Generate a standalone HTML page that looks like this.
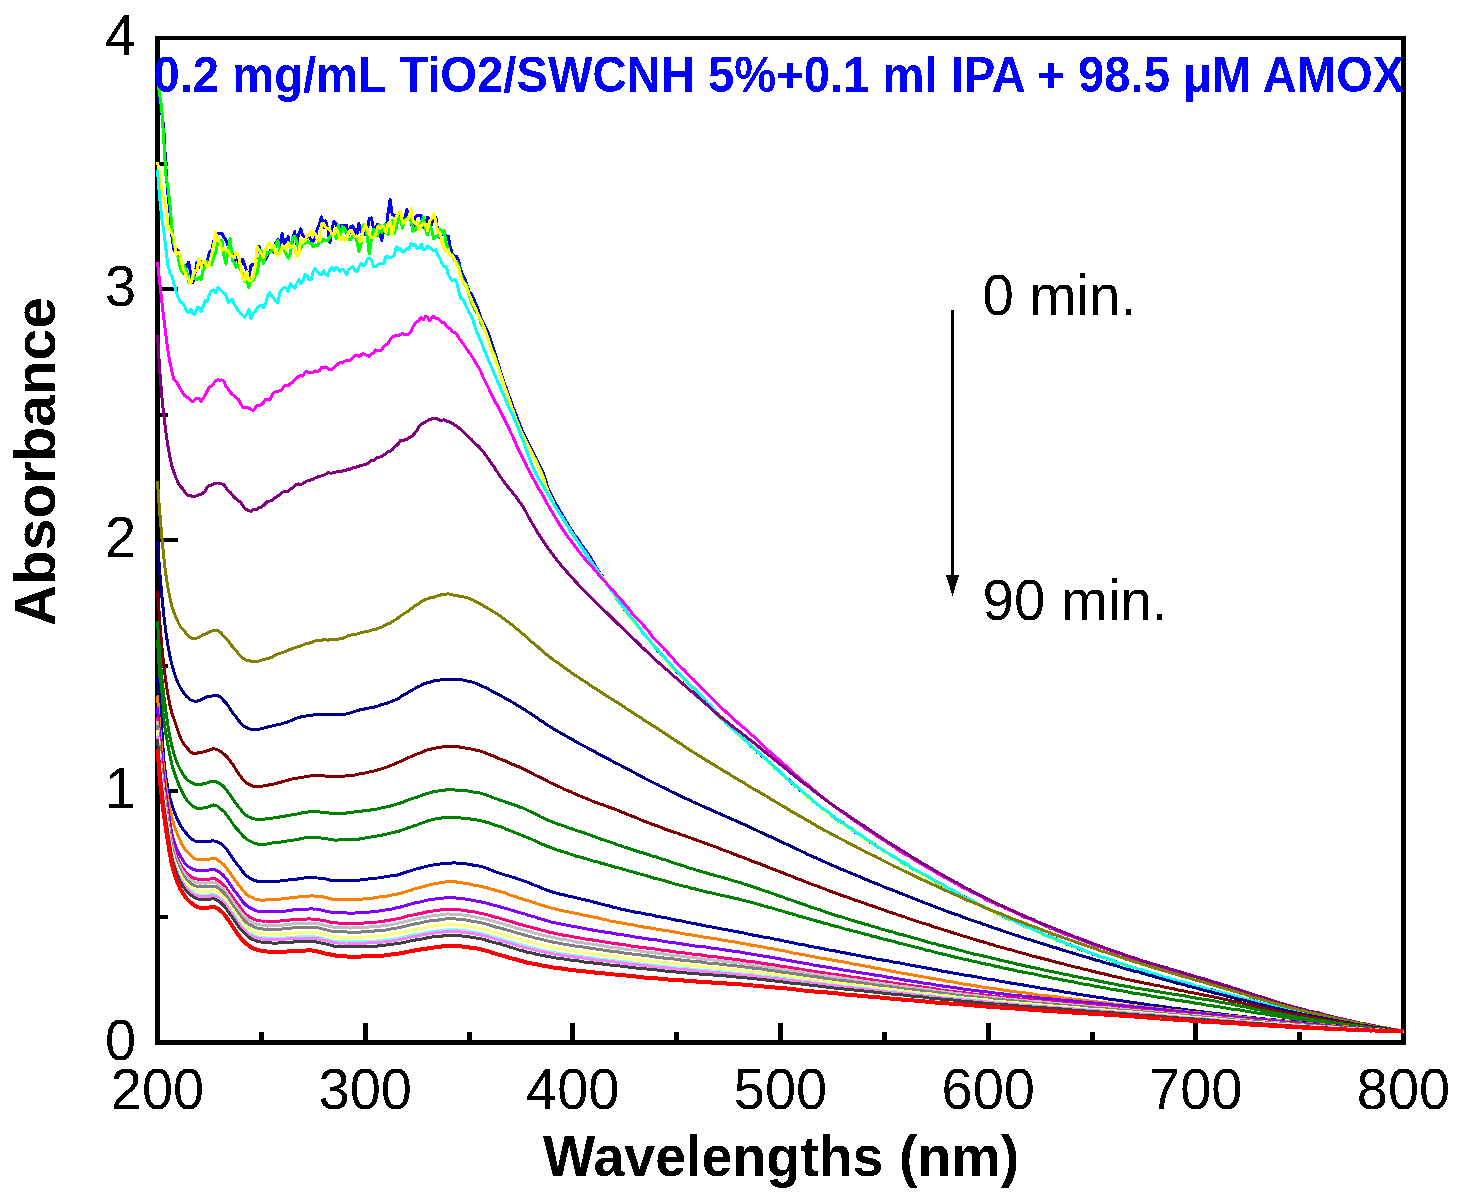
<!DOCTYPE html>
<html lang="en"><head><meta charset="utf-8"><title>Absorbance spectra</title>
<style>html,body{margin:0;padding:0;background:#fff}svg{display:block}</style></head>
<body>
<svg width="1465" height="1203" viewBox="0 0 1465 1203">
<rect width="1465" height="1203" fill="#fff"/>
<g shape-rendering="crispEdges" fill="#000">
<rect x="155" y="36" width="5" height="1009"/>
<rect x="1401" y="36" width="5" height="1009"/>
<rect x="155" y="36" width="1251" height="4"/>
<rect x="155" y="1040" width="1251" height="5"/>
<rect x="258.8" y="1032" width="5" height="9"/>
<rect x="362.7" y="1023" width="5" height="18"/>
<rect x="466.5" y="1032" width="5" height="9"/>
<rect x="570.3" y="1023" width="5" height="18"/>
<rect x="674.2" y="1032" width="5" height="9"/>
<rect x="778.0" y="1023" width="5" height="18"/>
<rect x="881.8" y="1032" width="5" height="9"/>
<rect x="985.7" y="1023" width="5" height="18"/>
<rect x="1089.5" y="1032" width="5" height="9"/>
<rect x="1193.3" y="1023" width="5" height="18"/>
<rect x="1297.2" y="1032" width="5" height="9"/>
<rect x="159" y="915.0" width="9" height="4"/>
<rect x="159" y="789.4" width="19" height="4"/>
<rect x="159" y="663.9" width="9" height="4"/>
<rect x="159" y="538.3" width="19" height="4"/>
<rect x="159" y="412.8" width="9" height="4"/>
<rect x="159" y="287.2" width="19" height="4"/>
<rect x="159" y="161.6" width="9" height="4"/>
</g>
<g fill="none" stroke-linejoin="round" stroke-linecap="butt" shape-rendering="crispEdges">
<path d="M157.5 78.1 L159.6 100.7 L161.7 112.5 L163.7 126.8 L165.8 166.6 L167.9 194.1 L170.0 213.3 L172.0 236.7 L174.1 250.6 L176.2 249.4 L178.3 250.8 L180.3 257.7 L182.4 268.8 L184.5 274.1 L186.6 265.4 L188.7 262.2 L190.7 273.7 L192.8 282.9 L194.9 273.8 L197.0 262.2 L199.0 267.4 L201.1 262.3 L203.2 261.2 L205.3 266.4 L207.3 260.9 L209.4 252.1 L211.5 251.2 L213.6 241.8 L215.6 236.7 L217.7 233.2 L219.8 233.1 L221.9 233.7 L224.0 237.2 L226.0 240.3 L228.1 245.5 L230.2 249.6 L232.3 253.8 L234.3 263.9 L236.4 253.3 L238.5 263.3 L240.6 266.5 L242.6 259.4 L244.7 265.0 L246.8 271.0 L248.9 276.8 L250.9 265.9 L253.0 264.2 L255.1 264.8 L257.2 251.6 L259.3 246.7 L261.3 256.2 L263.4 259.9 L265.5 260.1 L267.6 256.0 L269.6 251.6 L271.7 248.1 L273.8 252.3 L275.9 243.0 L277.9 239.8 L280.0 244.2 L282.1 233.8 L284.2 243.6 L286.3 239.8 L288.3 236.7 L290.4 251.0 L292.5 239.9 L294.6 231.6 L296.6 243.7 L298.7 234.2 L300.8 228.9 L302.9 235.6 L304.9 237.4 L307.0 237.4 L309.1 236.1 L311.2 240.5 L313.2 241.2 L315.3 237.4 L317.4 228.4 L319.5 224.0 L321.6 216.7 L323.6 227.6 L325.7 221.0 L327.8 228.6 L329.9 242.3 L331.9 228.5 L334.0 221.6 L336.1 223.9 L338.2 232.0 L340.2 226.3 L342.3 225.2 L344.4 225.2 L346.5 225.5 L348.6 235.1 L350.6 226.9 L352.7 225.9 L354.8 230.2 L356.9 234.1 L358.9 223.7 L361.0 230.7 L363.1 234.0 L365.2 234.3 L367.2 230.9 L369.3 218.2 L371.4 218.0 L373.5 228.8 L375.6 228.0 L377.6 224.2 L379.7 233.6 L381.8 240.6 L383.9 228.1 L385.9 231.5 L388.0 213.6 L390.1 199.6 L392.2 214.4 L394.2 215.4 L396.3 215.8 L398.4 217.8 L400.5 214.7 L402.5 218.6 L404.6 219.4 L406.7 209.6 L408.8 215.4 L410.9 220.7 L412.9 229.9 L415.0 217.8 L417.1 215.0 L419.2 215.8 L421.2 215.9 L423.3 227.1 L425.4 225.5 L427.5 217.1 L429.5 218.5 L431.6 224.6 L433.7 217.1 L435.8 216.9 L437.9 232.3 L439.9 237.8 L442.0 234.2 L444.1 233.0 L446.2 237.2 L448.2 236.1 L450.3 247.2 L452.4 254.0 L454.5 256.5 L456.5 256.4 L458.6 260.9 L460.7 269.8 L462.8 275.5 L464.8 278.4 L466.9 284.6 L469.0 291.3 L471.1 294.0 L473.2 297.9 L475.2 302.6 L477.3 306.9 L479.4 313.9 L481.5 319.4 L483.5 323.7 L485.6 327.1 L487.7 331.7 L489.8 338.1 L491.8 344.0 L493.9 350.4 L496.0 356.4 L498.1 363.3 L500.1 370.7 L502.2 377.2 L504.3 383.3 L506.4 388.6 L508.5 394.4 L510.5 400.0 L512.6 405.9 L514.7 411.4 L516.8 416.7 L518.8 422.0 L520.9 427.4 L523.0 432.3 L525.1 436.7 L527.1 440.6 L529.2 444.8 L531.3 448.6 L533.4 453.1 L535.5 457.1 L537.5 461.1 L539.6 465.5 L541.7 469.7 L543.8 474.6 L545.8 481.0 L547.9 487.9 L550.0 492.4 L552.1 496.5 L554.1 500.9 L556.2 504.4 L558.3 507.8 L560.4 511.6 L562.5 515.3 L564.5 518.6 L566.6 522.3 L568.7 525.5 L570.8 528.7 L572.8 532.3 L574.9 535.7 L577.0 537.9 L579.1 540.8 L581.1 544.4 L583.2 547.0 L585.3 549.8 L587.4 552.9 L589.4 555.9 L591.5 559.2 L593.6 562.8 L595.7 566.6 L597.8 570.1 L599.8 573.1 L601.9 575.6 L604.0 579.1 L606.1 582.5 L608.1 585.7 L610.2 588.8 L612.3 591.3 L614.4 594.6 L616.4 597.2 L618.5 600.2 L620.6 603.6 L622.7 606.6 L624.8 609.8 L626.8 611.7 L628.9 614.7 L631.0 617.9 L633.1 620.4 L635.1 623.2 L637.2 625.5 L639.3 628.3 L641.4 631.1 L643.4 633.3 L645.5 635.6 L647.6 638.3 L649.7 640.7 L651.7 643.6 L653.8 646.0 L655.9 648.6 L658.0 651.1 L660.1 653.2 L662.1 655.4 L664.2 657.5 L666.3 659.8 L668.4 662.2 L670.4 664.8 L672.5 667.0 L674.6 669.3 L676.7 671.8 L678.7 673.8 L680.8 676.0 L682.9 678.6 L685.0 681.0 L687.0 682.4 L689.1 684.2 L691.2 686.1 L693.3 688.0 L695.4 690.4 L697.4 692.4 L699.5 694.4 L701.6 696.8 L703.7 698.6 L705.7 700.7 L707.8 703.2 L709.9 705.9 L712.0 708.2 L714.0 710.7 L716.1 713.3 L718.2 715.6 L720.3 717.6 L722.4 719.3 L724.4 720.9 L726.5 723.6 L728.6 725.7 L730.7 727.2 L732.7 729.1 L734.8 731.1 L736.9 732.7 L739.0 734.9 L741.0 736.8 L743.1 738.7 L745.2 740.9 L747.3 742.7 L749.4 744.7 L751.4 746.6 L753.5 748.4 L755.6 750.3 L757.7 752.6 L759.7 754.3 L761.8 756.4 L763.9 757.8 L766.0 759.8 L768.0 761.8 L770.1 763.3 L772.2 764.6 L774.3 767.3 L776.3 769.1 L778.4 770.6 L780.5 772.8 L782.6 774.8 L784.7 776.7 L786.7 778.4 L788.8 779.8 L790.9 782.1 L793.0 783.8 L795.0 785.6 L797.1 787.7 L799.2 789.7 L801.3 791.2 L803.3 792.7 L805.4 794.5 L807.5 795.8 L809.6 797.6 L811.6 799.4 L813.7 801.0 L815.8 803.0 L817.9 804.7 L820.0 806.8 L822.0 808.7 L824.1 809.4 L826.2 811.1 L828.3 812.6 L830.3 814.5 L832.4 816.1 L834.5 817.8 L836.6 819.3 L838.6 820.8 L840.7 822.0 L842.8 822.8 L844.9 824.3 L847.0 826.0 L849.0 827.6 L851.1 828.9 L853.2 831.0 L855.3 832.3 L857.3 833.8 L859.4 835.0 L861.5 836.7 L863.6 837.6 L865.6 839.1 L867.7 840.2 L869.8 841.8 L871.9 843.7 L874.0 844.3 L876.0 845.4 L878.1 847.2 L880.2 848.6 L882.3 849.5 L884.3 851.3 L886.4 852.7 L888.5 854.2 L890.6 855.4 L892.6 856.2 L894.7 857.4 L896.8 859.3 L898.9 860.1 L900.9 861.2 L903.0 862.9 L905.1 864.4 L907.2 865.7 L909.3 866.3 L911.3 868.1 L913.4 869.3 L915.5 870.2 L917.6 871.5 L919.6 872.6 L921.7 873.6 L923.8 874.8 L925.9 876.6 L927.9 877.3 L930.0 877.8 L932.1 879.6 L934.2 881.1 L936.2 882.3 L938.3 883.8 L940.4 884.5 L942.5 885.5 L944.6 886.8 L946.6 888.2 L948.7 889.4 L950.8 890.0 L952.9 890.7 L954.9 892.0 L957.0 892.9 L959.1 894.5 L961.2 895.6 L963.2 896.5 L965.3 897.4 L967.4 899.0 L969.5 900.1 L971.6 900.8 L973.6 902.0 L975.7 903.0 L977.8 904.1 L979.9 905.5 L981.9 906.2 L984.0 907.2 L986.1 908.3 L988.2 909.5 L990.2 910.4 L992.3 911.2 L994.4 911.9 L996.5 913.1 L998.5 913.9 L1000.6 915.1 L1002.7 916.2 L1004.8 917.2 L1006.9 917.9 L1008.9 918.7 L1011.0 919.6 L1013.1 921.0 L1015.2 921.9 L1017.2 922.7 L1019.3 923.2 L1021.4 924.4 L1023.5 924.6 L1025.5 926.4 L1027.6 927.5 L1029.7 928.3 L1031.8 928.9 L1033.9 929.7 L1035.9 931.1 L1038.0 932.0 L1040.1 932.9 L1042.2 934.1 L1044.2 935.0 L1046.3 935.1 L1048.4 935.8 L1050.5 936.8 L1052.5 937.7 L1054.6 938.3 L1056.7 939.0 L1058.8 940.2 L1060.8 941.3 L1062.9 942.4 L1065.0 943.2 L1067.1 944.4 L1069.2 944.6 L1071.2 945.1 L1073.3 946.4 L1075.4 947.3 L1077.5 947.8 L1079.5 949.0 L1081.6 950.1 L1083.7 951.0 L1085.8 951.4 L1087.8 952.0 L1089.9 952.9 L1092.0 953.7 L1094.1 954.7 L1096.2 955.2 L1098.2 955.9 L1100.3 956.1 L1102.4 957.3 L1104.5 958.7 L1106.5 959.1 L1108.6 959.9 L1110.7 960.0 L1112.8 960.7 L1114.8 961.3 L1116.9 962.3 L1119.0 963.3 L1121.1 963.6 L1123.2 964.1 L1125.2 965.0 L1127.3 966.5 L1129.4 966.9 L1131.5 967.3 L1133.5 968.0 L1135.6 968.7 L1137.7 969.2 L1139.8 969.5 L1141.8 970.1 L1143.9 971.5 L1146.0 972.1 L1148.1 972.3 L1150.1 972.6 L1152.2 973.4 L1154.3 974.3 L1156.4 974.7 L1158.5 975.6 L1160.5 976.0 L1162.6 976.5 L1164.7 977.5 L1166.8 978.0 L1168.8 978.8 L1170.9 979.1 L1173.0 979.5 L1175.1 980.3 L1177.1 980.9 L1179.2 981.7 L1181.3 982.2 L1183.4 982.5 L1185.5 983.2 L1187.5 983.9 L1189.6 984.0 L1191.7 984.5 L1193.8 985.2 L1195.8 986.1 L1197.9 986.5 L1200.0 987.2 L1202.1 987.3 L1204.1 987.9 L1206.2 988.9 L1208.3 989.3 L1210.4 990.0 L1212.4 989.9 L1214.5 990.6 L1216.6 991.4 L1218.7 991.9 L1220.8 992.1 L1222.8 993.0 L1224.9 993.1 L1227.0 994.1 L1229.1 994.9 L1231.1 995.6 L1233.2 995.9 L1235.3 996.0 L1237.4 996.6 L1239.4 997.3 L1241.5 998.1 L1243.6 998.5 L1245.7 999.2 L1247.8 999.8 L1249.8 1000.6 L1251.9 1000.4 L1254.0 1000.8 L1256.1 1001.9 L1258.1 1002.6 L1260.2 1002.8 L1262.3 1003.2 L1264.4 1003.8 L1266.4 1004.4 L1268.5 1004.8 L1270.6 1005.2 L1272.7 1005.5 L1274.7 1006.2 L1276.8 1007.2 L1278.9 1007.4 L1281.0 1008.0 L1283.1 1009.1 L1285.1 1009.2 L1287.2 1010.0 L1289.3 1010.1 L1291.4 1010.7 L1293.4 1011.0 L1295.5 1010.9 L1297.6 1011.6 L1299.7 1012.7 L1301.7 1012.7 L1303.8 1013.1 L1305.9 1013.3 L1308.0 1013.5 L1310.0 1014.3 L1312.1 1014.8 L1314.2 1015.3 L1316.3 1016.1 L1318.4 1015.9 L1320.4 1016.1 L1322.5 1016.8 L1324.6 1018.0 L1326.7 1018.0 L1328.7 1018.0 L1330.8 1018.6 L1332.9 1019.6 L1335.0 1019.6 L1337.0 1019.7 L1339.1 1020.2 L1341.2 1020.9 L1343.3 1021.7 L1345.4 1021.4 L1347.4 1021.2 L1349.5 1022.0 L1351.6 1022.8 L1353.7 1022.5 L1355.7 1022.9 L1357.8 1024.0 L1359.9 1024.2 L1362.0 1024.6 L1364.0 1025.0 L1366.1 1025.5 L1368.2 1025.9 L1370.3 1026.2 L1372.3 1026.8 L1374.4 1026.8 L1376.5 1027.1 L1378.6 1027.8 L1380.7 1027.8 L1382.7 1028.0 L1384.8 1028.3 L1386.9 1028.5 L1389.0 1029.6 L1391.0 1029.9 L1393.1 1030.4 L1395.2 1030.7 L1397.3 1030.6 L1399.3 1030.8 L1401.4 1031.2 L1403.5 1031.5" stroke="#0000ff" stroke-width="3"/>
<path d="M157.5 78.1 L159.6 94.4 L161.7 108.1 L163.7 138.6 L165.8 174.5 L167.9 186.9 L170.0 204.9 L172.0 229.5 L174.1 244.1 L176.2 252.9 L178.3 257.7 L180.3 268.6 L182.4 272.9 L184.5 266.0 L186.6 271.3 L188.7 281.9 L190.7 283.1 L192.8 274.6 L194.9 278.2 L197.0 279.9 L199.0 277.0 L201.1 279.8 L203.2 269.7 L205.3 266.5 L207.3 261.7 L209.4 263.1 L211.5 264.7 L213.6 257.6 L215.6 253.2 L217.7 242.4 L219.8 244.6 L221.9 240.0 L224.0 256.1 L226.0 264.1 L228.1 249.6 L230.2 238.3 L232.3 260.0 L234.3 263.1 L236.4 267.5 L238.5 264.4 L240.6 270.0 L242.6 273.7 L244.7 281.3 L246.8 281.1 L248.9 287.8 L250.9 278.9 L253.0 280.8 L255.1 276.7 L257.2 273.0 L259.3 260.5 L261.3 250.8 L263.4 263.3 L265.5 256.5 L267.6 252.3 L269.6 253.0 L271.7 248.3 L273.8 251.5 L275.9 244.9 L277.9 240.4 L280.0 252.0 L282.1 248.0 L284.2 250.7 L286.3 254.2 L288.3 258.0 L290.4 254.0 L292.5 237.4 L294.6 236.4 L296.6 240.6 L298.7 249.7 L300.8 249.1 L302.9 241.2 L304.9 243.2 L307.0 241.0 L309.1 243.1 L311.2 243.1 L313.2 246.7 L315.3 244.8 L317.4 245.7 L319.5 241.6 L321.6 242.2 L323.6 239.2 L325.7 240.7 L327.8 240.4 L329.9 237.0 L331.9 234.1 L334.0 233.9 L336.1 238.3 L338.2 225.1 L340.2 236.4 L342.3 226.8 L344.4 228.0 L346.5 233.7 L348.6 239.1 L350.6 239.4 L352.7 236.3 L354.8 236.1 L356.9 241.1 L358.9 251.3 L361.0 244.4 L363.1 224.9 L365.2 226.5 L367.2 235.8 L369.3 254.0 L371.4 239.6 L373.5 229.1 L375.6 234.9 L377.6 235.8 L379.7 225.3 L381.8 232.4 L383.9 225.9 L385.9 224.2 L388.0 235.1 L390.1 224.0 L392.2 220.2 L394.2 233.2 L396.3 227.8 L398.4 217.4 L400.5 218.1 L402.5 228.2 L404.6 220.1 L406.7 219.1 L408.8 217.9 L410.9 217.2 L412.9 231.4 L415.0 230.6 L417.1 224.0 L419.2 227.3 L421.2 223.3 L423.3 217.2 L425.4 229.0 L427.5 234.9 L429.5 225.0 L431.6 229.1 L433.7 238.7 L435.8 236.5 L437.9 235.9 L439.9 229.1 L442.0 233.2 L444.1 230.8 L446.2 243.5 L448.2 248.1 L450.3 254.9 L452.4 254.6 L454.5 261.0 L456.5 261.2 L458.6 265.9 L460.7 274.8 L462.8 280.4 L464.8 284.3 L466.9 285.9 L469.0 294.9 L471.1 301.3 L473.2 306.2 L475.2 311.0 L477.3 313.5 L479.4 317.9 L481.5 325.2 L483.5 327.5 L485.6 331.8 L487.7 336.7 L489.8 343.7 L491.8 349.4 L493.9 354.3 L496.0 360.6 L498.1 366.8 L500.1 372.7 L502.2 378.7 L504.3 385.7 L506.4 391.9 L508.5 398.1 L510.5 403.9 L512.6 409.7 L514.7 415.9 L516.8 420.7 L518.8 425.4 L520.9 430.9 L523.0 436.1 L525.1 439.8 L527.1 443.2 L529.2 447.5 L531.3 451.6 L533.4 455.9 L535.5 459.7 L537.5 464.0 L539.6 468.7 L541.7 473.2 L543.8 478.7 L545.8 485.7 L547.9 491.4 L550.0 495.6 L552.1 500.2 L554.1 504.3 L556.2 507.8 L558.3 511.3 L560.4 514.6 L562.5 518.0 L564.5 521.4 L566.6 524.5 L568.7 527.2 L570.8 530.7 L572.8 534.0 L574.9 536.9 L577.0 540.4 L579.1 543.1 L581.1 546.5 L583.2 549.5 L585.3 552.1 L587.4 555.2 L589.4 559.2 L591.5 562.4 L593.6 564.9 L595.7 568.0 L597.8 571.5 L599.8 573.9 L601.9 576.6 L604.0 580.0 L606.1 583.1 L608.1 585.7 L610.2 589.1 L612.3 592.0 L614.4 594.9 L616.4 598.3 L618.5 601.0 L620.6 604.2 L622.7 606.8 L624.8 609.2 L626.8 612.0 L628.9 615.1 L631.0 617.9 L633.1 620.6 L635.1 622.7 L637.2 625.2 L639.3 628.1 L641.4 631.0 L643.4 633.9 L645.5 635.5 L647.6 638.1 L649.7 640.8 L651.7 643.3 L653.8 645.8 L655.9 648.0 L658.0 650.1 L660.1 653.1 L662.1 655.8 L664.2 657.8 L666.3 660.1 L668.4 662.3 L670.4 664.4 L672.5 667.1 L674.6 669.3 L676.7 671.3 L678.7 673.6 L680.8 676.5 L682.9 678.6 L685.0 680.5 L687.0 682.4 L689.1 684.6 L691.2 686.5 L693.3 687.9 L695.4 689.7 L697.4 691.7 L699.5 694.0 L701.6 696.2 L703.7 697.9 L705.7 700.8 L707.8 703.4 L709.9 705.2 L712.0 708.1 L714.0 710.7 L716.1 713.0 L718.2 715.2 L720.3 717.3 L722.4 719.3 L724.4 720.9 L726.5 723.1 L728.6 725.4 L730.7 727.4 L732.7 729.5 L734.8 731.3 L736.9 732.5 L739.0 734.9 L741.0 736.8 L743.1 738.3 L745.2 740.4 L747.3 742.2 L749.4 744.4 L751.4 746.2 L753.5 748.7 L755.6 750.4 L757.7 751.9 L759.7 753.8 L761.8 755.2 L763.9 757.3 L766.0 759.4 L768.0 761.4 L770.1 762.8 L772.2 765.1 L774.3 767.6 L776.3 769.2 L778.4 770.9 L780.5 773.0 L782.6 774.6 L784.7 776.3 L786.7 778.6 L788.8 780.4 L790.9 781.8 L793.0 783.2 L795.0 786.0 L797.1 787.9 L799.2 788.9 L801.3 790.8 L803.3 793.0 L805.4 794.7 L807.5 795.8 L809.6 798.2 L811.6 800.2 L813.7 801.5 L815.8 803.3 L817.9 804.8 L820.0 806.3 L822.0 808.3 L824.1 809.3 L826.2 811.3 L828.3 813.1 L830.3 814.7 L832.4 816.4 L834.5 818.1 L836.6 819.7 L838.6 821.0 L840.7 822.0 L842.8 823.6 L844.9 824.9 L847.0 826.1 L849.0 827.8 L851.1 829.4 L853.2 831.1 L855.3 831.7 L857.3 833.4 L859.4 835.2 L861.5 836.4 L863.6 838.1 L865.6 839.1 L867.7 840.4 L869.8 841.8 L871.9 843.1 L874.0 844.3 L876.0 845.7 L878.1 847.4 L880.2 848.7 L882.3 850.0 L884.3 851.1 L886.4 852.9 L888.5 853.9 L890.6 855.1 L892.6 856.6 L894.7 857.8 L896.8 859.2 L898.9 860.5 L900.9 862.0 L903.0 863.2 L905.1 864.3 L907.2 865.2 L909.3 866.6 L911.3 868.1 L913.4 869.3 L915.5 870.1 L917.6 871.2 L919.6 872.5 L921.7 873.8 L923.8 874.7 L925.9 876.6 L927.9 877.7 L930.0 878.6 L932.1 879.7 L934.2 880.9 L936.2 882.6 L938.3 883.3 L940.4 884.1 L942.5 885.2 L944.6 886.4 L946.6 888.1 L948.7 889.0 L950.8 889.8 L952.9 890.6 L954.9 891.9 L957.0 893.4 L959.1 894.4 L961.2 895.4 L963.2 896.8 L965.3 897.9 L967.4 898.8 L969.5 899.6 L971.6 900.4 L973.6 902.2 L975.7 902.8 L977.8 904.0 L979.9 905.1 L981.9 905.8 L984.0 907.2 L986.1 908.0 L988.2 909.4 L990.2 910.0 L992.3 911.1 L994.4 912.5 L996.5 913.0 L998.5 914.5 L1000.6 915.6 L1002.7 915.6 L1004.8 917.1 L1006.9 918.7 L1008.9 919.2 L1011.0 919.8 L1013.1 920.9 L1015.2 921.4 L1017.2 922.5 L1019.3 924.0 L1021.4 924.6 L1023.5 925.8 L1025.5 927.3 L1027.6 927.2 L1029.7 927.6 L1031.8 928.8 L1033.9 930.2 L1035.9 931.3 L1038.0 931.8 L1040.1 932.4 L1042.2 933.4 L1044.2 935.0 L1046.3 935.5 L1048.4 936.1 L1050.5 937.4 L1052.5 938.2 L1054.6 938.7 L1056.7 940.1 L1058.8 941.0 L1060.8 941.4 L1062.9 942.2 L1065.0 943.4 L1067.1 944.1 L1069.2 944.9 L1071.2 946.0 L1073.3 946.9 L1075.4 947.0 L1077.5 947.7 L1079.5 948.8 L1081.6 949.7 L1083.7 950.7 L1085.8 951.7 L1087.8 952.1 L1089.9 952.5 L1092.0 953.5 L1094.1 954.3 L1096.2 955.5 L1098.2 956.3 L1100.3 956.7 L1102.4 957.7 L1104.5 958.1 L1106.5 958.7 L1108.6 959.5 L1110.7 960.5 L1112.8 961.5 L1114.8 962.2 L1116.9 962.8 L1119.0 963.2 L1121.1 964.0 L1123.2 964.6 L1125.2 965.5 L1127.3 965.9 L1129.4 966.5 L1131.5 967.3 L1133.5 968.2 L1135.6 968.5 L1137.7 969.1 L1139.8 969.6 L1141.8 970.1 L1143.9 971.3 L1146.0 972.1 L1148.1 972.1 L1150.1 972.6 L1152.2 973.7 L1154.3 974.2 L1156.4 974.5 L1158.5 975.7 L1160.5 976.1 L1162.6 976.5 L1164.7 977.4 L1166.8 977.8 L1168.8 978.4 L1170.9 979.1 L1173.0 979.9 L1175.1 980.1 L1177.1 981.0 L1179.2 981.6 L1181.3 982.5 L1183.4 982.8 L1185.5 983.0 L1187.5 983.4 L1189.6 983.8 L1191.7 984.6 L1193.8 985.3 L1195.8 986.1 L1197.9 986.6 L1200.0 986.8 L1202.1 987.7 L1204.1 988.1 L1206.2 988.7 L1208.3 989.6 L1210.4 990.3 L1212.4 990.3 L1214.5 990.7 L1216.6 991.7 L1218.7 992.4 L1220.8 992.8 L1222.8 993.4 L1224.9 993.2 L1227.0 993.8 L1229.1 994.3 L1231.1 994.9 L1233.2 995.6 L1235.3 996.4 L1237.4 997.3 L1239.4 997.8 L1241.5 998.2 L1243.6 998.5 L1245.7 999.4 L1247.8 999.9 L1249.8 999.7 L1251.9 1000.4 L1254.0 1001.3 L1256.1 1001.6 L1258.1 1002.2 L1260.2 1003.2 L1262.3 1003.5 L1264.4 1003.8 L1266.4 1004.4 L1268.5 1004.6 L1270.6 1005.1 L1272.7 1005.6 L1274.7 1006.2 L1276.8 1006.6 L1278.9 1007.5 L1281.0 1008.0 L1283.1 1008.6 L1285.1 1008.6 L1287.2 1009.1 L1289.3 1010.0 L1291.4 1010.5 L1293.4 1010.7 L1295.5 1011.1 L1297.6 1011.7 L1299.7 1012.0 L1301.7 1012.4 L1303.8 1013.1 L1305.9 1013.2 L1308.0 1013.2 L1310.0 1013.9 L1312.1 1014.7 L1314.2 1014.6 L1316.3 1015.6 L1318.4 1016.2 L1320.4 1016.6 L1322.5 1016.7 L1324.6 1017.2 L1326.7 1018.2 L1328.7 1018.9 L1330.8 1019.0 L1332.9 1019.0 L1335.0 1019.3 L1337.0 1020.1 L1339.1 1020.2 L1341.2 1020.2 L1343.3 1020.8 L1345.4 1021.6 L1347.4 1021.6 L1349.5 1022.1 L1351.6 1022.7 L1353.7 1023.1 L1355.7 1023.3 L1357.8 1024.0 L1359.9 1024.4 L1362.0 1024.2 L1364.0 1025.1 L1366.1 1025.6 L1368.2 1025.7 L1370.3 1025.9 L1372.3 1026.2 L1374.4 1026.0 L1376.5 1026.6 L1378.6 1027.5 L1380.7 1028.0 L1382.7 1028.0 L1384.8 1027.7 L1386.9 1028.1 L1389.0 1028.9 L1391.0 1029.7 L1393.1 1029.5 L1395.2 1029.9 L1397.3 1030.6 L1399.3 1031.0 L1401.4 1031.1 L1403.5 1030.6" stroke="#00ff00" stroke-width="3"/>
<path d="M157.5 162.1 L159.6 175.3 L161.7 191.3 L163.7 198.6 L165.8 207.3 L167.9 226.3 L170.0 230.7 L172.0 234.0 L174.1 238.0 L176.2 254.3 L178.3 252.1 L180.3 255.2 L182.4 267.5 L184.5 271.0 L186.6 277.2 L188.7 279.5 L190.7 283.8 L192.8 276.9 L194.9 270.7 L197.0 270.4 L199.0 258.3 L201.1 266.6 L203.2 261.1 L205.3 262.7 L207.3 267.3 L209.4 263.4 L211.5 255.4 L213.6 245.6 L215.6 232.5 L217.7 239.7 L219.8 242.0 L221.9 250.8 L224.0 248.2 L226.0 250.4 L228.1 250.5 L230.2 254.7 L232.3 255.9 L234.3 257.7 L236.4 252.5 L238.5 256.7 L240.6 266.2 L242.6 278.6 L244.7 280.3 L246.8 271.3 L248.9 280.8 L250.9 280.3 L253.0 278.1 L255.1 266.9 L257.2 246.5 L259.3 250.5 L261.3 253.8 L263.4 257.3 L265.5 249.3 L267.6 245.5 L269.6 243.0 L271.7 247.9 L273.8 245.5 L275.9 253.3 L277.9 255.8 L280.0 253.6 L282.1 247.7 L284.2 246.4 L286.3 250.2 L288.3 242.5 L290.4 247.8 L292.5 246.1 L294.6 248.6 L296.6 256.6 L298.7 255.1 L300.8 239.1 L302.9 242.9 L304.9 240.8 L307.0 235.5 L309.1 235.7 L311.2 231.0 L313.2 235.3 L315.3 233.9 L317.4 240.3 L319.5 240.9 L321.6 223.6 L323.6 223.6 L325.7 227.6 L327.8 228.8 L329.9 229.6 L331.9 234.0 L334.0 234.3 L336.1 228.5 L338.2 233.6 L340.2 240.1 L342.3 236.7 L344.4 240.1 L346.5 239.4 L348.6 232.3 L350.6 230.3 L352.7 232.7 L354.8 236.4 L356.9 235.9 L358.9 238.9 L361.0 241.8 L363.1 231.1 L365.2 224.2 L367.2 228.9 L369.3 234.2 L371.4 237.5 L373.5 236.8 L375.6 235.3 L377.6 226.6 L379.7 228.3 L381.8 225.9 L383.9 227.7 L385.9 232.2 L388.0 224.5 L390.1 221.1 L392.2 234.7 L394.2 224.7 L396.3 216.5 L398.4 214.0 L400.5 211.1 L402.5 223.3 L404.6 222.5 L406.7 219.2 L408.8 219.1 L410.9 208.5 L412.9 220.7 L415.0 223.4 L417.1 221.9 L419.2 230.0 L421.2 225.9 L423.3 223.2 L425.4 224.5 L427.5 230.7 L429.5 221.1 L431.6 218.7 L433.7 213.7 L435.8 221.6 L437.9 233.0 L439.9 232.1 L442.0 243.6 L444.1 247.3 L446.2 251.7 L448.2 250.0 L450.3 256.0 L452.4 255.5 L454.5 259.2 L456.5 264.5 L458.6 267.5 L460.7 276.3 L462.8 282.6 L464.8 283.1 L466.9 288.7 L469.0 293.9 L471.1 298.5 L473.2 304.1 L475.2 307.7 L477.3 312.5 L479.4 317.6 L481.5 321.5 L483.5 326.0 L485.6 332.3 L487.7 337.5 L489.8 344.4 L491.8 351.0 L493.9 355.3 L496.0 361.4 L498.1 366.9 L500.1 373.5 L502.2 380.0 L504.3 386.1 L506.4 391.6 L508.5 398.0 L510.5 404.2 L512.6 409.6 L514.7 415.2 L516.8 421.0 L518.8 426.5 L520.9 430.7 L523.0 435.6 L525.1 439.5 L527.1 443.3 L529.2 447.6 L531.3 452.1 L533.4 456.2 L535.5 460.2 L537.5 464.7 L539.6 469.1 L541.7 473.6 L543.8 479.7 L545.8 486.0 L547.9 490.8 L550.0 495.1 L552.1 499.7 L554.1 504.3 L556.2 508.0 L558.3 511.1 L560.4 514.8 L562.5 517.5 L564.5 520.9 L566.6 524.3 L568.7 528.0 L570.8 531.0 L572.8 534.3 L574.9 537.5 L577.0 540.5 L579.1 543.7 L581.1 546.6 L583.2 549.9 L585.3 552.7 L587.4 555.0 L589.4 558.7 L591.5 562.3 L593.6 565.1 L595.7 568.2 L597.8 571.2 L599.8 573.7 L601.9 576.2 L604.0 579.3 L606.1 582.6 L608.1 585.9 L610.2 588.4 L612.3 591.2 L614.4 594.9 L616.4 597.6 L618.5 600.2 L620.6 603.0 L622.7 606.6 L624.8 609.6 L626.8 612.4 L628.9 615.4 L631.0 618.1 L633.1 620.9 L635.1 623.3 L637.2 626.0 L639.3 628.6 L641.4 631.2 L643.4 633.2 L645.5 635.7 L647.6 638.3 L649.7 640.7 L651.7 643.3 L653.8 646.3 L655.9 648.7 L658.0 650.8 L660.1 653.1 L662.1 655.8 L664.2 657.7 L666.3 660.1 L668.4 663.0 L670.4 665.5 L672.5 667.6 L674.6 669.7 L676.7 671.3 L678.7 673.5 L680.8 676.0 L682.9 678.4 L685.0 680.5 L687.0 681.8 L689.1 683.9 L691.2 686.2 L693.3 687.9 L695.4 689.8 L697.4 692.1 L699.5 694.1 L701.6 696.2 L703.7 698.6 L705.7 701.2 L707.8 703.3 L709.9 705.3 L712.0 707.7 L714.0 710.3 L716.1 712.8 L718.2 714.7 L720.3 716.9 L722.4 719.2 L724.4 721.8 L726.5 723.8 L728.6 725.5 L730.7 727.6 L732.7 729.5 L734.8 731.3 L736.9 733.5 L739.0 735.3 L741.0 737.0 L743.1 739.1 L745.2 740.7 L747.3 742.6 L749.4 744.0 L751.4 746.0 L753.5 748.7 L755.6 750.4 L757.7 752.1 L759.7 753.9 L761.8 755.6 L763.9 757.8 L766.0 759.8 L768.0 761.9 L770.1 763.4 L772.2 765.3 L774.3 767.2 L776.3 768.9 L778.4 771.2 L780.5 772.8 L782.6 774.4 L784.7 777.1 L786.7 778.8 L788.8 780.2 L790.9 782.2 L793.0 783.7 L795.0 785.7 L797.1 787.2 L799.2 789.0 L801.3 790.8 L803.3 793.1 L805.4 794.9 L807.5 796.9 L809.6 798.7 L811.6 799.8 L813.7 801.5 L815.8 803.1 L817.9 804.6 L820.0 806.7 L822.0 808.6 L824.1 809.9 L826.2 811.4 L828.3 813.0 L830.3 814.6 L832.4 816.1 L834.5 817.3 L836.6 819.1 L838.6 820.4 L840.7 821.6 L842.8 823.3 L844.9 825.0 L847.0 826.6 L849.0 828.0 L851.1 829.4 L853.2 830.5 L855.3 832.1 L857.3 833.6 L859.4 835.0 L861.5 836.1 L863.6 838.0 L865.6 839.5 L867.7 840.7 L869.8 841.9 L871.9 843.1 L874.0 844.7 L876.0 845.7 L878.1 846.9 L880.2 848.4 L882.3 850.0 L884.3 851.2 L886.4 852.9 L888.5 853.6 L890.6 855.3 L892.6 856.7 L894.7 858.0 L896.8 859.0 L898.9 860.5 L900.9 861.6 L903.0 862.8 L905.1 863.7 L907.2 865.2 L909.3 866.7 L911.3 867.3 L913.4 868.7 L915.5 870.1 L917.6 871.6 L919.6 872.6 L921.7 873.8 L923.8 875.4 L925.9 876.2 L927.9 877.8 L930.0 878.9 L932.1 879.8 L934.2 880.5 L936.2 881.4 L938.3 883.3 L940.4 884.4 L942.5 885.3 L944.6 886.9 L946.6 888.1 L948.7 889.1 L950.8 889.7 L952.9 890.4 L954.9 892.2 L957.0 893.5 L959.1 894.4 L961.2 896.0 L963.2 896.8 L965.3 897.7 L967.4 899.4 L969.5 900.3 L971.6 900.8 L973.6 901.6 L975.7 903.2 L977.8 903.8 L979.9 905.1 L981.9 906.6 L984.0 907.3 L986.1 908.3 L988.2 909.3 L990.2 910.5 L992.3 911.4 L994.4 912.0 L996.5 913.1 L998.5 914.2 L1000.6 914.9 L1002.7 915.9 L1004.8 916.7 L1006.9 917.6 L1008.9 919.0 L1011.0 919.5 L1013.1 920.7 L1015.2 921.9 L1017.2 922.6 L1019.3 924.0 L1021.4 925.0 L1023.5 925.5 L1025.5 926.5 L1027.6 927.7 L1029.7 928.1 L1031.8 929.1 L1033.9 930.1 L1035.9 931.1 L1038.0 932.6 L1040.1 933.0 L1042.2 933.6 L1044.2 934.3 L1046.3 935.4 L1048.4 936.6 L1050.5 936.7 L1052.5 938.2 L1054.6 939.6 L1056.7 939.4 L1058.8 939.9 L1060.8 941.4 L1062.9 942.5 L1065.0 943.5 L1067.1 944.1 L1069.2 945.2 L1071.2 945.5 L1073.3 946.4 L1075.4 947.3 L1077.5 947.9 L1079.5 948.4 L1081.6 949.4 L1083.7 950.8 L1085.8 951.3 L1087.8 951.9 L1089.9 952.9 L1092.0 953.4 L1094.1 954.3 L1096.2 955.3 L1098.2 955.9 L1100.3 956.1 L1102.4 957.5 L1104.5 958.4 L1106.5 958.9 L1108.6 959.6 L1110.7 960.1 L1112.8 960.5 L1114.8 961.5 L1116.9 962.5 L1119.0 963.5 L1121.1 964.5 L1123.2 964.6 L1125.2 965.6 L1127.3 966.2 L1129.4 966.8 L1131.5 967.1 L1133.5 967.9 L1135.6 968.4 L1137.7 969.3 L1139.8 969.7 L1141.8 970.4 L1143.9 971.1 L1146.0 971.8 L1148.1 972.5 L1150.1 973.1 L1152.2 973.6 L1154.3 974.4 L1156.4 975.2 L1158.5 975.4 L1160.5 976.2 L1162.6 976.6 L1164.7 977.2 L1166.8 977.9 L1168.8 978.4 L1170.9 979.3 L1173.0 979.3 L1175.1 980.3 L1177.1 980.5 L1179.2 981.4 L1181.3 982.3 L1183.4 982.2 L1185.5 983.0 L1187.5 983.6 L1189.6 983.9 L1191.7 984.9 L1193.8 985.8 L1195.8 986.2 L1197.9 987.0 L1200.0 987.3 L1202.1 987.5 L1204.1 988.4 L1206.2 988.7 L1208.3 989.3 L1210.4 990.2 L1212.4 990.6 L1214.5 991.0 L1216.6 991.6 L1218.7 992.1 L1220.8 992.4 L1222.8 992.0 L1224.9 993.0 L1227.0 993.7 L1229.1 994.8 L1231.1 995.3 L1233.2 995.9 L1235.3 996.6 L1237.4 997.3 L1239.4 997.4 L1241.5 998.5 L1243.6 999.2 L1245.7 999.4 L1247.8 999.5 L1249.8 1000.6 L1251.9 1001.2 L1254.0 1001.7 L1256.1 1001.9 L1258.1 1002.8 L1260.2 1003.5 L1262.3 1003.6 L1264.4 1004.4 L1266.4 1004.4 L1268.5 1005.0 L1270.6 1005.8 L1272.7 1006.3 L1274.7 1006.4 L1276.8 1006.8 L1278.9 1007.7 L1281.0 1008.4 L1283.1 1008.6 L1285.1 1008.8 L1287.2 1009.2 L1289.3 1010.2 L1291.4 1010.5 L1293.4 1010.6 L1295.5 1010.7 L1297.6 1011.0 L1299.7 1011.6 L1301.7 1011.9 L1303.8 1012.6 L1305.9 1013.3 L1308.0 1013.6 L1310.0 1014.1 L1312.1 1014.7 L1314.2 1014.7 L1316.3 1015.6 L1318.4 1015.4 L1320.4 1016.6 L1322.5 1016.8 L1324.6 1017.1 L1326.7 1017.7 L1328.7 1018.2 L1330.8 1018.4 L1332.9 1019.0 L1335.0 1019.1 L1337.0 1019.8 L1339.1 1020.3 L1341.2 1020.7 L1343.3 1021.4 L1345.4 1021.3 L1347.4 1021.5 L1349.5 1021.9 L1351.6 1022.5 L1353.7 1023.0 L1355.7 1023.6 L1357.8 1023.9 L1359.9 1024.1 L1362.0 1024.6 L1364.0 1025.2 L1366.1 1025.7 L1368.2 1026.3 L1370.3 1026.1 L1372.3 1026.3 L1374.4 1026.4 L1376.5 1026.7 L1378.6 1027.5 L1380.7 1028.2 L1382.7 1028.2 L1384.8 1028.5 L1386.9 1028.9 L1389.0 1029.3 L1391.0 1029.6 L1393.1 1029.7 L1395.2 1029.5 L1397.3 1029.8 L1399.3 1030.7 L1401.4 1031.1 L1403.5 1032.0" stroke="#ffff00" stroke-width="3"/>
<path d="M157.5 170.1 L159.6 197.2 L161.7 217.9 L163.7 230.4 L165.8 247.6 L167.9 265.0 L170.0 272.9 L172.0 276.6 L174.1 284.0 L176.2 291.7 L178.3 297.6 L180.3 301.9 L182.4 303.0 L184.5 305.8 L186.6 310.6 L188.7 312.7 L190.7 309.1 L192.8 314.0 L194.9 314.1 L197.0 307.8 L199.0 307.6 L201.1 311.7 L203.2 306.0 L205.3 300.8 L207.3 301.2 L209.4 294.0 L211.5 290.8 L213.6 289.9 L215.6 292.7 L217.7 287.6 L219.8 289.7 L221.9 291.7 L224.0 293.1 L226.0 295.0 L228.1 302.3 L230.2 301.1 L232.3 299.1 L234.3 305.1 L236.4 307.2 L238.5 311.1 L240.6 313.5 L242.6 315.3 L244.7 317.4 L246.8 313.4 L248.9 309.4 L250.9 318.5 L253.0 313.6 L255.1 311.5 L257.2 307.7 L259.3 306.2 L261.3 305.3 L263.4 307.8 L265.5 303.8 L267.6 295.9 L269.6 292.5 L271.7 295.9 L273.8 298.7 L275.9 301.6 L277.9 302.5 L280.0 292.0 L282.1 289.4 L284.2 287.4 L286.3 288.9 L288.3 291.5 L290.4 283.9 L292.5 286.1 L294.6 288.2 L296.6 283.7 L298.7 279.7 L300.8 283.9 L302.9 280.9 L304.9 274.6 L307.0 275.7 L309.1 279.4 L311.2 279.3 L313.2 271.1 L315.3 268.5 L317.4 271.6 L319.5 274.2 L321.6 274.8 L323.6 270.6 L325.7 274.2 L327.8 275.9 L329.9 269.3 L331.9 267.6 L334.0 270.5 L336.1 267.4 L338.2 269.1 L340.2 271.2 L342.3 269.2 L344.4 270.6 L346.5 274.9 L348.6 269.3 L350.6 268.2 L352.7 266.7 L354.8 270.2 L356.9 271.7 L358.9 267.3 L361.0 263.1 L363.1 265.5 L365.2 264.6 L367.2 259.5 L369.3 257.8 L371.4 259.8 L373.5 266.8 L375.6 266.6 L377.6 265.2 L379.7 263.7 L381.8 263.6 L383.9 263.9 L385.9 256.2 L388.0 256.2 L390.1 258.0 L392.2 256.9 L394.2 255.7 L396.3 246.9 L398.4 249.4 L400.5 248.6 L402.5 252.0 L404.6 250.8 L406.7 248.7 L408.8 249.1 L410.9 243.5 L412.9 245.2 L415.0 244.6 L417.1 248.9 L419.2 248.0 L421.2 244.1 L423.3 249.9 L425.4 249.5 L427.5 245.7 L429.5 247.6 L431.6 249.2 L433.7 251.0 L435.8 249.6 L437.9 255.2 L439.9 258.4 L442.0 263.6 L444.1 266.5 L446.2 266.5 L448.2 274.3 L450.3 278.4 L452.4 280.7 L454.5 279.2 L456.5 281.7 L458.6 290.6 L460.7 297.9 L462.8 299.3 L464.8 303.4 L466.9 307.7 L469.0 312.2 L471.1 315.7 L473.2 320.6 L475.2 327.7 L477.3 333.1 L479.4 337.9 L481.5 342.7 L483.5 348.6 L485.6 353.0 L487.7 358.1 L489.8 363.2 L491.8 367.6 L493.9 372.7 L496.0 377.9 L498.1 382.5 L500.1 387.0 L502.2 392.0 L504.3 396.5 L506.4 401.3 L508.5 406.5 L510.5 410.5 L512.6 414.7 L514.7 420.1 L516.8 424.8 L518.8 429.7 L520.9 435.0 L523.0 440.4 L525.1 446.2 L527.1 451.8 L529.2 457.5 L531.3 463.1 L533.4 468.3 L535.5 472.5 L537.5 476.5 L539.6 480.4 L541.7 483.9 L543.8 487.1 L545.8 490.7 L547.9 493.9 L550.0 497.6 L552.1 501.3 L554.1 504.8 L556.2 507.9 L558.3 511.6 L560.4 515.1 L562.5 518.0 L564.5 521.4 L566.6 524.5 L568.7 528.1 L570.8 531.8 L572.8 535.0 L574.9 537.6 L577.0 540.4 L579.1 543.7 L581.1 546.9 L583.2 550.2 L585.3 553.1 L587.4 556.4 L589.4 559.2 L591.5 562.4 L593.6 564.9 L595.7 567.8 L597.8 571.1 L599.8 574.3 L601.9 577.3 L604.0 579.8 L606.1 582.5 L608.1 585.6 L610.2 588.7 L612.3 591.5 L614.4 594.5 L616.4 597.1 L618.5 600.2 L620.6 603.5 L622.7 605.9 L624.8 608.5 L626.8 611.9 L628.9 614.9 L631.0 617.1 L633.1 619.6 L635.1 622.0 L637.2 625.1 L639.3 627.9 L641.4 630.4 L643.4 633.5 L645.5 635.7 L647.6 637.9 L649.7 640.5 L651.7 642.9 L653.8 645.6 L655.9 647.9 L658.0 650.2 L660.1 653.1 L662.1 655.1 L664.2 656.9 L666.3 659.5 L668.4 661.9 L670.4 664.1 L672.5 666.6 L674.6 669.2 L676.7 670.9 L678.7 673.2 L680.8 675.1 L682.9 677.7 L685.0 679.7 L687.0 681.9 L689.1 684.4 L691.2 686.3 L693.3 687.9 L695.4 689.1 L697.4 691.7 L699.5 693.7 L701.6 695.8 L703.7 697.9 L705.7 700.2 L707.8 703.1 L709.9 704.9 L712.0 707.0 L714.0 709.7 L716.1 712.6 L718.2 714.1 L720.3 716.8 L722.4 719.0 L724.4 721.1 L726.5 723.8 L728.6 725.5 L730.7 727.3 L732.7 729.4 L734.8 731.0 L736.9 732.8 L739.0 734.6 L741.0 736.6 L743.1 738.4 L745.2 740.2 L747.3 742.0 L749.4 744.3 L751.4 745.8 L753.5 747.8 L755.6 750.2 L757.7 751.6 L759.7 753.0 L761.8 755.5 L763.9 757.3 L766.0 759.0 L768.0 761.3 L770.1 763.3 L772.2 764.9 L774.3 766.7 L776.3 768.3 L778.4 770.3 L780.5 772.4 L782.6 774.5 L784.7 776.4 L786.7 778.6 L788.8 780.1 L790.9 781.9 L793.0 783.7 L795.0 785.0 L797.1 787.0 L799.2 789.0 L801.3 790.8 L803.3 792.6 L805.4 794.2 L807.5 795.6 L809.6 797.4 L811.6 799.3 L813.7 801.2 L815.8 803.0 L817.9 804.5 L820.0 806.2 L822.0 808.1 L824.1 809.5 L826.2 810.7 L828.3 811.9 L830.3 813.8 L832.4 815.7 L834.5 817.0 L836.6 818.9 L838.6 820.0 L840.7 821.3 L842.8 822.9 L844.9 824.1 L847.0 826.0 L849.0 827.3 L851.1 828.3 L853.2 829.5 L855.3 831.6 L857.3 833.5 L859.4 834.3 L861.5 835.3 L863.6 836.9 L865.6 838.5 L867.7 839.8 L869.8 841.4 L871.9 842.5 L874.0 844.4 L876.0 845.8 L878.1 847.1 L880.2 848.1 L882.3 849.6 L884.3 851.3 L886.4 852.1 L888.5 853.3 L890.6 854.9 L892.6 856.2 L894.7 857.1 L896.8 858.3 L898.9 859.9 L900.9 861.2 L903.0 862.2 L905.1 863.6 L907.2 864.3 L909.3 865.8 L911.3 867.6 L913.4 868.9 L915.5 869.8 L917.6 871.0 L919.6 872.3 L921.7 873.4 L923.8 874.4 L925.9 875.3 L927.9 876.6 L930.0 877.7 L932.1 878.6 L934.2 880.5 L936.2 881.4 L938.3 882.4 L940.4 883.6 L942.5 884.5 L944.6 886.0 L946.6 886.9 L948.7 888.6 L950.8 889.4 L952.9 890.2 L954.9 891.6 L957.0 892.8 L959.1 893.9 L961.2 895.3 L963.2 896.6 L965.3 898.0 L967.4 898.3 L969.5 899.5 L971.6 900.8 L973.6 901.5 L975.7 902.2 L977.8 904.1 L979.9 905.3 L981.9 905.4 L984.0 906.9 L986.1 908.1 L988.2 908.9 L990.2 910.0 L992.3 910.7 L994.4 911.6 L996.5 913.0 L998.5 913.6 L1000.6 914.2 L1002.7 915.0 L1004.8 916.6 L1006.9 917.5 L1008.9 918.3 L1011.0 919.4 L1013.1 920.6 L1015.2 921.6 L1017.2 922.2 L1019.3 923.6 L1021.4 924.6 L1023.5 925.4 L1025.5 926.1 L1027.6 926.9 L1029.7 927.9 L1031.8 928.9 L1033.9 929.9 L1035.9 930.9 L1038.0 931.6 L1040.1 932.4 L1042.2 933.6 L1044.2 934.7 L1046.3 935.7 L1048.4 936.2 L1050.5 936.6 L1052.5 937.6 L1054.6 938.7 L1056.7 939.5 L1058.8 940.5 L1060.8 941.1 L1062.9 942.0 L1065.0 942.3 L1067.1 943.8 L1069.2 944.8 L1071.2 945.3 L1073.3 946.3 L1075.4 947.0 L1077.5 947.6 L1079.5 948.7 L1081.6 949.5 L1083.7 950.0 L1085.8 951.0 L1087.8 952.0 L1089.9 952.7 L1092.0 953.3 L1094.1 954.3 L1096.2 954.7 L1098.2 955.7 L1100.3 956.9 L1102.4 957.1 L1104.5 957.7 L1106.5 958.1 L1108.6 959.0 L1110.7 959.6 L1112.8 960.1 L1114.8 961.3 L1116.9 962.5 L1119.0 963.1 L1121.1 963.6 L1123.2 964.0 L1125.2 964.8 L1127.3 966.3 L1129.4 967.0 L1131.5 966.8 L1133.5 967.3 L1135.6 967.8 L1137.7 968.9 L1139.8 969.6 L1141.8 969.8 L1143.9 970.6 L1146.0 971.4 L1148.1 971.8 L1150.1 972.5 L1152.2 973.6 L1154.3 973.9 L1156.4 974.4 L1158.5 974.8 L1160.5 975.5 L1162.6 976.7 L1164.7 977.4 L1166.8 977.5 L1168.8 977.9 L1170.9 979.0 L1173.0 979.5 L1175.1 979.8 L1177.1 980.8 L1179.2 981.2 L1181.3 981.4 L1183.4 982.3 L1185.5 982.5 L1187.5 983.1 L1189.6 983.7 L1191.7 984.5 L1193.8 985.1 L1195.8 986.1 L1197.9 986.7 L1200.0 986.9 L1202.1 987.5 L1204.1 987.9 L1206.2 988.5 L1208.3 989.2 L1210.4 989.8 L1212.4 990.6 L1214.5 991.0 L1216.6 991.1 L1218.7 991.8 L1220.8 992.1 L1222.8 993.3 L1224.9 993.2 L1227.0 993.7 L1229.1 994.7 L1231.1 994.9 L1233.2 995.4 L1235.3 996.4 L1237.4 996.6 L1239.4 997.4 L1241.5 997.9 L1243.6 998.2 L1245.7 999.4 L1247.8 999.9 L1249.8 1000.2 L1251.9 1000.5 L1254.0 1001.1 L1256.1 1001.6 L1258.1 1002.6 L1260.2 1003.0 L1262.3 1003.0 L1264.4 1003.5 L1266.4 1004.2 L1268.5 1004.5 L1270.6 1004.9 L1272.7 1005.2 L1274.7 1005.4 L1276.8 1007.0 L1278.9 1007.5 L1281.0 1008.2 L1283.1 1008.6 L1285.1 1008.9 L1287.2 1008.9 L1289.3 1009.5 L1291.4 1010.2 L1293.4 1010.4 L1295.5 1011.1 L1297.6 1011.9 L1299.7 1012.3 L1301.7 1012.5 L1303.8 1012.4 L1305.9 1013.8 L1308.0 1014.3 L1310.0 1014.0 L1312.1 1014.1 L1314.2 1014.7 L1316.3 1015.1 L1318.4 1015.8 L1320.4 1016.1 L1322.5 1016.7 L1324.6 1017.1 L1326.7 1017.5 L1328.7 1017.7 L1330.8 1018.3 L1332.9 1019.0 L1335.0 1019.1 L1337.0 1019.1 L1339.1 1019.9 L1341.2 1020.0 L1343.3 1020.4 L1345.4 1021.3 L1347.4 1022.1 L1349.5 1022.2 L1351.6 1022.6 L1353.7 1023.3 L1355.7 1023.2 L1357.8 1023.4 L1359.9 1024.1 L1362.0 1024.8 L1364.0 1024.7 L1366.1 1024.7 L1368.2 1025.6 L1370.3 1026.4 L1372.3 1026.3 L1374.4 1026.6 L1376.5 1027.3 L1378.6 1027.5 L1380.7 1027.2 L1382.7 1027.9 L1384.8 1028.7 L1386.9 1028.6 L1389.0 1029.3 L1391.0 1029.6 L1393.1 1029.3 L1395.2 1029.9 L1397.3 1030.1 L1399.3 1030.9 L1401.4 1031.4 L1403.5 1032.0" stroke="#00ffff" stroke-width="3"/>
<path d="M157.5 262.1 L159.6 281.3 L161.7 300.4 L163.7 317.5 L165.8 334.5 L167.9 350.5 L170.0 362.4 L172.0 372.0 L174.1 379.9 L176.2 381.8 L178.3 384.8 L180.3 388.8 L182.4 392.5 L184.5 395.6 L186.6 396.8 L188.7 398.2 L190.7 400.3 L192.8 401.6 L194.9 399.4 L197.0 398.5 L199.0 398.7 L201.1 401.1 L203.2 398.2 L205.3 395.0 L207.3 390.8 L209.4 387.1 L211.5 386.1 L213.6 383.6 L215.6 380.8 L217.7 379.9 L219.8 380.1 L221.9 379.9 L224.0 381.4 L226.0 386.4 L228.1 388.7 L230.2 392.1 L232.3 394.5 L234.3 395.9 L236.4 397.9 L238.5 399.4 L240.6 403.7 L242.6 407.0 L244.7 407.4 L246.8 407.3 L248.9 408.2 L250.9 409.3 L253.0 410.6 L255.1 408.4 L257.2 405.0 L259.3 405.5 L261.3 404.8 L263.4 402.6 L265.5 399.4 L267.6 399.7 L269.6 400.1 L271.7 396.0 L273.8 392.3 L275.9 391.7 L277.9 391.1 L280.0 390.9 L282.1 389.6 L284.2 386.0 L286.3 385.9 L288.3 385.8 L290.4 383.5 L292.5 382.6 L294.6 379.7 L296.6 378.3 L298.7 376.2 L300.8 375.7 L302.9 376.1 L304.9 372.1 L307.0 371.7 L309.1 372.8 L311.2 372.0 L313.2 372.6 L315.3 371.0 L317.4 372.0 L319.5 370.6 L321.6 367.3 L323.6 367.4 L325.7 367.0 L327.8 368.4 L329.9 369.6 L331.9 369.5 L334.0 367.9 L336.1 365.7 L338.2 363.9 L340.2 362.2 L342.3 363.2 L344.4 361.2 L346.5 360.3 L348.6 360.6 L350.6 360.3 L352.7 357.5 L354.8 355.7 L356.9 355.0 L358.9 356.7 L361.0 355.0 L363.1 353.4 L365.2 354.8 L367.2 355.5 L369.3 356.2 L371.4 354.0 L373.5 353.2 L375.6 349.9 L377.6 350.2 L379.7 350.9 L381.8 349.8 L383.9 346.1 L385.9 344.8 L388.0 343.7 L390.1 339.7 L392.2 337.1 L394.2 336.0 L396.3 335.6 L398.4 335.8 L400.5 334.4 L402.5 333.4 L404.6 334.4 L406.7 334.1 L408.8 334.1 L410.9 331.5 L412.9 327.3 L415.0 323.3 L417.1 322.0 L419.2 320.1 L421.2 317.4 L423.3 319.8 L425.4 316.4 L427.5 317.2 L429.5 320.6 L431.6 318.2 L433.7 316.4 L435.8 318.4 L437.9 318.5 L439.9 320.2 L442.0 322.9 L444.1 322.5 L446.2 325.7 L448.2 327.5 L450.3 328.9 L452.4 331.8 L454.5 332.4 L456.5 334.0 L458.6 337.4 L460.7 340.6 L462.8 343.2 L464.8 346.2 L466.9 349.4 L469.0 352.2 L471.1 355.1 L473.2 358.3 L475.2 361.9 L477.3 365.4 L479.4 368.6 L481.5 373.1 L483.5 378.1 L485.6 382.3 L487.7 386.4 L489.8 390.8 L491.8 395.2 L493.9 399.0 L496.0 403.2 L498.1 406.6 L500.1 410.5 L502.2 414.6 L504.3 419.3 L506.4 423.4 L508.5 427.7 L510.5 431.9 L512.6 436.3 L514.7 440.6 L516.8 446.0 L518.8 450.3 L520.9 454.1 L523.0 458.5 L525.1 462.9 L527.1 467.1 L529.2 470.5 L531.3 474.9 L533.4 478.9 L535.5 482.5 L537.5 486.7 L539.6 490.3 L541.7 493.5 L543.8 497.0 L545.8 501.1 L547.9 504.9 L550.0 508.5 L552.1 511.8 L554.1 515.5 L556.2 519.0 L558.3 522.2 L560.4 525.9 L562.5 529.1 L564.5 531.8 L566.6 535.0 L568.7 538.3 L570.8 540.4 L572.8 543.3 L574.9 546.2 L577.0 548.7 L579.1 551.7 L581.1 554.4 L583.2 556.6 L585.3 559.4 L587.4 561.7 L589.4 564.0 L591.5 566.1 L593.6 568.7 L595.7 571.4 L597.8 573.6 L599.8 576.0 L601.9 578.7 L604.0 580.8 L606.1 582.9 L608.1 585.8 L610.2 587.9 L612.3 589.4 L614.4 591.8 L616.4 594.6 L618.5 596.9 L620.6 599.1 L622.7 601.6 L624.8 604.1 L626.8 606.5 L628.9 608.9 L631.0 611.6 L633.1 614.7 L635.1 616.8 L637.2 618.7 L639.3 620.7 L641.4 623.1 L643.4 625.3 L645.5 627.8 L647.6 630.1 L649.7 632.9 L651.7 635.8 L653.8 638.1 L655.9 640.7 L658.0 642.3 L660.1 644.6 L662.1 646.9 L664.2 649.1 L666.3 651.1 L668.4 653.5 L670.4 655.9 L672.5 658.0 L674.6 660.7 L676.7 663.1 L678.7 665.3 L680.8 667.1 L682.9 669.0 L685.0 671.0 L687.0 673.5 L689.1 675.9 L691.2 677.7 L693.3 679.4 L695.4 681.6 L697.4 683.8 L699.5 685.9 L701.6 687.8 L703.7 690.2 L705.7 692.6 L707.8 694.2 L709.9 696.3 L712.0 698.6 L714.0 700.3 L716.1 702.4 L718.2 704.7 L720.3 707.1 L722.4 708.7 L724.4 710.4 L726.5 712.4 L728.6 714.3 L730.7 715.9 L732.7 718.2 L734.8 720.1 L736.9 721.9 L739.0 723.9 L741.0 725.5 L743.1 727.1 L745.2 728.9 L747.3 730.9 L749.4 732.7 L751.4 734.6 L753.5 736.3 L755.6 738.3 L757.7 740.3 L759.7 742.3 L761.8 744.4 L763.9 746.7 L766.0 748.6 L768.0 750.3 L770.1 751.9 L772.2 753.7 L774.3 755.7 L776.3 757.5 L778.4 759.3 L780.5 761.0 L782.6 763.1 L784.7 764.8 L786.7 766.5 L788.8 768.4 L790.9 771.1 L793.0 772.7 L795.0 774.4 L797.1 775.8 L799.2 777.8 L801.3 779.6 L803.3 781.6 L805.4 783.2 L807.5 784.6 L809.6 786.7 L811.6 788.5 L813.7 789.8 L815.8 791.6 L817.9 793.3 L820.0 795.3 L822.0 797.0 L824.1 798.6 L826.2 800.0 L828.3 802.0 L830.3 803.4 L832.4 804.9 L834.5 806.5 L836.6 808.0 L838.6 809.2 L840.7 810.9 L842.8 812.6 L844.9 813.7 L847.0 815.6 L849.0 816.8 L851.1 818.1 L853.2 819.6 L855.3 821.5 L857.3 822.8 L859.4 824.0 L861.5 825.6 L863.6 827.1 L865.6 828.8 L867.7 829.9 L869.8 831.0 L871.9 832.3 L874.0 833.7 L876.0 835.5 L878.1 837.0 L880.2 838.1 L882.3 839.4 L884.3 840.3 L886.4 842.1 L888.5 843.8 L890.6 844.4 L892.6 845.8 L894.7 847.5 L896.8 849.2 L898.9 850.5 L900.9 851.9 L903.0 853.4 L905.1 854.5 L907.2 855.2 L909.3 856.2 L911.3 857.6 L913.4 859.3 L915.5 860.7 L917.6 861.4 L919.6 862.9 L921.7 864.0 L923.8 865.2 L925.9 866.8 L927.9 868.0 L930.0 868.9 L932.1 870.0 L934.2 871.4 L936.2 872.7 L938.3 873.8 L940.4 874.8 L942.5 876.2 L944.6 877.6 L946.6 878.3 L948.7 879.6 L950.8 880.7 L952.9 881.8 L954.9 883.3 L957.0 884.0 L959.1 885.1 L961.2 886.8 L963.2 888.1 L965.3 888.6 L967.4 889.3 L969.5 890.9 L971.6 892.1 L973.6 893.0 L975.7 893.6 L977.8 894.8 L979.9 895.6 L981.9 896.8 L984.0 898.6 L986.1 899.7 L988.2 900.7 L990.2 901.4 L992.3 902.3 L994.4 903.1 L996.5 904.6 L998.5 905.3 L1000.6 905.7 L1002.7 906.8 L1004.8 908.3 L1006.9 909.0 L1008.9 909.9 L1011.0 910.6 L1013.1 911.5 L1015.2 912.3 L1017.2 913.2 L1019.3 914.4 L1021.4 915.7 L1023.5 917.1 L1025.5 917.8 L1027.6 918.1 L1029.7 918.7 L1031.8 919.5 L1033.9 920.7 L1035.9 921.6 L1038.0 922.5 L1040.1 923.3 L1042.2 924.7 L1044.2 925.5 L1046.3 926.4 L1048.4 927.1 L1050.5 928.5 L1052.5 928.7 L1054.6 929.5 L1056.7 930.9 L1058.8 931.5 L1060.8 932.4 L1062.9 933.1 L1065.0 934.1 L1067.1 934.7 L1069.2 935.9 L1071.2 936.0 L1073.3 937.0 L1075.4 937.8 L1077.5 938.4 L1079.5 939.5 L1081.6 940.1 L1083.7 940.7 L1085.8 941.8 L1087.8 942.3 L1089.9 943.1 L1092.0 944.3 L1094.1 944.7 L1096.2 945.8 L1098.2 946.2 L1100.3 947.0 L1102.4 947.9 L1104.5 948.2 L1106.5 949.3 L1108.6 949.8 L1110.7 951.0 L1112.8 952.1 L1114.8 952.3 L1116.9 952.9 L1119.0 953.7 L1121.1 954.0 L1123.2 954.7 L1125.2 955.7 L1127.3 956.5 L1129.4 957.6 L1131.5 958.0 L1133.5 958.4 L1135.6 959.4 L1137.7 960.2 L1139.8 960.6 L1141.8 961.3 L1143.9 961.8 L1146.0 962.4 L1148.1 962.6 L1150.1 963.1 L1152.2 964.5 L1154.3 965.1 L1156.4 965.4 L1158.5 966.4 L1160.5 967.6 L1162.6 968.2 L1164.7 968.5 L1166.8 968.9 L1168.8 970.0 L1170.9 970.8 L1173.0 971.0 L1175.1 971.3 L1177.1 971.9 L1179.2 972.7 L1181.3 973.2 L1183.4 973.6 L1185.5 974.1 L1187.5 974.5 L1189.6 975.3 L1191.7 976.2 L1193.8 976.5 L1195.8 976.9 L1197.9 978.1 L1200.0 978.5 L1202.1 979.2 L1204.1 979.5 L1206.2 979.7 L1208.3 980.8 L1210.4 981.8 L1212.4 982.4 L1214.5 982.9 L1216.6 983.9 L1218.7 984.2 L1220.8 984.5 L1222.8 985.3 L1224.9 986.3 L1227.0 986.9 L1229.1 987.6 L1231.1 988.5 L1233.2 988.6 L1235.3 989.1 L1237.4 989.8 L1239.4 990.7 L1241.5 990.9 L1243.6 991.9 L1245.7 992.3 L1247.8 993.1 L1249.8 993.9 L1251.9 994.4 L1254.0 995.3 L1256.1 995.6 L1258.1 996.5 L1260.2 997.2 L1262.3 997.4 L1264.4 998.6 L1266.4 999.0 L1268.5 999.8 L1270.6 1000.4 L1272.7 1000.9 L1274.7 1002.0 L1276.8 1002.6 L1278.9 1002.9 L1281.0 1003.7 L1283.1 1004.2 L1285.1 1005.1 L1287.2 1005.4 L1289.3 1006.0 L1291.4 1006.4 L1293.4 1007.2 L1295.5 1007.5 L1297.6 1008.0 L1299.7 1008.9 L1301.7 1009.0 L1303.8 1009.5 L1305.9 1010.4 L1308.0 1010.7 L1310.0 1011.2 L1312.1 1012.0 L1314.2 1012.7 L1316.3 1012.6 L1318.4 1012.9 L1320.4 1013.1 L1322.5 1014.0 L1324.6 1015.0 L1326.7 1015.2 L1328.7 1015.4 L1330.8 1016.3 L1332.9 1016.8 L1335.0 1017.8 L1337.0 1018.5 L1339.1 1018.0 L1341.2 1018.7 L1343.3 1019.5 L1345.4 1020.0 L1347.4 1020.3 L1349.5 1020.3 L1351.6 1021.0 L1353.7 1021.5 L1355.7 1022.4 L1357.8 1022.9 L1359.9 1023.4 L1362.0 1023.3 L1364.0 1023.7 L1366.1 1024.2 L1368.2 1024.4 L1370.3 1024.9 L1372.3 1025.1 L1374.4 1025.8 L1376.5 1026.1 L1378.6 1026.7 L1380.7 1027.3 L1382.7 1027.6 L1384.8 1027.7 L1386.9 1028.5 L1389.0 1029.1 L1391.0 1029.1 L1393.1 1029.7 L1395.2 1029.3 L1397.3 1029.9 L1399.3 1030.8 L1401.4 1031.0 L1403.5 1030.9" stroke="#ff00ff" stroke-width="3"/>
<path d="M157.5 335.0 L159.6 368.5 L161.7 395.0 L163.7 414.6 L165.8 431.5 L167.9 446.0 L170.0 457.5 L172.0 466.4 L174.1 472.5 L176.2 478.4 L178.3 483.0 L180.3 486.2 L182.4 488.4 L184.5 491.3 L186.6 494.4 L188.7 495.9 L190.7 495.7 L192.8 496.7 L194.9 496.2 L197.0 495.9 L199.0 494.7 L201.1 494.5 L203.2 492.9 L205.3 490.9 L207.3 487.4 L209.4 485.5 L211.5 485.1 L213.6 483.7 L215.6 483.1 L217.7 483.0 L219.8 483.1 L221.9 483.9 L224.0 484.6 L226.0 487.9 L228.1 490.8 L230.2 492.2 L232.3 495.0 L234.3 497.3 L236.4 499.3 L238.5 501.0 L240.6 502.1 L242.6 505.2 L244.7 508.3 L246.8 509.8 L248.9 510.6 L250.9 511.3 L253.0 509.5 L255.1 509.0 L257.2 509.4 L259.3 507.6 L261.3 507.1 L263.4 505.5 L265.5 503.6 L267.6 501.5 L269.6 501.1 L271.7 500.4 L273.8 498.9 L275.9 497.2 L277.9 496.0 L280.0 494.5 L282.1 492.3 L284.2 491.8 L286.3 491.4 L288.3 491.5 L290.4 489.4 L292.5 487.8 L294.6 486.0 L296.6 484.5 L298.7 483.9 L300.8 484.5 L302.9 483.6 L304.9 482.2 L307.0 481.0 L309.1 480.3 L311.2 479.9 L313.2 479.1 L315.3 477.8 L317.4 477.0 L319.5 476.4 L321.6 475.9 L323.6 475.2 L325.7 474.2 L327.8 472.9 L329.9 473.0 L331.9 473.0 L334.0 472.5 L336.1 471.9 L338.2 471.1 L340.2 471.7 L342.3 471.0 L344.4 470.5 L346.5 470.0 L348.6 468.9 L350.6 469.2 L352.7 467.9 L354.8 467.4 L356.9 466.9 L358.9 466.3 L361.0 465.1 L363.1 465.0 L365.2 464.8 L367.2 463.7 L369.3 462.0 L371.4 460.3 L373.5 460.9 L375.6 458.8 L377.6 457.1 L379.7 457.1 L381.8 456.6 L383.9 454.6 L385.9 453.8 L388.0 451.9 L390.1 451.1 L392.2 449.8 L394.2 447.4 L396.3 445.7 L398.4 443.7 L400.5 440.5 L402.5 440.3 L404.6 440.0 L406.7 439.4 L408.8 438.0 L410.9 437.1 L412.9 435.3 L415.0 432.8 L417.1 430.0 L419.2 426.6 L421.2 424.3 L423.3 423.0 L425.4 422.1 L427.5 420.7 L429.5 419.4 L431.6 419.0 L433.7 418.7 L435.8 418.0 L437.9 419.1 L439.9 420.1 L442.0 420.4 L444.1 419.7 L446.2 421.0 L448.2 421.5 L450.3 422.3 L452.4 423.3 L454.5 424.8 L456.5 426.3 L458.6 427.6 L460.7 429.5 L462.8 431.3 L464.8 433.1 L466.9 435.4 L469.0 437.4 L471.1 439.2 L473.2 441.4 L475.2 443.5 L477.3 445.3 L479.4 447.4 L481.5 449.8 L483.5 452.0 L485.6 454.9 L487.7 458.0 L489.8 460.9 L491.8 463.8 L493.9 466.7 L496.0 470.1 L498.1 473.1 L500.1 476.3 L502.2 479.3 L504.3 482.3 L506.4 485.1 L508.5 487.6 L510.5 490.1 L512.6 492.6 L514.7 495.1 L516.8 498.0 L518.8 500.9 L520.9 503.8 L523.0 506.8 L525.1 510.4 L527.1 514.1 L529.2 518.2 L531.3 521.9 L533.4 525.3 L535.5 528.8 L537.5 532.3 L539.6 535.5 L541.7 538.7 L543.8 542.1 L545.8 545.1 L547.9 548.0 L550.0 550.7 L552.1 553.6 L554.1 556.2 L556.2 559.1 L558.3 561.8 L560.4 564.4 L562.5 566.8 L564.5 569.2 L566.6 571.5 L568.7 573.9 L570.8 576.4 L572.8 578.6 L574.9 580.8 L577.0 583.0 L579.1 585.3 L581.1 587.5 L583.2 589.5 L585.3 591.7 L587.4 593.9 L589.4 596.0 L591.5 598.0 L593.6 599.9 L595.7 602.1 L597.8 604.1 L599.8 606.1 L601.9 608.2 L604.0 610.3 L606.1 612.2 L608.1 614.2 L610.2 616.3 L612.3 618.3 L614.4 620.5 L616.4 622.5 L618.5 624.4 L620.6 626.2 L622.7 628.4 L624.8 630.4 L626.8 632.2 L628.9 634.1 L631.0 636.3 L633.1 638.4 L635.1 640.2 L637.2 642.2 L639.3 644.3 L641.4 646.6 L643.4 648.5 L645.5 650.4 L647.6 652.3 L649.7 654.3 L651.7 656.3 L653.8 658.2 L655.9 660.1 L658.0 662.2 L660.1 663.9 L662.1 665.7 L664.2 667.8 L666.3 669.4 L668.4 671.1 L670.4 672.9 L672.5 674.9 L674.6 676.8 L676.7 678.5 L678.7 680.3 L680.8 682.0 L682.9 683.9 L685.0 685.8 L687.0 687.6 L689.1 689.4 L691.2 691.3 L693.3 692.9 L695.4 694.8 L697.4 696.7 L699.5 698.3 L701.6 699.9 L703.7 701.7 L705.7 703.9 L707.8 705.6 L709.9 707.6 L712.0 709.4 L714.0 711.3 L716.1 713.1 L718.2 714.8 L720.3 716.6 L722.4 718.2 L724.4 719.9 L726.5 721.5 L728.6 723.3 L730.7 724.8 L732.7 726.6 L734.8 728.3 L736.9 729.6 L739.0 731.0 L741.0 732.7 L743.1 734.4 L745.2 736.1 L747.3 737.8 L749.4 739.5 L751.4 741.1 L753.5 742.5 L755.6 744.2 L757.7 745.9 L759.7 747.6 L761.8 749.6 L763.9 751.1 L766.0 752.8 L768.0 754.5 L770.1 756.0 L772.2 757.6 L774.3 759.3 L776.3 761.1 L778.4 762.8 L780.5 764.6 L782.6 766.2 L784.7 767.7 L786.7 769.5 L788.8 771.4 L790.9 773.0 L793.0 774.7 L795.0 776.2 L797.1 777.9 L799.2 779.6 L801.3 781.4 L803.3 782.8 L805.4 784.4 L807.5 785.9 L809.6 787.4 L811.6 789.2 L813.7 790.9 L815.8 792.3 L817.9 794.0 L820.0 795.6 L822.0 797.1 L824.1 798.8 L826.2 800.3 L828.3 801.8 L830.3 803.4 L832.4 804.8 L834.5 806.1 L836.6 807.7 L838.6 809.3 L840.7 810.4 L842.8 811.7 L844.9 813.1 L847.0 814.6 L849.0 816.2 L851.1 817.5 L853.2 818.9 L855.3 820.3 L857.3 821.8 L859.4 823.1 L861.5 824.5 L863.6 825.7 L865.6 827.2 L867.7 828.6 L869.8 830.0 L871.9 831.5 L874.0 832.9 L876.0 834.1 L878.1 835.6 L880.2 837.1 L882.3 838.3 L884.3 839.5 L886.4 841.0 L888.5 842.3 L890.6 843.4 L892.6 844.8 L894.7 846.1 L896.8 847.4 L898.9 848.6 L900.9 849.9 L903.0 851.4 L905.1 852.4 L907.2 853.9 L909.3 855.3 L911.3 856.6 L913.4 857.8 L915.5 858.9 L917.6 860.2 L919.6 861.6 L921.7 863.0 L923.8 864.1 L925.9 865.1 L927.9 866.3 L930.0 867.6 L932.1 869.0 L934.2 870.3 L936.2 871.4 L938.3 872.6 L940.4 873.6 L942.5 874.8 L944.6 876.2 L946.6 877.3 L948.7 878.3 L950.8 879.4 L952.9 880.7 L954.9 881.9 L957.0 882.9 L959.1 884.1 L961.2 885.2 L963.2 886.6 L965.3 887.6 L967.4 888.7 L969.5 889.6 L971.6 890.8 L973.6 892.0 L975.7 892.9 L977.8 894.1 L979.9 895.1 L981.9 896.1 L984.0 897.3 L986.1 898.2 L988.2 899.2 L990.2 900.2 L992.3 901.1 L994.4 902.3 L996.5 903.3 L998.5 904.3 L1000.6 905.3 L1002.7 906.2 L1004.8 907.2 L1006.9 908.0 L1008.9 908.9 L1011.0 910.0 L1013.1 910.7 L1015.2 911.7 L1017.2 912.7 L1019.3 913.7 L1021.4 914.5 L1023.5 915.6 L1025.5 916.6 L1027.6 917.3 L1029.7 918.3 L1031.8 919.0 L1033.9 919.8 L1035.9 920.9 L1038.0 922.0 L1040.1 922.8 L1042.2 923.7 L1044.2 924.5 L1046.3 925.5 L1048.4 926.2 L1050.5 926.8 L1052.5 927.7 L1054.6 928.7 L1056.7 929.6 L1058.8 930.3 L1060.8 931.3 L1062.9 931.9 L1065.0 932.8 L1067.1 933.6 L1069.2 934.4 L1071.2 935.2 L1073.3 936.2 L1075.4 937.1 L1077.5 937.6 L1079.5 938.3 L1081.6 939.3 L1083.7 940.0 L1085.8 940.8 L1087.8 941.6 L1089.9 942.5 L1092.0 943.1 L1094.1 944.0 L1096.2 944.7 L1098.2 945.4 L1100.3 946.1 L1102.4 946.9 L1104.5 947.7 L1106.5 948.7 L1108.6 949.4 L1110.7 950.0 L1112.8 950.7 L1114.8 951.3 L1116.9 952.2 L1119.0 952.8 L1121.1 953.4 L1123.2 954.3 L1125.2 955.0 L1127.3 955.6 L1129.4 956.6 L1131.5 957.1 L1133.5 957.7 L1135.6 958.3 L1137.7 959.1 L1139.8 959.9 L1141.8 960.8 L1143.9 961.4 L1146.0 961.9 L1148.1 962.4 L1150.1 963.2 L1152.2 963.7 L1154.3 964.4 L1156.4 964.8 L1158.5 965.6 L1160.5 966.1 L1162.6 966.7 L1164.7 967.2 L1166.8 967.8 L1168.8 968.8 L1170.9 969.4 L1173.0 969.8 L1175.1 970.6 L1177.1 971.0 L1179.2 971.6 L1181.3 972.2 L1183.4 972.9 L1185.5 973.7 L1187.5 974.2 L1189.6 974.7 L1191.7 975.3 L1193.8 976.0 L1195.8 976.7 L1197.9 977.4 L1200.0 977.9 L1202.1 978.4 L1204.1 978.9 L1206.2 979.5 L1208.3 980.3 L1210.4 980.9 L1212.4 981.6 L1214.5 982.3 L1216.6 982.7 L1218.7 983.3 L1220.8 984.1 L1222.8 984.8 L1224.9 985.5 L1227.0 985.9 L1229.1 986.6 L1231.1 987.2 L1233.2 988.2 L1235.3 988.7 L1237.4 989.3 L1239.4 990.0 L1241.5 990.5 L1243.6 991.3 L1245.7 992.0 L1247.8 992.7 L1249.8 993.4 L1251.9 994.1 L1254.0 994.7 L1256.1 995.4 L1258.1 996.1 L1260.2 996.6 L1262.3 997.1 L1264.4 997.8 L1266.4 998.6 L1268.5 999.5 L1270.6 1000.0 L1272.7 1000.6 L1274.7 1001.2 L1276.8 1001.9 L1278.9 1002.8 L1281.0 1003.2 L1283.1 1003.7 L1285.1 1004.6 L1287.2 1005.1 L1289.3 1005.5 L1291.4 1006.1 L1293.4 1006.8 L1295.5 1007.3 L1297.6 1007.8 L1299.7 1008.5 L1301.7 1008.9 L1303.8 1009.6 L1305.9 1010.0 L1308.0 1010.6 L1310.0 1011.3 L1312.1 1011.7 L1314.2 1012.1 L1316.3 1012.5 L1318.4 1013.0 L1320.4 1013.7 L1322.5 1014.1 L1324.6 1014.6 L1326.7 1015.2 L1328.7 1015.8 L1330.8 1016.2 L1332.9 1016.8 L1335.0 1017.3 L1337.0 1017.9 L1339.1 1018.3 L1341.2 1018.6 L1343.3 1019.0 L1345.4 1019.7 L1347.4 1020.1 L1349.5 1020.7 L1351.6 1021.1 L1353.7 1021.3 L1355.7 1022.0 L1357.8 1022.6 L1359.9 1022.9 L1362.0 1023.4 L1364.0 1023.6 L1366.1 1024.2 L1368.2 1024.7 L1370.3 1025.1 L1372.3 1025.5 L1374.4 1025.9 L1376.5 1026.3 L1378.6 1026.7 L1380.7 1027.1 L1382.7 1027.6 L1384.8 1028.1 L1386.9 1028.5 L1389.0 1028.7 L1391.0 1029.1 L1393.1 1029.5 L1395.2 1030.1 L1397.3 1030.3 L1399.3 1030.6 L1401.4 1030.9 L1403.5 1031.4" stroke="#800080" stroke-width="3"/>
<path d="M157.5 481.2 L159.6 510.6 L161.7 535.7 L163.7 556.6 L165.8 574.2 L167.9 587.5 L170.0 598.1 L172.0 606.8 L174.1 612.6 L176.2 617.9 L178.3 622.8 L180.3 626.5 L182.4 629.1 L184.5 631.3 L186.6 633.9 L188.7 636.5 L190.7 637.7 L192.8 638.7 L194.9 638.5 L197.0 638.0 L199.0 637.3 L201.1 635.9 L203.2 634.8 L205.3 634.0 L207.3 633.3 L209.4 632.0 L211.5 631.1 L213.6 630.4 L215.6 630.5 L217.7 630.5 L219.8 631.9 L221.9 634.0 L224.0 636.4 L226.0 638.5 L228.1 640.5 L230.2 643.6 L232.3 646.4 L234.3 648.9 L236.4 650.9 L238.5 653.8 L240.6 656.2 L242.6 658.0 L244.7 659.2 L246.8 660.4 L248.9 660.5 L250.9 661.2 L253.0 661.6 L255.1 661.6 L257.2 661.7 L259.3 660.9 L261.3 660.2 L263.4 659.4 L265.5 659.1 L267.6 658.5 L269.6 658.0 L271.7 657.5 L273.8 655.9 L275.9 654.7 L277.9 654.1 L280.0 653.5 L282.1 652.6 L284.2 652.0 L286.3 651.2 L288.3 650.1 L290.4 649.5 L292.5 648.7 L294.6 647.8 L296.6 647.2 L298.7 646.5 L300.8 646.0 L302.9 645.0 L304.9 644.0 L307.0 643.8 L309.1 643.2 L311.2 642.5 L313.2 641.8 L315.3 640.9 L317.4 640.2 L319.5 640.2 L321.6 640.1 L323.6 639.9 L325.7 639.9 L327.8 640.1 L329.9 639.8 L331.9 639.7 L334.0 639.8 L336.1 639.5 L338.2 639.2 L340.2 638.7 L342.3 638.5 L344.4 637.7 L346.5 636.7 L348.6 635.6 L350.6 635.2 L352.7 634.4 L354.8 634.1 L356.9 634.0 L358.9 633.4 L361.0 632.6 L363.1 632.1 L365.2 631.9 L367.2 631.4 L369.3 631.0 L371.4 630.2 L373.5 629.4 L375.6 629.5 L377.6 628.5 L379.7 627.7 L381.8 627.1 L383.9 626.0 L385.9 624.9 L388.0 623.9 L390.1 623.1 L392.2 621.7 L394.2 620.4 L396.3 619.4 L398.4 617.7 L400.5 615.9 L402.5 614.7 L404.6 613.3 L406.7 612.0 L408.8 610.7 L410.9 609.0 L412.9 607.6 L415.0 605.9 L417.1 604.7 L419.2 603.3 L421.2 601.5 L423.3 600.8 L425.4 599.7 L427.5 598.9 L429.5 598.0 L431.6 597.2 L433.7 597.2 L435.8 596.6 L437.9 595.7 L439.9 595.1 L442.0 594.8 L444.1 594.4 L446.2 594.1 L448.2 593.9 L450.3 594.3 L452.4 594.9 L454.5 595.2 L456.5 595.4 L458.6 596.1 L460.7 596.4 L462.8 596.7 L464.8 597.2 L466.9 597.6 L469.0 598.3 L471.1 599.2 L473.2 600.1 L475.2 601.4 L477.3 602.4 L479.4 603.4 L481.5 604.6 L483.5 605.8 L485.6 607.1 L487.7 608.3 L489.8 609.4 L491.8 610.6 L493.9 611.9 L496.0 613.3 L498.1 614.6 L500.1 615.9 L502.2 617.5 L504.3 618.9 L506.4 620.7 L508.5 622.3 L510.5 623.8 L512.6 625.4 L514.7 627.3 L516.8 629.0 L518.8 630.5 L520.9 632.4 L523.0 634.3 L525.1 635.7 L527.1 637.5 L529.2 639.5 L531.3 641.5 L533.4 643.2 L535.5 645.0 L537.5 646.6 L539.6 648.5 L541.7 650.3 L543.8 652.0 L545.8 653.9 L547.9 655.5 L550.0 657.1 L552.1 658.9 L554.1 660.5 L556.2 661.7 L558.3 663.2 L560.4 664.7 L562.5 666.3 L564.5 667.7 L566.6 669.2 L568.7 670.7 L570.8 672.2 L572.8 673.6 L574.9 675.0 L577.0 676.4 L579.1 677.6 L581.1 679.2 L583.2 680.6 L585.3 681.8 L587.4 683.1 L589.4 684.6 L591.5 686.2 L593.6 687.5 L595.7 688.7 L597.8 690.0 L599.8 691.4 L601.9 692.7 L604.0 694.2 L606.1 695.6 L608.1 696.8 L610.2 698.1 L612.3 699.4 L614.4 700.8 L616.4 701.9 L618.5 703.3 L620.6 704.6 L622.7 706.1 L624.8 707.4 L626.8 708.9 L628.9 710.1 L631.0 711.6 L633.1 713.0 L635.1 714.3 L637.2 715.5 L639.3 716.8 L641.4 718.2 L643.4 719.7 L645.5 721.0 L647.6 722.4 L649.7 723.6 L651.7 724.9 L653.8 726.1 L655.9 727.4 L658.0 728.9 L660.1 730.3 L662.1 731.7 L664.2 733.1 L666.3 734.4 L668.4 735.8 L670.4 736.9 L672.5 738.4 L674.6 739.9 L676.7 741.3 L678.7 742.7 L680.8 743.8 L682.9 745.3 L685.0 746.8 L687.0 748.2 L689.1 749.5 L691.2 750.8 L693.3 752.2 L695.4 753.4 L697.4 754.7 L699.5 756.1 L701.6 757.2 L703.7 758.6 L705.7 759.9 L707.8 761.1 L709.9 762.4 L712.0 763.7 L714.0 764.9 L716.1 766.3 L718.2 767.5 L720.3 768.7 L722.4 770.1 L724.4 771.4 L726.5 772.4 L728.6 773.7 L730.7 775.1 L732.7 776.5 L734.8 777.7 L736.9 778.8 L739.0 780.2 L741.0 781.3 L743.1 782.3 L745.2 783.8 L747.3 785.2 L749.4 786.4 L751.4 787.7 L753.5 788.9 L755.6 790.0 L757.7 791.2 L759.7 792.3 L761.8 793.7 L763.9 794.8 L766.0 796.0 L768.0 797.2 L770.1 798.5 L772.2 799.9 L774.3 801.1 L776.3 802.1 L778.4 803.4 L780.5 804.7 L782.6 806.0 L784.7 807.2 L786.7 808.3 L788.8 809.8 L790.9 811.0 L793.0 812.2 L795.0 813.4 L797.1 814.5 L799.2 815.9 L801.3 817.0 L803.3 818.1 L805.4 819.3 L807.5 820.4 L809.6 821.7 L811.6 822.9 L813.7 824.1 L815.8 825.3 L817.9 826.7 L820.0 827.6 L822.0 828.9 L824.1 830.2 L826.2 831.1 L828.3 832.2 L830.3 833.5 L832.4 834.4 L834.5 835.7 L836.6 836.6 L838.6 837.8 L840.7 838.9 L842.8 839.9 L844.9 840.9 L847.0 842.1 L849.0 843.2 L851.1 844.2 L853.2 845.3 L855.3 846.5 L857.3 847.6 L859.4 848.6 L861.5 849.7 L863.6 850.8 L865.6 851.9 L867.7 852.9 L869.8 853.9 L871.9 854.9 L874.0 855.8 L876.0 856.9 L878.1 858.0 L880.2 859.0 L882.3 860.2 L884.3 861.2 L886.4 862.2 L888.5 863.2 L890.6 864.3 L892.6 865.4 L894.7 866.5 L896.8 867.3 L898.9 868.4 L900.9 869.4 L903.0 870.5 L905.1 871.4 L907.2 872.3 L909.3 873.4 L911.3 874.5 L913.4 875.5 L915.5 876.5 L917.6 877.5 L919.6 878.5 L921.7 879.4 L923.8 880.3 L925.9 881.3 L927.9 882.3 L930.0 883.2 L932.1 884.2 L934.2 885.0 L936.2 885.9 L938.3 886.9 L940.4 887.9 L942.5 888.8 L944.6 890.1 L946.6 890.9 L948.7 891.8 L950.8 892.8 L952.9 893.6 L954.9 894.6 L957.0 895.5 L959.1 896.3 L961.2 897.4 L963.2 898.4 L965.3 899.5 L967.4 900.3 L969.5 900.9 L971.6 901.9 L973.6 902.6 L975.7 903.5 L977.8 904.2 L979.9 905.3 L981.9 906.3 L984.0 907.3 L986.1 908.2 L988.2 908.9 L990.2 909.7 L992.3 910.7 L994.4 911.4 L996.5 912.1 L998.5 913.0 L1000.6 913.7 L1002.7 914.4 L1004.8 915.5 L1006.9 916.4 L1008.9 917.2 L1011.0 918.2 L1013.1 919.0 L1015.2 919.8 L1017.2 920.6 L1019.3 921.3 L1021.4 922.0 L1023.5 922.7 L1025.5 923.6 L1027.6 924.4 L1029.7 925.3 L1031.8 926.0 L1033.9 926.7 L1035.9 927.6 L1038.0 928.2 L1040.1 929.0 L1042.2 929.9 L1044.2 930.7 L1046.3 931.4 L1048.4 932.2 L1050.5 933.0 L1052.5 934.0 L1054.6 934.6 L1056.7 935.2 L1058.8 936.1 L1060.8 936.8 L1062.9 937.5 L1065.0 938.4 L1067.1 938.9 L1069.2 939.6 L1071.2 940.4 L1073.3 941.2 L1075.4 941.9 L1077.5 942.7 L1079.5 943.4 L1081.6 944.0 L1083.7 944.7 L1085.8 945.6 L1087.8 946.3 L1089.9 946.9 L1092.0 947.5 L1094.1 948.3 L1096.2 948.9 L1098.2 949.8 L1100.3 950.8 L1102.4 951.4 L1104.5 951.8 L1106.5 952.6 L1108.6 953.1 L1110.7 953.9 L1112.8 954.6 L1114.8 955.4 L1116.9 956.0 L1119.0 956.7 L1121.1 957.5 L1123.2 958.1 L1125.2 958.9 L1127.3 959.4 L1129.4 960.0 L1131.5 960.9 L1133.5 961.4 L1135.6 962.0 L1137.7 962.6 L1139.8 963.2 L1141.8 964.1 L1143.9 964.7 L1146.0 965.2 L1148.1 965.8 L1150.1 966.5 L1152.2 967.3 L1154.3 967.9 L1156.4 968.5 L1158.5 969.0 L1160.5 969.8 L1162.6 970.4 L1164.7 970.9 L1166.8 971.5 L1168.8 972.3 L1170.9 972.9 L1173.0 973.5 L1175.1 974.0 L1177.1 974.6 L1179.2 975.2 L1181.3 975.9 L1183.4 976.5 L1185.5 977.2 L1187.5 977.8 L1189.6 978.1 L1191.7 978.8 L1193.8 979.5 L1195.8 980.2 L1197.9 980.7 L1200.0 981.1 L1202.1 981.6 L1204.1 982.3 L1206.2 982.9 L1208.3 983.6 L1210.4 984.4 L1212.4 984.8 L1214.5 985.4 L1216.6 986.0 L1218.7 986.6 L1220.8 987.4 L1222.8 987.9 L1224.9 988.6 L1227.0 989.2 L1229.1 989.6 L1231.1 990.3 L1233.2 990.9 L1235.3 991.5 L1237.4 992.1 L1239.4 992.9 L1241.5 993.6 L1243.6 993.9 L1245.7 994.7 L1247.8 995.5 L1249.8 996.1 L1251.9 997.0 L1254.0 997.2 L1256.1 997.8 L1258.1 998.6 L1260.2 999.0 L1262.3 999.7 L1264.4 1000.3 L1266.4 1000.8 L1268.5 1001.6 L1270.6 1002.3 L1272.7 1002.7 L1274.7 1003.3 L1276.8 1003.8 L1278.9 1004.7 L1281.0 1005.1 L1283.1 1005.6 L1285.1 1006.2 L1287.2 1006.9 L1289.3 1007.4 L1291.4 1007.9 L1293.4 1008.5 L1295.5 1008.9 L1297.6 1009.5 L1299.7 1010.2 L1301.7 1010.7 L1303.8 1010.8 L1305.9 1011.3 L1308.0 1012.0 L1310.0 1012.5 L1312.1 1013.1 L1314.2 1013.5 L1316.3 1014.0 L1318.4 1014.3 L1320.4 1014.6 L1322.5 1015.1 L1324.6 1015.8 L1326.7 1016.3 L1328.7 1016.9 L1330.8 1017.3 L1332.9 1017.7 L1335.0 1018.1 L1337.0 1018.7 L1339.1 1019.2 L1341.2 1019.5 L1343.3 1020.1 L1345.4 1020.4 L1347.4 1020.8 L1349.5 1021.3 L1351.6 1021.8 L1353.7 1022.2 L1355.7 1022.7 L1357.8 1022.9 L1359.9 1023.3 L1362.0 1023.7 L1364.0 1024.2 L1366.1 1024.5 L1368.2 1025.1 L1370.3 1025.6 L1372.3 1026.1 L1374.4 1026.2 L1376.5 1026.4 L1378.6 1027.0 L1380.7 1027.4 L1382.7 1027.6 L1384.8 1028.0 L1386.9 1028.4 L1389.0 1029.0 L1391.0 1029.4 L1393.1 1029.7 L1395.2 1030.2 L1397.3 1030.6 L1399.3 1030.9 L1401.4 1031.1 L1403.5 1031.5" stroke="#808000" stroke-width="3"/>
<path d="M157.5 541.1 L159.6 570.2 L161.7 594.3 L163.7 614.6 L165.8 631.7 L167.9 645.1 L170.0 656.3 L172.0 665.2 L174.1 672.4 L176.2 678.7 L178.3 683.6 L180.3 687.5 L182.4 691.0 L184.5 694.0 L186.6 696.5 L188.7 698.4 L190.7 699.8 L192.8 700.7 L194.9 701.2 L197.0 701.1 L199.0 700.6 L201.1 699.8 L203.2 698.7 L205.3 697.5 L207.3 696.8 L209.4 696.5 L211.5 696.1 L213.6 695.7 L215.6 695.4 L217.7 695.4 L219.8 696.7 L221.9 698.7 L224.0 700.9 L226.0 703.0 L228.1 705.6 L230.2 708.9 L232.3 712.1 L234.3 714.8 L236.4 717.4 L238.5 720.4 L240.6 723.0 L242.6 725.2 L244.7 726.7 L246.8 727.7 L248.9 728.5 L250.9 729.3 L253.0 729.6 L255.1 729.8 L257.2 729.6 L259.3 729.2 L261.3 728.8 L263.4 728.2 L265.5 727.7 L267.6 727.0 L269.6 726.8 L271.7 726.1 L273.8 725.5 L275.9 725.1 L277.9 724.4 L280.0 724.1 L282.1 723.8 L284.2 723.0 L286.3 722.5 L288.3 721.6 L290.4 720.8 L292.5 719.9 L294.6 719.0 L296.6 718.2 L298.7 717.5 L300.8 716.9 L302.9 716.6 L304.9 716.2 L307.0 715.9 L309.1 715.4 L311.2 715.0 L313.2 715.0 L315.3 714.9 L317.4 714.5 L319.5 714.3 L321.6 714.5 L323.6 714.4 L325.7 714.3 L327.8 714.4 L329.9 714.2 L331.9 714.6 L334.0 714.6 L336.1 714.3 L338.2 714.5 L340.2 714.7 L342.3 714.7 L344.4 714.4 L346.5 713.8 L348.6 713.2 L350.6 712.9 L352.7 712.2 L354.8 711.3 L356.9 710.7 L358.9 710.1 L361.0 709.7 L363.1 709.4 L365.2 708.8 L367.2 708.6 L369.3 708.0 L371.4 707.6 L373.5 707.2 L375.6 706.8 L377.6 706.2 L379.7 705.2 L381.8 704.5 L383.9 704.1 L385.9 703.4 L388.0 702.9 L390.1 701.9 L392.2 701.2 L394.2 700.4 L396.3 699.5 L398.4 698.5 L400.5 696.9 L402.5 695.6 L404.6 694.5 L406.7 693.3 L408.8 691.8 L410.9 690.7 L412.9 689.6 L415.0 688.4 L417.1 687.3 L419.2 686.4 L421.2 685.3 L423.3 684.1 L425.4 683.2 L427.5 682.8 L429.5 682.3 L431.6 681.6 L433.7 680.9 L435.8 680.3 L437.9 680.2 L439.9 680.0 L442.0 679.6 L444.1 679.5 L446.2 679.3 L448.2 679.3 L450.3 679.0 L452.4 679.0 L454.5 679.0 L456.5 679.2 L458.6 679.5 L460.7 679.7 L462.8 680.0 L464.8 680.6 L466.9 681.0 L469.0 681.4 L471.1 681.7 L473.2 682.4 L475.2 683.0 L477.3 683.8 L479.4 684.8 L481.5 685.9 L483.5 686.8 L485.6 687.6 L487.7 688.6 L489.8 689.9 L491.8 691.0 L493.9 692.1 L496.0 693.3 L498.1 694.5 L500.1 695.4 L502.2 696.6 L504.3 697.8 L506.4 698.8 L508.5 699.9 L510.5 701.2 L512.6 702.4 L514.7 703.7 L516.8 705.0 L518.8 706.1 L520.9 707.4 L523.0 708.7 L525.1 710.0 L527.1 711.6 L529.2 712.7 L531.3 713.8 L533.4 715.4 L535.5 716.8 L537.5 718.2 L539.6 719.8 L541.7 721.2 L543.8 722.3 L545.8 724.0 L547.9 725.4 L550.0 726.5 L552.1 727.9 L554.1 729.2 L556.2 730.3 L558.3 731.7 L560.4 732.7 L562.5 734.0 L564.5 735.2 L566.6 736.4 L568.7 737.7 L570.8 738.7 L572.8 739.8 L574.9 741.2 L577.0 742.4 L579.1 743.5 L581.1 744.6 L583.2 745.7 L585.3 746.6 L587.4 747.8 L589.4 749.0 L591.5 750.1 L593.6 751.0 L595.7 752.4 L597.8 753.5 L599.8 754.6 L601.9 755.5 L604.0 756.7 L606.1 757.8 L608.1 759.0 L610.2 760.0 L612.3 761.2 L614.4 762.4 L616.4 763.3 L618.5 764.2 L620.6 765.4 L622.7 766.5 L624.8 767.7 L626.8 768.7 L628.9 769.7 L631.0 770.9 L633.1 772.1 L635.1 773.1 L637.2 774.2 L639.3 775.4 L641.4 776.5 L643.4 777.5 L645.5 778.7 L647.6 779.9 L649.7 780.8 L651.7 781.8 L653.8 782.9 L655.9 783.9 L658.0 784.9 L660.1 786.1 L662.1 787.0 L664.2 788.0 L666.3 789.0 L668.4 790.1 L670.4 791.2 L672.5 792.3 L674.6 793.0 L676.7 794.1 L678.7 795.1 L680.8 796.2 L682.9 797.3 L685.0 798.1 L687.0 799.0 L689.1 799.8 L691.2 801.0 L693.3 802.1 L695.4 803.0 L697.4 803.8 L699.5 804.8 L701.6 805.8 L703.7 806.6 L705.7 807.6 L707.8 808.4 L709.9 809.3 L712.0 810.1 L714.0 811.2 L716.1 812.4 L718.2 813.0 L720.3 814.0 L722.4 815.0 L724.4 815.8 L726.5 816.8 L728.6 817.5 L730.7 818.5 L732.7 819.4 L734.8 820.3 L736.9 821.1 L739.0 822.1 L741.0 823.2 L743.1 824.1 L745.2 824.8 L747.3 826.0 L749.4 827.0 L751.4 827.9 L753.5 828.9 L755.6 829.8 L757.7 830.8 L759.7 831.8 L761.8 832.7 L763.9 833.6 L766.0 834.7 L768.0 835.9 L770.1 836.6 L772.2 837.2 L774.3 838.4 L776.3 839.4 L778.4 840.4 L780.5 841.4 L782.6 842.5 L784.7 843.5 L786.7 844.3 L788.8 845.3 L790.9 846.2 L793.0 847.2 L795.0 848.2 L797.1 849.3 L799.2 850.1 L801.3 851.2 L803.3 852.1 L805.4 853.1 L807.5 854.4 L809.6 855.2 L811.6 856.1 L813.7 857.0 L815.8 857.8 L817.9 858.9 L820.0 859.7 L822.0 860.7 L824.1 861.6 L826.2 862.6 L828.3 863.6 L830.3 864.5 L832.4 865.3 L834.5 866.3 L836.6 867.0 L838.6 868.0 L840.7 869.0 L842.8 869.7 L844.9 870.6 L847.0 871.5 L849.0 872.5 L851.1 873.3 L853.2 874.0 L855.3 874.9 L857.3 875.7 L859.4 876.4 L861.5 877.5 L863.6 878.6 L865.6 879.4 L867.7 880.1 L869.8 881.0 L871.9 882.0 L874.0 882.7 L876.0 883.5 L878.1 884.2 L880.2 885.1 L882.3 886.2 L884.3 887.1 L886.4 887.9 L888.5 888.6 L890.6 889.3 L892.6 890.0 L894.7 890.9 L896.8 891.8 L898.9 892.6 L900.9 893.6 L903.0 894.2 L905.1 895.1 L907.2 895.8 L909.3 896.7 L911.3 897.6 L913.4 898.5 L915.5 899.2 L917.6 900.0 L919.6 900.8 L921.7 901.6 L923.8 902.5 L925.9 903.3 L927.9 904.0 L930.0 904.9 L932.1 905.7 L934.2 906.4 L936.2 907.3 L938.3 908.1 L940.4 908.7 L942.5 909.7 L944.6 910.3 L946.6 911.2 L948.7 912.0 L950.8 912.7 L952.9 913.4 L954.9 914.2 L957.0 914.7 L959.1 915.4 L961.2 916.5 L963.2 917.2 L965.3 917.9 L967.4 918.8 L969.5 919.4 L971.6 920.2 L973.6 920.8 L975.7 921.5 L977.8 922.3 L979.9 922.8 L981.9 923.8 L984.0 924.4 L986.1 925.0 L988.2 926.0 L990.2 926.6 L992.3 927.3 L994.4 928.1 L996.5 928.7 L998.5 929.4 L1000.6 930.1 L1002.7 930.9 L1004.8 931.6 L1006.9 932.2 L1008.9 933.0 L1011.0 933.7 L1013.1 934.4 L1015.2 935.0 L1017.2 935.5 L1019.3 936.6 L1021.4 937.1 L1023.5 937.9 L1025.5 938.6 L1027.6 939.1 L1029.7 939.7 L1031.8 940.3 L1033.9 941.2 L1035.9 941.7 L1038.0 942.4 L1040.1 943.0 L1042.2 943.6 L1044.2 944.3 L1046.3 944.8 L1048.4 945.6 L1050.5 946.4 L1052.5 947.0 L1054.6 947.5 L1056.7 948.1 L1058.8 948.7 L1060.8 949.5 L1062.9 950.1 L1065.0 950.6 L1067.1 951.4 L1069.2 952.0 L1071.2 952.6 L1073.3 953.3 L1075.4 953.8 L1077.5 954.6 L1079.5 955.1 L1081.6 955.6 L1083.7 956.4 L1085.8 956.9 L1087.8 957.5 L1089.9 958.1 L1092.0 958.9 L1094.1 959.6 L1096.2 960.2 L1098.2 960.7 L1100.3 961.1 L1102.4 962.0 L1104.5 962.7 L1106.5 963.2 L1108.6 963.7 L1110.7 964.3 L1112.8 964.7 L1114.8 965.4 L1116.9 965.9 L1119.0 966.6 L1121.1 967.3 L1123.2 968.0 L1125.2 968.7 L1127.3 969.3 L1129.4 969.7 L1131.5 970.2 L1133.5 971.0 L1135.6 971.3 L1137.7 971.7 L1139.8 972.3 L1141.8 973.3 L1143.9 973.7 L1146.0 974.3 L1148.1 975.1 L1150.1 975.7 L1152.2 975.9 L1154.3 976.6 L1156.4 977.3 L1158.5 977.9 L1160.5 978.4 L1162.6 979.0 L1164.7 979.7 L1166.8 980.2 L1168.8 980.7 L1170.9 981.3 L1173.0 982.0 L1175.1 982.6 L1177.1 983.2 L1179.2 983.5 L1181.3 984.1 L1183.4 984.6 L1185.5 985.2 L1187.5 986.1 L1189.6 986.6 L1191.7 987.0 L1193.8 987.4 L1195.8 987.9 L1197.9 988.6 L1200.0 989.2 L1202.1 989.7 L1204.1 990.5 L1206.2 990.7 L1208.3 991.3 L1210.4 991.7 L1212.4 992.4 L1214.5 993.0 L1216.6 993.3 L1218.7 993.9 L1220.8 994.4 L1222.8 995.0 L1224.9 995.4 L1227.0 996.1 L1229.1 996.7 L1231.1 997.2 L1233.2 997.7 L1235.3 998.3 L1237.4 999.0 L1239.4 999.4 L1241.5 999.9 L1243.6 1000.1 L1245.7 1000.6 L1247.8 1001.3 L1249.8 1001.8 L1251.9 1002.3 L1254.0 1002.9 L1256.1 1003.6 L1258.1 1004.2 L1260.2 1004.3 L1262.3 1004.9 L1264.4 1005.4 L1266.4 1006.0 L1268.5 1006.5 L1270.6 1007.0 L1272.7 1007.5 L1274.7 1007.9 L1276.8 1008.3 L1278.9 1008.7 L1281.0 1009.4 L1283.1 1009.8 L1285.1 1010.3 L1287.2 1010.8 L1289.3 1011.3 L1291.4 1011.8 L1293.4 1012.1 L1295.5 1012.7 L1297.6 1013.1 L1299.7 1013.5 L1301.7 1014.1 L1303.8 1014.5 L1305.9 1014.7 L1308.0 1015.2 L1310.0 1015.6 L1312.1 1016.0 L1314.2 1016.3 L1316.3 1016.8 L1318.4 1017.3 L1320.4 1017.5 L1322.5 1018.0 L1324.6 1018.4 L1326.7 1018.8 L1328.7 1019.2 L1330.8 1019.7 L1332.9 1020.1 L1335.0 1020.3 L1337.0 1020.6 L1339.1 1021.1 L1341.2 1021.6 L1343.3 1021.9 L1345.4 1022.4 L1347.4 1022.6 L1349.5 1022.9 L1351.6 1023.4 L1353.7 1024.0 L1355.7 1024.2 L1357.8 1024.5 L1359.9 1025.0 L1362.0 1025.0 L1364.0 1025.3 L1366.1 1025.8 L1368.2 1026.1 L1370.3 1026.6 L1372.3 1026.9 L1374.4 1027.1 L1376.5 1027.3 L1378.6 1027.7 L1380.7 1027.7 L1382.7 1028.0 L1384.8 1028.6 L1386.9 1029.0 L1389.0 1029.2 L1391.0 1029.5 L1393.1 1029.9 L1395.2 1030.2 L1397.3 1030.7 L1399.3 1030.9 L1401.4 1030.9 L1403.5 1031.4" stroke="#000080" stroke-width="3"/>
<path d="M157.5 590.6 L159.6 619.7 L161.7 645.2 L163.7 665.0 L165.8 681.1 L167.9 694.6 L170.0 705.4 L172.0 713.5 L174.1 719.4 L176.2 725.6 L178.3 731.9 L180.3 737.5 L182.4 741.9 L184.5 744.9 L186.6 747.4 L188.7 749.8 L190.7 752.1 L192.8 753.3 L194.9 753.3 L197.0 753.1 L199.0 752.7 L201.1 752.2 L203.2 752.0 L205.3 751.5 L207.3 750.8 L209.4 750.0 L211.5 749.2 L213.6 748.8 L215.6 749.1 L217.7 749.8 L219.8 751.1 L221.9 752.6 L224.0 754.1 L226.0 755.9 L228.1 758.2 L230.2 761.1 L232.3 763.8 L234.3 766.7 L236.4 770.3 L238.5 773.4 L240.6 776.4 L242.6 779.0 L244.7 781.1 L246.8 783.0 L248.9 784.2 L250.9 785.2 L253.0 786.2 L255.1 786.6 L257.2 786.5 L259.3 786.6 L261.3 786.5 L263.4 785.9 L265.5 785.5 L267.6 785.2 L269.6 784.7 L271.7 784.2 L273.8 784.0 L275.9 783.4 L277.9 782.9 L280.0 782.4 L282.1 781.8 L284.2 781.1 L286.3 780.7 L288.3 780.0 L290.4 779.5 L292.5 778.9 L294.6 778.6 L296.6 778.3 L298.7 777.8 L300.8 777.3 L302.9 777.2 L304.9 776.8 L307.0 776.3 L309.1 776.1 L311.2 775.9 L313.2 775.9 L315.3 775.8 L317.4 775.8 L319.5 775.9 L321.6 775.9 L323.6 775.8 L325.7 776.2 L327.8 776.3 L329.9 776.6 L331.9 776.8 L334.0 776.8 L336.1 776.9 L338.2 776.6 L340.2 776.5 L342.3 776.5 L344.4 776.1 L346.5 775.8 L348.6 775.6 L350.6 775.4 L352.7 775.3 L354.8 775.0 L356.9 774.6 L358.9 774.0 L361.0 773.7 L363.1 773.5 L365.2 773.0 L367.2 772.6 L369.3 772.0 L371.4 771.7 L373.5 771.2 L375.6 770.5 L377.6 770.0 L379.7 769.5 L381.8 768.8 L383.9 768.0 L385.9 767.4 L388.0 766.6 L390.1 765.7 L392.2 764.9 L394.2 764.1 L396.3 763.2 L398.4 762.3 L400.5 761.5 L402.5 760.6 L404.6 759.5 L406.7 758.3 L408.8 757.4 L410.9 756.6 L412.9 755.7 L415.0 754.7 L417.1 754.0 L419.2 753.3 L421.2 752.5 L423.3 751.8 L425.4 750.6 L427.5 749.9 L429.5 749.3 L431.6 749.0 L433.7 748.5 L435.8 748.1 L437.9 747.7 L439.9 747.3 L442.0 747.0 L444.1 746.8 L446.2 746.6 L448.2 746.4 L450.3 746.5 L452.4 746.5 L454.5 746.4 L456.5 746.5 L458.6 746.8 L460.7 747.4 L462.8 747.6 L464.8 747.9 L466.9 748.4 L469.0 748.6 L471.1 749.1 L473.2 749.4 L475.2 749.9 L477.3 750.5 L479.4 750.8 L481.5 751.5 L483.5 752.2 L485.6 753.0 L487.7 753.9 L489.8 754.7 L491.8 755.4 L493.9 756.3 L496.0 757.4 L498.1 758.3 L500.1 759.1 L502.2 759.8 L504.3 760.6 L506.4 761.5 L508.5 762.5 L510.5 763.5 L512.6 764.4 L514.7 765.1 L516.8 766.2 L518.8 766.8 L520.9 767.7 L523.0 768.9 L525.1 769.8 L527.1 770.8 L529.2 771.9 L531.3 773.1 L533.4 774.0 L535.5 775.3 L537.5 776.2 L539.6 777.1 L541.7 778.2 L543.8 779.3 L545.8 780.3 L547.9 781.4 L550.0 782.6 L552.1 783.5 L554.1 784.3 L556.2 785.3 L558.3 786.4 L560.4 787.2 L562.5 788.2 L564.5 789.4 L566.6 790.2 L568.7 791.0 L570.8 791.8 L572.8 792.9 L574.9 793.8 L577.0 794.6 L579.1 795.7 L581.1 796.5 L583.2 797.3 L585.3 798.2 L587.4 798.9 L589.4 799.6 L591.5 800.8 L593.6 801.7 L595.7 802.3 L597.8 803.2 L599.8 803.9 L601.9 804.5 L604.0 805.2 L606.1 806.0 L608.1 806.9 L610.2 807.6 L612.3 808.3 L614.4 809.0 L616.4 809.8 L618.5 810.6 L620.6 811.6 L622.7 812.4 L624.8 813.1 L626.8 814.1 L628.9 815.0 L631.0 815.7 L633.1 816.6 L635.1 817.3 L637.2 818.1 L639.3 819.2 L641.4 820.1 L643.4 820.9 L645.5 821.7 L647.6 822.5 L649.7 823.2 L651.7 824.0 L653.8 824.7 L655.9 825.4 L658.0 826.3 L660.1 827.1 L662.1 827.9 L664.2 828.9 L666.3 829.6 L668.4 830.2 L670.4 831.0 L672.5 831.7 L674.6 832.4 L676.7 832.9 L678.7 833.8 L680.8 834.6 L682.9 835.2 L685.0 835.8 L687.0 836.6 L689.1 837.3 L691.2 838.0 L693.3 838.9 L695.4 839.6 L697.4 840.4 L699.5 841.3 L701.6 841.9 L703.7 842.6 L705.7 843.4 L707.8 844.1 L709.9 845.0 L712.0 845.7 L714.0 846.4 L716.1 847.1 L718.2 848.0 L720.3 848.9 L722.4 849.8 L724.4 850.4 L726.5 851.1 L728.6 851.8 L730.7 852.7 L732.7 853.6 L734.8 854.4 L736.9 855.1 L739.0 856.1 L741.0 856.8 L743.1 857.4 L745.2 858.2 L747.3 859.1 L749.4 859.9 L751.4 860.9 L753.5 861.6 L755.6 862.3 L757.7 863.0 L759.7 863.7 L761.8 864.7 L763.9 865.6 L766.0 866.2 L768.0 867.1 L770.1 868.0 L772.2 868.9 L774.3 869.6 L776.3 870.3 L778.4 871.1 L780.5 872.1 L782.6 872.7 L784.7 873.6 L786.7 874.5 L788.8 875.2 L790.9 875.9 L793.0 876.8 L795.0 877.8 L797.1 878.6 L799.2 879.5 L801.3 880.0 L803.3 880.9 L805.4 881.7 L807.5 882.6 L809.6 883.4 L811.6 884.3 L813.7 884.9 L815.8 885.7 L817.9 886.2 L820.0 887.3 L822.0 888.0 L824.1 888.6 L826.2 889.6 L828.3 890.6 L830.3 891.2 L832.4 892.0 L834.5 892.6 L836.6 893.5 L838.6 894.2 L840.7 895.0 L842.8 895.7 L844.9 896.4 L847.0 897.0 L849.0 897.9 L851.1 898.7 L853.2 899.5 L855.3 900.2 L857.3 900.8 L859.4 901.5 L861.5 902.2 L863.6 902.9 L865.6 903.7 L867.7 904.5 L869.8 905.2 L871.9 905.8 L874.0 906.6 L876.0 907.2 L878.1 908.0 L880.2 908.8 L882.3 909.4 L884.3 910.1 L886.4 911.0 L888.5 911.8 L890.6 912.4 L892.6 913.1 L894.7 913.5 L896.8 914.4 L898.9 915.4 L900.9 915.9 L903.0 916.3 L905.1 917.1 L907.2 918.1 L909.3 918.7 L911.3 919.4 L913.4 920.2 L915.5 920.8 L917.6 921.5 L919.6 922.3 L921.7 922.9 L923.8 923.3 L925.9 923.9 L927.9 924.5 L930.0 925.2 L932.1 926.2 L934.2 927.0 L936.2 927.4 L938.3 928.2 L940.4 928.8 L942.5 929.5 L944.6 930.2 L946.6 930.8 L948.7 931.4 L950.8 932.1 L952.9 932.7 L954.9 933.5 L957.0 934.0 L959.1 934.7 L961.2 935.3 L963.2 936.1 L965.3 936.6 L967.4 937.1 L969.5 937.8 L971.6 938.5 L973.6 939.1 L975.7 939.8 L977.8 940.3 L979.9 941.1 L981.9 941.6 L984.0 942.2 L986.1 942.8 L988.2 943.4 L990.2 944.2 L992.3 944.7 L994.4 945.3 L996.5 946.2 L998.5 946.7 L1000.6 947.2 L1002.7 947.5 L1004.8 948.2 L1006.9 949.0 L1008.9 949.4 L1011.0 949.8 L1013.1 950.4 L1015.2 951.0 L1017.2 951.8 L1019.3 952.4 L1021.4 952.9 L1023.5 953.4 L1025.5 953.9 L1027.6 954.6 L1029.7 955.3 L1031.8 955.9 L1033.9 956.4 L1035.9 956.8 L1038.0 957.4 L1040.1 957.9 L1042.2 958.4 L1044.2 958.9 L1046.3 959.6 L1048.4 960.0 L1050.5 960.5 L1052.5 961.2 L1054.6 961.8 L1056.7 962.3 L1058.8 962.8 L1060.8 963.3 L1062.9 963.7 L1065.0 964.3 L1067.1 965.1 L1069.2 965.5 L1071.2 966.0 L1073.3 966.5 L1075.4 967.1 L1077.5 967.6 L1079.5 967.9 L1081.6 968.6 L1083.7 969.3 L1085.8 969.6 L1087.8 970.0 L1089.9 970.6 L1092.0 971.1 L1094.1 971.4 L1096.2 972.2 L1098.2 972.6 L1100.3 973.2 L1102.4 973.6 L1104.5 974.0 L1106.5 974.4 L1108.6 975.0 L1110.7 975.6 L1112.8 976.2 L1114.8 976.6 L1116.9 977.0 L1119.0 977.5 L1121.1 977.9 L1123.2 978.4 L1125.2 979.0 L1127.3 979.4 L1129.4 979.9 L1131.5 980.3 L1133.5 980.7 L1135.6 981.3 L1137.7 981.6 L1139.8 982.1 L1141.8 982.6 L1143.9 982.9 L1146.0 983.4 L1148.1 983.7 L1150.1 984.2 L1152.2 984.5 L1154.3 985.1 L1156.4 985.6 L1158.5 985.7 L1160.5 986.1 L1162.6 986.6 L1164.7 987.1 L1166.8 987.5 L1168.8 987.9 L1170.9 988.4 L1173.0 988.7 L1175.1 989.1 L1177.1 989.6 L1179.2 990.4 L1181.3 990.7 L1183.4 990.8 L1185.5 991.3 L1187.5 991.9 L1189.6 992.3 L1191.7 992.6 L1193.8 993.0 L1195.8 993.3 L1197.9 993.7 L1200.0 994.3 L1202.1 994.6 L1204.1 995.2 L1206.2 995.5 L1208.3 995.9 L1210.4 996.2 L1212.4 996.7 L1214.5 997.2 L1216.6 997.6 L1218.7 998.0 L1220.8 998.4 L1222.8 998.9 L1224.9 999.4 L1227.0 999.8 L1229.1 1000.2 L1231.1 1000.9 L1233.2 1001.5 L1235.3 1001.6 L1237.4 1002.1 L1239.4 1002.5 L1241.5 1002.9 L1243.6 1003.4 L1245.7 1003.9 L1247.8 1004.3 L1249.8 1004.8 L1251.9 1005.3 L1254.0 1005.9 L1256.1 1006.5 L1258.1 1006.5 L1260.2 1007.2 L1262.3 1007.6 L1264.4 1007.8 L1266.4 1008.4 L1268.5 1009.2 L1270.6 1009.7 L1272.7 1010.1 L1274.7 1010.3 L1276.8 1010.9 L1278.9 1011.5 L1281.0 1011.9 L1283.1 1012.2 L1285.1 1012.5 L1287.2 1012.8 L1289.3 1013.2 L1291.4 1013.6 L1293.4 1014.1 L1295.5 1014.5 L1297.6 1014.8 L1299.7 1015.0 L1301.7 1015.5 L1303.8 1015.9 L1305.9 1016.4 L1308.0 1016.9 L1310.0 1017.2 L1312.1 1017.6 L1314.2 1017.9 L1316.3 1018.2 L1318.4 1018.5 L1320.4 1018.8 L1322.5 1019.2 L1324.6 1019.5 L1326.7 1020.0 L1328.7 1020.4 L1330.8 1020.7 L1332.9 1021.0 L1335.0 1021.3 L1337.0 1021.6 L1339.1 1022.1 L1341.2 1022.5 L1343.3 1022.8 L1345.4 1023.0 L1347.4 1023.4 L1349.5 1023.6 L1351.6 1024.0 L1353.7 1024.3 L1355.7 1024.6 L1357.8 1025.1 L1359.9 1025.4 L1362.0 1025.6 L1364.0 1025.9 L1366.1 1026.3 L1368.2 1026.5 L1370.3 1026.9 L1372.3 1027.4 L1374.4 1027.6 L1376.5 1028.0 L1378.6 1028.2 L1380.7 1028.6 L1382.7 1028.8 L1384.8 1029.0 L1386.9 1029.4 L1389.0 1029.6 L1391.0 1029.8 L1393.1 1030.0 L1395.2 1030.4 L1397.3 1030.6 L1399.3 1031.1 L1401.4 1031.1 L1403.5 1031.4" stroke="#800000" stroke-width="3"/>
<path d="M157.5 621.2 L159.6 652.8 L161.7 676.3 L163.7 694.6 L165.8 710.2 L167.9 725.1 L170.0 737.6 L172.0 746.5 L174.1 754.1 L176.2 760.5 L178.3 765.7 L180.3 769.7 L182.4 773.2 L184.5 776.4 L186.6 779.0 L188.7 780.8 L190.7 782.1 L192.8 783.3 L194.9 784.2 L197.0 784.5 L199.0 784.6 L201.1 784.3 L203.2 783.9 L205.3 783.3 L207.3 782.9 L209.4 781.9 L211.5 781.1 L213.6 781.2 L215.6 781.5 L217.7 782.4 L219.8 783.6 L221.9 785.0 L224.0 787.0 L226.0 789.5 L228.1 792.3 L230.2 795.2 L232.3 798.3 L234.3 801.4 L236.4 803.9 L238.5 806.7 L240.6 809.3 L242.6 811.8 L244.7 814.1 L246.8 815.8 L248.9 817.0 L250.9 817.8 L253.0 818.6 L255.1 819.1 L257.2 819.7 L259.3 819.7 L261.3 819.7 L263.4 819.2 L265.5 818.9 L267.6 818.9 L269.6 818.4 L271.7 818.2 L273.8 817.8 L275.9 817.7 L277.9 817.3 L280.0 816.9 L282.1 816.9 L284.2 816.4 L286.3 815.8 L288.3 815.5 L290.4 815.1 L292.5 814.7 L294.6 814.4 L296.6 814.2 L298.7 813.5 L300.8 813.2 L302.9 812.6 L304.9 812.3 L307.0 812.2 L309.1 811.9 L311.2 811.6 L313.2 811.6 L315.3 811.6 L317.4 811.6 L319.5 811.9 L321.6 812.4 L323.6 812.3 L325.7 812.2 L327.8 812.7 L329.9 813.2 L331.9 813.6 L334.0 813.7 L336.1 813.8 L338.2 813.6 L340.2 813.5 L342.3 813.6 L344.4 813.3 L346.5 813.0 L348.6 812.8 L350.6 812.5 L352.7 812.2 L354.8 811.9 L356.9 811.6 L358.9 811.3 L361.0 811.3 L363.1 810.9 L365.2 810.7 L367.2 810.7 L369.3 810.4 L371.4 809.8 L373.5 809.5 L375.6 809.3 L377.6 808.8 L379.7 808.5 L381.8 807.8 L383.9 807.3 L385.9 807.1 L388.0 806.4 L390.1 806.1 L392.2 805.5 L394.2 804.9 L396.3 804.3 L398.4 803.6 L400.5 803.0 L402.5 802.3 L404.6 801.6 L406.7 800.6 L408.8 799.6 L410.9 799.0 L412.9 798.4 L415.0 797.7 L417.1 797.1 L419.2 796.4 L421.2 795.4 L423.3 794.6 L425.4 794.0 L427.5 793.4 L429.5 792.8 L431.6 792.3 L433.7 791.5 L435.8 791.3 L437.9 791.0 L439.9 790.7 L442.0 790.6 L444.1 790.3 L446.2 789.9 L448.2 789.7 L450.3 789.9 L452.4 789.9 L454.5 790.0 L456.5 790.0 L458.6 790.3 L460.7 790.7 L462.8 790.6 L464.8 790.7 L466.9 790.9 L469.0 791.1 L471.1 791.7 L473.2 792.1 L475.2 792.0 L477.3 792.2 L479.4 792.9 L481.5 793.4 L483.5 794.1 L485.6 794.7 L487.7 795.6 L489.8 796.2 L491.8 797.0 L493.9 797.9 L496.0 798.7 L498.1 799.5 L500.1 800.2 L502.2 800.8 L504.3 801.5 L506.4 802.5 L508.5 803.0 L510.5 803.6 L512.6 804.5 L514.7 805.1 L516.8 805.7 L518.8 806.7 L520.9 807.4 L523.0 808.0 L525.1 809.1 L527.1 810.1 L529.2 811.1 L531.3 812.0 L533.4 813.1 L535.5 814.1 L537.5 815.0 L539.6 816.2 L541.7 817.4 L543.8 818.2 L545.8 819.1 L547.9 820.1 L550.0 821.0 L552.1 821.8 L554.1 822.6 L556.2 823.5 L558.3 824.3 L560.4 824.8 L562.5 825.4 L564.5 826.2 L566.6 827.1 L568.7 827.9 L570.8 828.4 L572.8 829.2 L574.9 830.0 L577.0 830.7 L579.1 831.4 L581.1 831.9 L583.2 832.5 L585.3 833.4 L587.4 834.1 L589.4 834.8 L591.5 835.7 L593.6 836.3 L595.7 837.1 L597.8 837.9 L599.8 838.8 L601.9 839.4 L604.0 840.0 L606.1 840.7 L608.1 841.3 L610.2 842.1 L612.3 842.8 L614.4 843.6 L616.4 844.4 L618.5 845.1 L620.6 845.6 L622.7 846.5 L624.8 847.2 L626.8 847.7 L628.9 848.4 L631.0 849.3 L633.1 849.9 L635.1 850.5 L637.2 851.2 L639.3 852.0 L641.4 852.5 L643.4 853.0 L645.5 853.7 L647.6 854.3 L649.7 855.2 L651.7 855.9 L653.8 856.4 L655.9 856.8 L658.0 857.5 L660.1 858.5 L662.1 859.2 L664.2 859.7 L666.3 860.0 L668.4 860.9 L670.4 861.7 L672.5 862.5 L674.6 863.1 L676.7 863.8 L678.7 864.6 L680.8 865.1 L682.9 865.6 L685.0 866.3 L687.0 867.1 L689.1 868.0 L691.2 868.6 L693.3 869.0 L695.4 869.9 L697.4 870.4 L699.5 871.0 L701.6 871.6 L703.7 872.3 L705.7 872.8 L707.8 873.3 L709.9 874.1 L712.0 874.6 L714.0 875.2 L716.1 875.8 L718.2 876.2 L720.3 876.9 L722.4 877.4 L724.4 878.0 L726.5 878.6 L728.6 879.2 L730.7 880.0 L732.7 880.5 L734.8 881.2 L736.9 881.8 L739.0 882.3 L741.0 882.9 L743.1 883.7 L745.2 884.4 L747.3 884.9 L749.4 885.7 L751.4 886.3 L753.5 887.0 L755.6 887.7 L757.7 888.4 L759.7 889.0 L761.8 890.0 L763.9 890.8 L766.0 891.3 L768.0 891.9 L770.1 892.6 L772.2 893.5 L774.3 894.1 L776.3 894.9 L778.4 895.6 L780.5 896.3 L782.6 896.9 L784.7 897.8 L786.7 898.7 L788.8 899.4 L790.9 900.0 L793.0 900.5 L795.0 901.4 L797.1 902.3 L799.2 902.9 L801.3 903.6 L803.3 904.3 L805.4 905.0 L807.5 905.7 L809.6 906.7 L811.6 907.4 L813.7 907.9 L815.8 908.6 L817.9 909.2 L820.0 909.8 L822.0 910.6 L824.1 911.5 L826.2 912.4 L828.3 912.9 L830.3 913.7 L832.4 914.2 L834.5 915.0 L836.6 915.7 L838.6 916.3 L840.7 916.8 L842.8 917.1 L844.9 917.9 L847.0 918.6 L849.0 919.3 L851.1 920.0 L853.2 920.7 L855.3 921.2 L857.3 921.9 L859.4 922.5 L861.5 923.0 L863.6 923.7 L865.6 924.3 L867.7 924.8 L869.8 925.6 L871.9 926.2 L874.0 926.7 L876.0 927.2 L878.1 927.9 L880.2 928.8 L882.3 929.3 L884.3 929.8 L886.4 930.3 L888.5 931.0 L890.6 931.4 L892.6 931.9 L894.7 932.7 L896.8 933.5 L898.9 934.1 L900.9 934.5 L903.0 934.9 L905.1 935.6 L907.2 936.1 L909.3 936.5 L911.3 937.3 L913.4 937.9 L915.5 938.3 L917.6 938.9 L919.6 939.6 L921.7 940.2 L923.8 940.8 L925.9 941.5 L927.9 942.1 L930.0 942.8 L932.1 943.2 L934.2 943.6 L936.2 944.1 L938.3 945.0 L940.4 945.4 L942.5 945.8 L944.6 946.2 L946.6 947.0 L948.7 947.6 L950.8 947.9 L952.9 948.2 L954.9 948.8 L957.0 949.5 L959.1 950.1 L961.2 950.5 L963.2 951.0 L965.3 951.7 L967.4 952.4 L969.5 952.9 L971.6 953.3 L973.6 954.0 L975.7 954.4 L977.8 954.8 L979.9 955.2 L981.9 955.6 L984.0 956.1 L986.1 956.6 L988.2 957.0 L990.2 957.6 L992.3 958.2 L994.4 958.6 L996.5 959.2 L998.5 959.7 L1000.6 960.3 L1002.7 960.7 L1004.8 961.1 L1006.9 961.6 L1008.9 962.1 L1011.0 962.5 L1013.1 963.1 L1015.2 963.5 L1017.2 964.2 L1019.3 964.7 L1021.4 965.0 L1023.5 965.5 L1025.5 966.0 L1027.6 966.3 L1029.7 966.9 L1031.8 967.2 L1033.9 967.6 L1035.9 968.1 L1038.0 968.7 L1040.1 969.0 L1042.2 969.4 L1044.2 970.0 L1046.3 970.3 L1048.4 970.9 L1050.5 971.4 L1052.5 971.7 L1054.6 972.2 L1056.7 972.6 L1058.8 973.0 L1060.8 973.5 L1062.9 973.9 L1065.0 974.4 L1067.1 974.7 L1069.2 975.1 L1071.2 975.5 L1073.3 976.2 L1075.4 976.7 L1077.5 976.9 L1079.5 977.3 L1081.6 977.8 L1083.7 978.1 L1085.8 978.3 L1087.8 978.7 L1089.9 979.3 L1092.0 979.6 L1094.1 980.0 L1096.2 980.5 L1098.2 980.9 L1100.3 981.4 L1102.4 981.9 L1104.5 982.1 L1106.5 982.3 L1108.6 983.0 L1110.7 983.4 L1112.8 983.9 L1114.8 984.1 L1116.9 984.6 L1119.0 985.1 L1121.1 985.4 L1123.2 985.7 L1125.2 986.2 L1127.3 986.3 L1129.4 986.7 L1131.5 987.2 L1133.5 987.6 L1135.6 988.1 L1137.7 988.3 L1139.8 988.6 L1141.8 988.9 L1143.9 989.4 L1146.0 989.6 L1148.1 989.9 L1150.1 990.3 L1152.2 990.8 L1154.3 991.0 L1156.4 991.3 L1158.5 991.7 L1160.5 992.1 L1162.6 992.4 L1164.7 992.9 L1166.8 993.1 L1168.8 993.4 L1170.9 993.9 L1173.0 994.1 L1175.1 994.4 L1177.1 994.8 L1179.2 995.0 L1181.3 995.4 L1183.4 995.9 L1185.5 996.0 L1187.5 996.4 L1189.6 997.0 L1191.7 997.1 L1193.8 997.4 L1195.8 998.1 L1197.9 998.3 L1200.0 998.8 L1202.1 999.0 L1204.1 999.3 L1206.2 999.6 L1208.3 999.8 L1210.4 1000.3 L1212.4 1000.7 L1214.5 1000.9 L1216.6 1001.3 L1218.7 1001.9 L1220.8 1002.3 L1222.8 1002.7 L1224.9 1003.0 L1227.0 1003.5 L1229.1 1003.7 L1231.1 1003.9 L1233.2 1004.5 L1235.3 1005.0 L1237.4 1005.5 L1239.4 1005.7 L1241.5 1006.2 L1243.6 1006.7 L1245.7 1007.0 L1247.8 1007.5 L1249.8 1007.9 L1251.9 1008.3 L1254.0 1008.9 L1256.1 1009.3 L1258.1 1009.5 L1260.2 1010.1 L1262.3 1010.4 L1264.4 1010.9 L1266.4 1011.3 L1268.5 1011.7 L1270.6 1012.1 L1272.7 1012.5 L1274.7 1012.9 L1276.8 1013.1 L1278.9 1013.4 L1281.0 1014.1 L1283.1 1014.8 L1285.1 1014.9 L1287.2 1015.2 L1289.3 1015.7 L1291.4 1016.1 L1293.4 1016.5 L1295.5 1016.6 L1297.6 1017.1 L1299.7 1017.4 L1301.7 1017.8 L1303.8 1018.1 L1305.9 1018.5 L1308.0 1018.8 L1310.0 1019.0 L1312.1 1019.5 L1314.2 1019.8 L1316.3 1020.1 L1318.4 1020.7 L1320.4 1020.9 L1322.5 1020.9 L1324.6 1021.0 L1326.7 1021.4 L1328.7 1021.9 L1330.8 1022.1 L1332.9 1022.4 L1335.0 1022.8 L1337.0 1023.2 L1339.1 1023.5 L1341.2 1023.7 L1343.3 1024.0 L1345.4 1024.2 L1347.4 1024.4 L1349.5 1024.8 L1351.6 1025.3 L1353.7 1025.5 L1355.7 1025.7 L1357.8 1025.9 L1359.9 1026.3 L1362.0 1026.5 L1364.0 1026.8 L1366.1 1027.3 L1368.2 1027.4 L1370.3 1027.7 L1372.3 1028.0 L1374.4 1028.0 L1376.5 1028.5 L1378.6 1028.5 L1380.7 1028.9 L1382.7 1029.2 L1384.8 1029.4 L1386.9 1029.6 L1389.0 1029.7 L1391.0 1030.0 L1393.1 1030.2 L1395.2 1030.6 L1397.3 1030.9 L1399.3 1031.0 L1401.4 1031.2 L1403.5 1031.4" stroke="#008000" stroke-width="3"/>
<path d="M157.5 640.2 L159.6 673.6 L161.7 700.6 L163.7 719.3 L165.8 733.2 L167.9 744.9 L170.0 755.8 L172.0 764.9 L174.1 772.0 L176.2 778.1 L178.3 783.5 L180.3 788.3 L182.4 792.5 L184.5 796.3 L186.6 799.6 L188.7 802.2 L190.7 804.2 L192.8 805.9 L194.9 807.4 L197.0 808.3 L199.0 808.7 L201.1 808.5 L203.2 808.0 L205.3 807.7 L207.3 807.3 L209.4 806.4 L211.5 805.3 L213.6 805.0 L215.6 805.3 L217.7 806.4 L219.8 808.1 L221.9 809.9 L224.0 811.7 L226.0 814.1 L228.1 817.1 L230.2 819.8 L232.3 822.9 L234.3 825.9 L236.4 828.5 L238.5 830.6 L240.6 833.1 L242.6 835.7 L244.7 837.6 L246.8 839.2 L248.9 840.6 L250.9 841.4 L253.0 842.6 L255.1 843.4 L257.2 843.9 L259.3 844.4 L261.3 844.5 L263.4 844.4 L265.5 844.1 L267.6 844.0 L269.6 843.6 L271.7 843.1 L273.8 842.8 L275.9 842.5 L277.9 842.3 L280.0 842.1 L282.1 841.8 L284.2 841.6 L286.3 841.2 L288.3 840.8 L290.4 840.8 L292.5 840.4 L294.6 839.9 L296.6 839.6 L298.7 839.2 L300.8 838.7 L302.9 838.3 L304.9 837.9 L307.0 837.5 L309.1 837.3 L311.2 837.3 L313.2 837.5 L315.3 837.5 L317.4 837.7 L319.5 837.8 L321.6 838.1 L323.6 838.3 L325.7 838.5 L327.8 839.0 L329.9 839.5 L331.9 839.9 L334.0 840.0 L336.1 840.0 L338.2 840.0 L340.2 839.7 L342.3 839.5 L344.4 839.6 L346.5 839.6 L348.6 839.5 L350.6 839.5 L352.7 839.5 L354.8 839.3 L356.9 839.3 L358.9 839.1 L361.0 838.8 L363.1 838.2 L365.2 838.0 L367.2 837.6 L369.3 837.2 L371.4 836.9 L373.5 836.8 L375.6 836.4 L377.6 835.8 L379.7 835.6 L381.8 835.1 L383.9 834.8 L385.9 834.4 L388.0 833.8 L390.1 833.3 L392.2 832.8 L394.2 832.4 L396.3 831.8 L398.4 831.3 L400.5 830.6 L402.5 829.9 L404.6 829.1 L406.7 828.3 L408.8 827.6 L410.9 827.0 L412.9 826.2 L415.0 825.5 L417.1 824.9 L419.2 824.0 L421.2 823.3 L423.3 822.6 L425.4 821.8 L427.5 820.9 L429.5 820.3 L431.6 819.8 L433.7 819.3 L435.8 818.8 L437.9 818.6 L439.9 818.3 L442.0 817.9 L444.1 817.9 L446.2 817.6 L448.2 817.4 L450.3 817.6 L452.4 817.6 L454.5 817.5 L456.5 817.4 L458.6 817.6 L460.7 817.9 L462.8 818.3 L464.8 818.4 L466.9 818.5 L469.0 818.8 L471.1 819.1 L473.2 819.4 L475.2 819.6 L477.3 820.0 L479.4 820.4 L481.5 820.8 L483.5 821.3 L485.6 822.1 L487.7 822.5 L489.8 823.0 L491.8 824.0 L493.9 824.7 L496.0 825.5 L498.1 826.1 L500.1 826.5 L502.2 827.4 L504.3 828.2 L506.4 829.3 L508.5 830.0 L510.5 830.7 L512.6 831.7 L514.7 832.5 L516.8 833.3 L518.8 834.0 L520.9 834.9 L523.0 835.8 L525.1 836.6 L527.1 837.4 L529.2 838.4 L531.3 839.2 L533.4 840.1 L535.5 841.1 L537.5 842.0 L539.6 843.1 L541.7 844.0 L543.8 844.8 L545.8 845.8 L547.9 846.5 L550.0 847.1 L552.1 848.0 L554.1 848.8 L556.2 849.7 L558.3 850.5 L560.4 851.0 L562.5 851.6 L564.5 852.1 L566.6 852.6 L568.7 853.5 L570.8 854.3 L572.8 854.9 L574.9 855.8 L577.0 856.4 L579.1 856.8 L581.1 857.3 L583.2 857.9 L585.3 858.6 L587.4 859.1 L589.4 859.7 L591.5 860.5 L593.6 861.1 L595.7 861.5 L597.8 862.0 L599.8 862.7 L601.9 863.4 L604.0 863.9 L606.1 864.4 L608.1 865.1 L610.2 865.4 L612.3 866.3 L614.4 867.0 L616.4 867.6 L618.5 867.9 L620.6 868.5 L622.7 869.1 L624.8 869.7 L626.8 870.2 L628.9 870.9 L631.0 871.4 L633.1 872.0 L635.1 872.5 L637.2 873.2 L639.3 873.9 L641.4 874.2 L643.4 874.8 L645.5 875.5 L647.6 876.0 L649.7 876.6 L651.7 877.5 L653.8 878.1 L655.9 878.4 L658.0 879.0 L660.1 879.5 L662.1 880.1 L664.2 880.5 L666.3 881.4 L668.4 882.0 L670.4 882.6 L672.5 883.1 L674.6 883.9 L676.7 884.5 L678.7 885.0 L680.8 885.2 L682.9 886.0 L685.0 886.5 L687.0 886.6 L689.1 887.5 L691.2 888.2 L693.3 888.6 L695.4 889.0 L697.4 889.6 L699.5 890.1 L701.6 890.6 L703.7 891.1 L705.7 891.7 L707.8 892.6 L709.9 892.7 L712.0 893.0 L714.0 893.6 L716.1 894.1 L718.2 894.6 L720.3 895.0 L722.4 895.4 L724.4 895.9 L726.5 896.2 L728.6 896.8 L730.7 897.3 L732.7 897.8 L734.8 898.3 L736.9 898.6 L739.0 899.2 L741.0 899.8 L743.1 900.4 L745.2 900.9 L747.3 901.2 L749.4 901.8 L751.4 902.5 L753.5 902.9 L755.6 903.6 L757.7 904.2 L759.7 904.7 L761.8 905.4 L763.9 905.9 L766.0 906.5 L768.0 907.2 L770.1 907.7 L772.2 908.1 L774.3 908.7 L776.3 909.5 L778.4 910.2 L780.5 910.6 L782.6 911.2 L784.7 911.9 L786.7 912.5 L788.8 913.1 L790.9 913.5 L793.0 914.2 L795.0 914.7 L797.1 915.5 L799.2 916.2 L801.3 916.6 L803.3 917.2 L805.4 917.8 L807.5 918.4 L809.6 919.0 L811.6 919.7 L813.7 920.1 L815.8 920.8 L817.9 921.3 L820.0 921.9 L822.0 922.6 L824.1 923.2 L826.2 923.7 L828.3 924.1 L830.3 925.0 L832.4 925.4 L834.5 926.0 L836.6 926.5 L838.6 926.9 L840.7 927.6 L842.8 928.3 L844.9 928.9 L847.0 929.5 L849.0 929.9 L851.1 930.4 L853.2 931.0 L855.3 931.5 L857.3 932.0 L859.4 932.5 L861.5 933.1 L863.6 933.7 L865.6 934.3 L867.7 934.7 L869.8 935.3 L871.9 936.1 L874.0 936.6 L876.0 936.8 L878.1 937.5 L880.2 938.2 L882.3 938.9 L884.3 939.2 L886.4 939.7 L888.5 940.4 L890.6 940.7 L892.6 941.2 L894.7 941.8 L896.8 942.4 L898.9 943.1 L900.9 943.6 L903.0 944.0 L905.1 944.4 L907.2 945.0 L909.3 945.8 L911.3 946.1 L913.4 946.4 L915.5 947.2 L917.6 947.7 L919.6 948.2 L921.7 948.7 L923.8 949.3 L925.9 950.1 L927.9 950.4 L930.0 950.6 L932.1 951.3 L934.2 952.0 L936.2 952.6 L938.3 953.1 L940.4 953.4 L942.5 954.0 L944.6 954.4 L946.6 954.9 L948.7 955.5 L950.8 956.1 L952.9 956.6 L954.9 957.1 L957.0 957.6 L959.1 958.0 L961.2 958.5 L963.2 959.0 L965.3 959.5 L967.4 959.7 L969.5 960.3 L971.6 961.0 L973.6 961.1 L975.7 961.7 L977.8 962.3 L979.9 962.9 L981.9 963.3 L984.0 963.7 L986.1 964.1 L988.2 964.4 L990.2 964.8 L992.3 965.5 L994.4 966.0 L996.5 966.3 L998.5 966.8 L1000.6 967.2 L1002.7 967.9 L1004.8 968.3 L1006.9 968.7 L1008.9 969.1 L1011.0 969.4 L1013.1 969.8 L1015.2 970.5 L1017.2 971.0 L1019.3 971.3 L1021.4 971.8 L1023.5 972.2 L1025.5 972.5 L1027.6 972.9 L1029.7 973.4 L1031.8 973.9 L1033.9 974.0 L1035.9 974.6 L1038.0 975.0 L1040.1 975.6 L1042.2 976.0 L1044.2 976.3 L1046.3 976.9 L1048.4 977.0 L1050.5 977.4 L1052.5 978.1 L1054.6 978.4 L1056.7 978.7 L1058.8 979.2 L1060.8 979.6 L1062.9 980.1 L1065.0 980.5 L1067.1 980.8 L1069.2 981.2 L1071.2 981.7 L1073.3 981.9 L1075.4 982.3 L1077.5 982.9 L1079.5 983.4 L1081.6 983.7 L1083.7 984.1 L1085.8 984.6 L1087.8 984.6 L1089.9 985.0 L1092.0 985.6 L1094.1 986.1 L1096.2 986.4 L1098.2 986.8 L1100.3 987.0 L1102.4 987.2 L1104.5 987.6 L1106.5 988.2 L1108.6 988.7 L1110.7 989.1 L1112.8 989.3 L1114.8 989.6 L1116.9 990.1 L1119.0 990.3 L1121.1 990.6 L1123.2 991.1 L1125.2 991.5 L1127.3 991.8 L1129.4 992.4 L1131.5 992.8 L1133.5 993.2 L1135.6 993.4 L1137.7 993.6 L1139.8 993.9 L1141.8 994.5 L1143.9 994.8 L1146.0 994.9 L1148.1 995.3 L1150.1 995.8 L1152.2 996.2 L1154.3 996.5 L1156.4 996.8 L1158.5 997.3 L1160.5 997.7 L1162.6 997.8 L1164.7 998.0 L1166.8 998.3 L1168.8 998.9 L1170.9 999.4 L1173.0 999.6 L1175.1 1000.0 L1177.1 1000.0 L1179.2 1000.6 L1181.3 1000.8 L1183.4 1001.2 L1185.5 1001.4 L1187.5 1001.7 L1189.6 1002.0 L1191.7 1002.5 L1193.8 1002.9 L1195.8 1003.2 L1197.9 1003.4 L1200.0 1003.7 L1202.1 1004.1 L1204.1 1004.5 L1206.2 1005.0 L1208.3 1005.1 L1210.4 1005.6 L1212.4 1005.9 L1214.5 1006.1 L1216.6 1006.4 L1218.7 1006.7 L1220.8 1007.1 L1222.8 1007.4 L1224.9 1007.8 L1227.0 1008.2 L1229.1 1008.7 L1231.1 1009.0 L1233.2 1009.2 L1235.3 1009.7 L1237.4 1009.9 L1239.4 1009.9 L1241.5 1010.2 L1243.6 1010.7 L1245.7 1011.2 L1247.8 1011.6 L1249.8 1011.7 L1251.9 1012.2 L1254.0 1012.6 L1256.1 1012.8 L1258.1 1013.2 L1260.2 1013.5 L1262.3 1013.8 L1264.4 1013.9 L1266.4 1014.3 L1268.5 1014.7 L1270.6 1015.2 L1272.7 1015.7 L1274.7 1015.8 L1276.8 1016.0 L1278.9 1016.5 L1281.0 1016.9 L1283.1 1017.2 L1285.1 1017.2 L1287.2 1017.7 L1289.3 1018.1 L1291.4 1018.2 L1293.4 1018.7 L1295.5 1019.1 L1297.6 1019.2 L1299.7 1019.5 L1301.7 1019.7 L1303.8 1020.0 L1305.9 1020.2 L1308.0 1020.5 L1310.0 1020.7 L1312.1 1020.9 L1314.2 1021.2 L1316.3 1021.5 L1318.4 1021.9 L1320.4 1022.2 L1322.5 1022.4 L1324.6 1022.8 L1326.7 1022.8 L1328.7 1023.2 L1330.8 1023.7 L1332.9 1024.0 L1335.0 1024.1 L1337.0 1024.2 L1339.1 1024.5 L1341.2 1025.0 L1343.3 1025.2 L1345.4 1025.2 L1347.4 1025.6 L1349.5 1025.6 L1351.6 1026.0 L1353.7 1026.3 L1355.7 1026.4 L1357.8 1027.0 L1359.9 1027.0 L1362.0 1027.2 L1364.0 1027.5 L1366.1 1027.6 L1368.2 1027.8 L1370.3 1028.0 L1372.3 1028.2 L1374.4 1028.5 L1376.5 1028.9 L1378.6 1029.2 L1380.7 1029.2 L1382.7 1029.2 L1384.8 1029.7 L1386.9 1029.7 L1389.0 1030.0 L1391.0 1030.3 L1393.1 1030.4 L1395.2 1030.8 L1397.3 1030.8 L1399.3 1031.0 L1401.4 1031.3 L1403.5 1031.4" stroke="#008000" stroke-width="3"/>
<path d="M157.5 677.8 L159.6 699.3 L161.7 727.2 L163.7 758.8 L165.8 776.6 L167.9 788.7 L170.0 797.8 L172.0 805.2 L174.1 811.2 L176.2 816.6 L178.3 821.3 L180.3 825.1 L182.4 828.5 L184.5 831.3 L186.6 833.7 L188.7 836.0 L190.7 838.2 L192.8 839.7 L194.9 841.0 L197.0 841.5 L199.0 841.5 L201.1 841.8 L203.2 841.9 L205.3 841.9 L207.3 842.0 L209.4 841.7 L211.5 841.0 L213.6 840.9 L215.6 841.3 L217.7 842.1 L219.8 843.3 L221.9 844.4 L224.0 846.3 L226.0 848.6 L228.1 851.4 L230.2 854.6 L232.3 857.7 L234.3 860.7 L236.4 863.2 L238.5 866.1 L240.6 868.7 L242.6 871.5 L244.7 874.1 L246.8 876.2 L248.9 877.5 L250.9 878.8 L253.0 879.8 L255.1 880.6 L257.2 881.2 L259.3 881.5 L261.3 881.7 L263.4 881.7 L265.5 881.6 L267.6 881.5 L269.6 881.4 L271.7 881.4 L273.8 881.5 L275.9 881.4 L277.9 881.2 L280.0 881.0 L282.1 880.9 L284.2 880.5 L286.3 880.2 L288.3 880.0 L290.4 879.8 L292.5 879.5 L294.6 879.3 L296.6 879.1 L298.7 878.9 L300.8 878.5 L302.9 878.2 L304.9 877.8 L307.0 877.8 L309.1 877.6 L311.2 877.6 L313.2 877.7 L315.3 877.9 L317.4 878.0 L319.5 878.1 L321.6 878.6 L323.6 878.9 L325.7 879.0 L327.8 879.6 L329.9 880.1 L331.9 880.5 L334.0 880.6 L336.1 880.6 L338.2 880.6 L340.2 880.4 L342.3 880.4 L344.4 880.7 L346.5 880.5 L348.6 880.5 L350.6 880.6 L352.7 880.4 L354.8 880.3 L356.9 880.4 L358.9 880.1 L361.0 879.9 L363.1 879.7 L365.2 879.6 L367.2 879.1 L369.3 878.7 L371.4 878.5 L373.5 878.4 L375.6 878.1 L377.6 878.0 L379.7 877.9 L381.8 877.4 L383.9 877.0 L385.9 876.8 L388.0 876.4 L390.1 876.0 L392.2 875.9 L394.2 875.8 L396.3 875.4 L398.4 874.6 L400.5 874.0 L402.5 873.3 L404.6 872.6 L406.7 871.9 L408.8 871.4 L410.9 870.8 L412.9 870.0 L415.0 869.2 L417.1 868.7 L419.2 868.3 L421.2 867.8 L423.3 867.1 L425.4 866.6 L427.5 866.2 L429.5 865.7 L431.6 865.3 L433.7 864.8 L435.8 864.6 L437.9 864.2 L439.9 864.0 L442.0 863.8 L444.1 863.6 L446.2 863.2 L448.2 863.0 L450.3 863.1 L452.4 863.0 L454.5 862.9 L456.5 863.1 L458.6 863.2 L460.7 863.4 L462.8 863.5 L464.8 863.9 L466.9 864.0 L469.0 864.3 L471.1 864.8 L473.2 865.1 L475.2 865.3 L477.3 865.6 L479.4 866.1 L481.5 866.7 L483.5 867.1 L485.6 867.8 L487.7 868.7 L489.8 869.6 L491.8 870.3 L493.9 871.1 L496.0 872.0 L498.1 872.7 L500.1 873.3 L502.2 874.0 L504.3 874.7 L506.4 875.4 L508.5 875.9 L510.5 876.4 L512.6 877.2 L514.7 877.8 L516.8 878.4 L518.8 879.3 L520.9 879.9 L523.0 880.6 L525.1 881.4 L527.1 882.1 L529.2 882.9 L531.3 883.9 L533.4 884.8 L535.5 885.6 L537.5 886.2 L539.6 887.1 L541.7 888.1 L543.8 888.9 L545.8 889.7 L547.9 890.5 L550.0 891.2 L552.1 891.9 L554.1 892.4 L556.2 893.0 L558.3 893.6 L560.4 894.2 L562.5 894.5 L564.5 895.0 L566.6 895.6 L568.7 896.2 L570.8 896.5 L572.8 897.0 L574.9 897.5 L577.0 898.0 L579.1 898.5 L581.1 899.0 L583.2 899.3 L585.3 900.0 L587.4 900.4 L589.4 900.8 L591.5 901.5 L593.6 902.0 L595.7 902.6 L597.8 903.1 L599.8 903.7 L601.9 904.2 L604.0 904.7 L606.1 905.2 L608.1 905.7 L610.2 906.2 L612.3 907.0 L614.4 907.6 L616.4 907.9 L618.5 908.4 L620.6 909.0 L622.7 909.5 L624.8 909.8 L626.8 910.3 L628.9 910.8 L631.0 911.2 L633.1 911.5 L635.1 912.2 L637.2 912.4 L639.3 912.6 L641.4 913.1 L643.4 913.6 L645.5 914.0 L647.6 914.4 L649.7 914.6 L651.7 915.0 L653.8 915.5 L655.9 916.1 L658.0 916.4 L660.1 916.8 L662.1 917.4 L664.2 917.7 L666.3 917.8 L668.4 918.3 L670.4 918.9 L672.5 919.3 L674.6 919.8 L676.7 920.3 L678.7 920.4 L680.8 920.7 L682.9 921.2 L685.0 921.8 L687.0 922.3 L689.1 922.6 L691.2 923.0 L693.3 923.3 L695.4 923.7 L697.4 924.2 L699.5 924.5 L701.6 925.0 L703.7 925.4 L705.7 925.9 L707.8 926.3 L709.9 926.6 L712.0 927.0 L714.0 927.4 L716.1 927.9 L718.2 928.2 L720.3 928.7 L722.4 929.1 L724.4 929.3 L726.5 929.7 L728.6 930.1 L730.7 930.6 L732.7 930.9 L734.8 931.3 L736.9 931.6 L739.0 932.2 L741.0 932.5 L743.1 932.9 L745.2 933.2 L747.3 933.8 L749.4 934.4 L751.4 934.8 L753.5 935.2 L755.6 935.6 L757.7 935.9 L759.7 936.2 L761.8 936.7 L763.9 937.2 L766.0 937.5 L768.0 937.9 L770.1 938.0 L772.2 938.6 L774.3 939.0 L776.3 939.4 L778.4 939.7 L780.5 940.2 L782.6 940.8 L784.7 941.2 L786.7 941.5 L788.8 941.9 L790.9 942.4 L793.0 942.8 L795.0 943.2 L797.1 943.8 L799.2 944.2 L801.3 944.4 L803.3 944.6 L805.4 945.1 L807.5 945.7 L809.6 946.3 L811.6 946.7 L813.7 947.0 L815.8 947.4 L817.9 947.7 L820.0 948.1 L822.0 948.4 L824.1 948.9 L826.2 949.6 L828.3 949.9 L830.3 950.2 L832.4 950.4 L834.5 950.6 L836.6 951.3 L838.6 951.8 L840.7 952.2 L842.8 952.6 L844.9 952.9 L847.0 953.3 L849.0 953.7 L851.1 954.1 L853.2 954.6 L855.3 954.8 L857.3 955.3 L859.4 955.7 L861.5 956.1 L863.6 956.6 L865.6 957.0 L867.7 957.4 L869.8 957.7 L871.9 958.0 L874.0 958.6 L876.0 959.0 L878.1 959.3 L880.2 959.5 L882.3 960.0 L884.3 960.4 L886.4 960.7 L888.5 960.9 L890.6 961.4 L892.6 962.0 L894.7 962.2 L896.8 962.3 L898.9 962.8 L900.9 963.2 L903.0 963.6 L905.1 964.1 L907.2 964.6 L909.3 964.9 L911.3 965.3 L913.4 965.7 L915.5 966.0 L917.6 966.6 L919.6 966.8 L921.7 967.2 L923.8 967.6 L925.9 967.9 L927.9 968.3 L930.0 968.7 L932.1 969.0 L934.2 969.3 L936.2 969.7 L938.3 970.2 L940.4 970.7 L942.5 971.3 L944.6 971.5 L946.6 971.8 L948.7 972.4 L950.8 972.6 L952.9 972.9 L954.9 973.5 L957.0 973.7 L959.1 974.0 L961.2 974.5 L963.2 974.9 L965.3 975.2 L967.4 975.5 L969.5 975.7 L971.6 976.0 L973.6 976.5 L975.7 976.8 L977.8 977.2 L979.9 977.7 L981.9 978.0 L984.0 978.5 L986.1 978.8 L988.2 979.3 L990.2 979.6 L992.3 979.6 L994.4 979.9 L996.5 980.5 L998.5 980.9 L1000.6 981.3 L1002.7 981.6 L1004.8 982.0 L1006.9 982.2 L1008.9 982.6 L1011.0 983.2 L1013.1 983.5 L1015.2 983.7 L1017.2 984.1 L1019.3 984.4 L1021.4 984.6 L1023.5 985.0 L1025.5 985.3 L1027.6 985.7 L1029.7 986.2 L1031.8 986.3 L1033.9 986.7 L1035.9 987.3 L1038.0 987.5 L1040.1 988.1 L1042.2 988.4 L1044.2 988.7 L1046.3 988.9 L1048.4 989.2 L1050.5 989.7 L1052.5 990.0 L1054.6 990.3 L1056.7 990.4 L1058.8 991.0 L1060.8 991.4 L1062.9 991.8 L1065.0 992.2 L1067.1 992.4 L1069.2 992.7 L1071.2 993.1 L1073.3 993.2 L1075.4 993.8 L1077.5 994.2 L1079.5 994.4 L1081.6 994.8 L1083.7 995.1 L1085.8 995.3 L1087.8 995.7 L1089.9 996.1 L1092.0 996.3 L1094.1 996.7 L1096.2 997.1 L1098.2 997.4 L1100.3 997.7 L1102.4 997.8 L1104.5 998.2 L1106.5 998.7 L1108.6 999.2 L1110.7 999.3 L1112.8 999.6 L1114.8 999.8 L1116.9 1000.1 L1119.0 1000.6 L1121.1 1000.9 L1123.2 1001.0 L1125.2 1001.4 L1127.3 1001.7 L1129.4 1002.0 L1131.5 1002.3 L1133.5 1002.6 L1135.6 1002.9 L1137.7 1003.1 L1139.8 1003.3 L1141.8 1003.6 L1143.9 1004.0 L1146.0 1004.3 L1148.1 1004.7 L1150.1 1005.0 L1152.2 1005.2 L1154.3 1005.6 L1156.4 1005.8 L1158.5 1005.9 L1160.5 1006.3 L1162.6 1006.6 L1164.7 1006.8 L1166.8 1007.2 L1168.8 1007.4 L1170.9 1007.9 L1173.0 1008.3 L1175.1 1008.4 L1177.1 1008.5 L1179.2 1008.8 L1181.3 1009.1 L1183.4 1009.5 L1185.5 1009.8 L1187.5 1010.0 L1189.6 1010.3 L1191.7 1010.6 L1193.8 1010.8 L1195.8 1011.0 L1197.9 1011.4 L1200.0 1011.7 L1202.1 1011.9 L1204.1 1012.0 L1206.2 1012.4 L1208.3 1012.5 L1210.4 1012.8 L1212.4 1013.1 L1214.5 1013.3 L1216.6 1013.7 L1218.7 1013.9 L1220.8 1014.0 L1222.8 1014.4 L1224.9 1014.6 L1227.0 1014.8 L1229.1 1015.1 L1231.1 1015.4 L1233.2 1015.7 L1235.3 1015.9 L1237.4 1015.9 L1239.4 1016.2 L1241.5 1016.6 L1243.6 1016.6 L1245.7 1016.8 L1247.8 1017.2 L1249.8 1017.4 L1251.9 1017.5 L1254.0 1017.6 L1256.1 1018.2 L1258.1 1018.3 L1260.2 1018.4 L1262.3 1018.7 L1264.4 1018.9 L1266.4 1019.3 L1268.5 1019.5 L1270.6 1019.7 L1272.7 1019.8 L1274.7 1019.7 L1276.8 1020.1 L1278.9 1020.5 L1281.0 1020.6 L1283.1 1020.8 L1285.1 1021.1 L1287.2 1021.3 L1289.3 1021.3 L1291.4 1021.6 L1293.4 1021.8 L1295.5 1021.9 L1297.6 1022.4 L1299.7 1022.7 L1301.7 1022.8 L1303.8 1022.8 L1305.9 1023.0 L1308.0 1023.4 L1310.0 1023.3 L1312.1 1023.4 L1314.2 1023.6 L1316.3 1024.1 L1318.4 1024.3 L1320.4 1024.3 L1322.5 1024.7 L1324.6 1025.0 L1326.7 1025.0 L1328.7 1025.2 L1330.8 1025.5 L1332.9 1025.5 L1335.0 1025.8 L1337.0 1025.9 L1339.1 1026.2 L1341.2 1026.3 L1343.3 1026.4 L1345.4 1026.7 L1347.4 1026.7 L1349.5 1026.9 L1351.6 1027.2 L1353.7 1027.6 L1355.7 1027.6 L1357.8 1027.8 L1359.9 1028.0 L1362.0 1028.1 L1364.0 1028.3 L1366.1 1028.6 L1368.2 1028.7 L1370.3 1029.1 L1372.3 1029.1 L1374.4 1029.0 L1376.5 1029.3 L1378.6 1029.4 L1380.7 1029.7 L1382.7 1029.8 L1384.8 1029.8 L1386.9 1030.0 L1389.0 1030.5 L1391.0 1030.5 L1393.1 1030.5 L1395.2 1030.8 L1397.3 1031.1 L1399.3 1031.1 L1401.4 1031.2 L1403.5 1031.3" stroke="#0000a0" stroke-width="3"/>
<path d="M157.5 695.5 L159.6 724.8 L161.7 749.4 L163.7 769.0 L165.8 785.5 L167.9 798.8 L170.0 809.1 L172.0 817.7 L174.1 825.2 L176.2 831.2 L178.3 836.3 L180.3 840.8 L182.4 845.1 L184.5 848.5 L186.6 851.2 L188.7 853.4 L190.7 855.4 L192.8 857.4 L194.9 858.6 L197.0 859.3 L199.0 859.3 L201.1 859.4 L203.2 859.2 L205.3 859.1 L207.3 859.3 L209.4 859.1 L211.5 858.5 L213.6 858.2 L215.6 858.7 L217.7 860.0 L219.8 861.8 L221.9 863.2 L224.0 864.9 L226.0 867.4 L228.1 870.3 L230.2 873.2 L232.3 876.2 L234.3 879.1 L236.4 881.9 L238.5 884.8 L240.6 887.4 L242.6 890.0 L244.7 892.6 L246.8 894.7 L248.9 896.1 L250.9 897.0 L253.0 897.9 L255.1 899.0 L257.2 899.7 L259.3 899.9 L261.3 900.1 L263.4 900.1 L265.5 900.0 L267.6 899.9 L269.6 899.6 L271.7 899.6 L273.8 899.7 L275.9 899.4 L277.9 899.2 L280.0 899.1 L282.1 898.8 L284.2 898.6 L286.3 898.5 L288.3 898.1 L290.4 897.8 L292.5 897.9 L294.6 897.5 L296.6 897.1 L298.7 896.9 L300.8 896.8 L302.9 896.7 L304.9 896.3 L307.0 896.4 L309.1 896.1 L311.2 895.8 L313.2 895.9 L315.3 896.2 L317.4 896.4 L319.5 896.6 L321.6 896.9 L323.6 897.0 L325.7 897.5 L327.8 897.9 L329.9 898.5 L331.9 899.1 L334.0 899.4 L336.1 899.2 L338.2 899.2 L340.2 899.1 L342.3 899.3 L344.4 899.3 L346.5 899.2 L348.6 899.3 L350.6 899.3 L352.7 899.5 L354.8 899.4 L356.9 899.5 L358.9 899.4 L361.0 899.2 L363.1 899.0 L365.2 898.7 L367.2 898.7 L369.3 898.4 L371.4 898.3 L373.5 898.0 L375.6 897.6 L377.6 897.2 L379.7 896.9 L381.8 896.7 L383.9 896.4 L385.9 896.3 L388.0 895.9 L390.1 895.7 L392.2 895.0 L394.2 894.7 L396.3 894.4 L398.4 893.8 L400.5 893.3 L402.5 892.8 L404.6 892.1 L406.7 891.4 L408.8 890.9 L410.9 890.2 L412.9 889.5 L415.0 888.7 L417.1 888.2 L419.2 887.7 L421.2 887.2 L423.3 886.5 L425.4 886.0 L427.5 885.3 L429.5 884.9 L431.6 884.4 L433.7 883.9 L435.8 883.7 L437.9 883.1 L439.9 882.9 L442.0 882.6 L444.1 882.2 L446.2 881.8 L448.2 881.6 L450.3 881.9 L452.4 882.0 L454.5 881.8 L456.5 882.0 L458.6 882.3 L460.7 882.7 L462.8 883.0 L464.8 883.2 L466.9 883.5 L469.0 883.9 L471.1 884.4 L473.2 885.0 L475.2 885.4 L477.3 885.6 L479.4 886.1 L481.5 886.8 L483.5 887.0 L485.6 887.5 L487.7 888.1 L489.8 888.6 L491.8 889.3 L493.9 889.9 L496.0 890.3 L498.1 891.0 L500.1 891.6 L502.2 892.0 L504.3 892.5 L506.4 893.4 L508.5 894.5 L510.5 895.1 L512.6 895.8 L514.7 896.5 L516.8 897.1 L518.8 897.9 L520.9 898.4 L523.0 899.1 L525.1 899.8 L527.1 900.5 L529.2 901.0 L531.3 901.9 L533.4 902.3 L535.5 903.1 L537.5 903.9 L539.6 904.6 L541.7 905.2 L543.8 905.8 L545.8 906.4 L547.9 907.0 L550.0 907.7 L552.1 908.2 L554.1 908.6 L556.2 909.3 L558.3 909.7 L560.4 910.4 L562.5 910.7 L564.5 911.2 L566.6 911.6 L568.7 912.0 L570.8 912.4 L572.8 912.7 L574.9 913.2 L577.0 913.6 L579.1 914.0 L581.1 914.4 L583.2 915.0 L585.3 915.5 L587.4 915.7 L589.4 916.2 L591.5 916.6 L593.6 917.1 L595.7 917.5 L597.8 917.8 L599.8 918.4 L601.9 919.0 L604.0 919.5 L606.1 919.7 L608.1 920.4 L610.2 921.0 L612.3 921.2 L614.4 921.5 L616.4 922.1 L618.5 922.5 L620.6 922.9 L622.7 923.1 L624.8 923.5 L626.8 924.0 L628.9 924.3 L631.0 924.9 L633.1 924.8 L635.1 925.3 L637.2 925.8 L639.3 926.3 L641.4 926.8 L643.4 927.0 L645.5 927.4 L647.6 927.4 L649.7 927.8 L651.7 928.3 L653.8 928.6 L655.9 929.0 L658.0 929.2 L660.1 929.6 L662.1 930.1 L664.2 930.6 L666.3 931.0 L668.4 930.9 L670.4 931.3 L672.5 931.7 L674.6 932.0 L676.7 932.5 L678.7 932.7 L680.8 933.1 L682.9 933.5 L685.0 934.0 L687.0 934.3 L689.1 934.5 L691.2 934.9 L693.3 935.2 L695.4 935.8 L697.4 936.0 L699.5 936.1 L701.6 936.6 L703.7 937.1 L705.7 937.3 L707.8 937.7 L709.9 938.0 L712.0 938.3 L714.0 938.6 L716.1 938.8 L718.2 939.3 L720.3 939.6 L722.4 940.1 L724.4 940.6 L726.5 940.7 L728.6 941.1 L730.7 941.7 L732.7 941.9 L734.8 942.0 L736.9 942.3 L739.0 942.8 L741.0 943.1 L743.1 943.6 L745.2 943.8 L747.3 944.3 L749.4 944.8 L751.4 945.2 L753.5 945.5 L755.6 945.8 L757.7 946.2 L759.7 946.5 L761.8 946.8 L763.9 947.2 L766.0 947.9 L768.0 948.1 L770.1 948.3 L772.2 948.8 L774.3 949.1 L776.3 949.5 L778.4 949.9 L780.5 950.3 L782.6 950.7 L784.7 951.0 L786.7 951.4 L788.8 951.9 L790.9 952.5 L793.0 953.0 L795.0 953.1 L797.1 953.4 L799.2 954.0 L801.3 954.2 L803.3 954.4 L805.4 955.1 L807.5 955.4 L809.6 955.9 L811.6 956.4 L813.7 956.8 L815.8 957.2 L817.9 957.4 L820.0 958.0 L822.0 958.4 L824.1 958.7 L826.2 958.9 L828.3 959.5 L830.3 959.7 L832.4 960.1 L834.5 960.6 L836.6 960.8 L838.6 961.2 L840.7 961.6 L842.8 961.8 L844.9 962.2 L847.0 962.7 L849.0 963.0 L851.1 963.5 L853.2 964.0 L855.3 964.3 L857.3 964.6 L859.4 965.0 L861.5 965.4 L863.6 965.7 L865.6 966.1 L867.7 966.5 L869.8 966.8 L871.9 967.5 L874.0 967.9 L876.0 968.3 L878.1 968.6 L880.2 968.9 L882.3 969.3 L884.3 969.6 L886.4 970.1 L888.5 970.7 L890.6 971.0 L892.6 971.4 L894.7 971.8 L896.8 972.1 L898.9 972.5 L900.9 973.0 L903.0 973.1 L905.1 973.5 L907.2 973.9 L909.3 974.4 L911.3 974.7 L913.4 975.1 L915.5 975.5 L917.6 975.9 L919.6 976.3 L921.7 976.6 L923.8 976.9 L925.9 977.6 L927.9 977.6 L930.0 978.1 L932.1 978.4 L934.2 978.7 L936.2 979.1 L938.3 979.5 L940.4 979.8 L942.5 980.1 L944.6 980.7 L946.6 981.1 L948.7 981.5 L950.8 981.9 L952.9 982.0 L954.9 982.4 L957.0 982.9 L959.1 983.1 L961.2 983.7 L963.2 984.0 L965.3 984.3 L967.4 984.5 L969.5 984.8 L971.6 985.2 L973.6 985.6 L975.7 985.9 L977.8 986.2 L979.9 986.7 L981.9 987.0 L984.0 987.2 L986.1 987.5 L988.2 987.9 L990.2 988.2 L992.3 988.4 L994.4 988.6 L996.5 988.9 L998.5 989.3 L1000.6 989.7 L1002.7 989.9 L1004.8 990.3 L1006.9 990.5 L1008.9 990.8 L1011.0 991.1 L1013.1 991.2 L1015.2 991.6 L1017.2 992.1 L1019.3 992.4 L1021.4 992.5 L1023.5 992.9 L1025.5 993.0 L1027.6 993.2 L1029.7 993.6 L1031.8 993.9 L1033.9 994.1 L1035.9 994.6 L1038.0 995.0 L1040.1 995.1 L1042.2 995.4 L1044.2 995.3 L1046.3 995.7 L1048.4 996.0 L1050.5 996.4 L1052.5 996.6 L1054.6 996.6 L1056.7 996.9 L1058.8 997.2 L1060.8 997.5 L1062.9 997.7 L1065.0 998.2 L1067.1 998.5 L1069.2 998.7 L1071.2 998.8 L1073.3 999.2 L1075.4 999.5 L1077.5 999.6 L1079.5 999.8 L1081.6 1000.1 L1083.7 1000.5 L1085.8 1000.6 L1087.8 1000.8 L1089.9 1001.2 L1092.0 1001.2 L1094.1 1001.4 L1096.2 1001.8 L1098.2 1002.1 L1100.3 1002.3 L1102.4 1002.5 L1104.5 1002.8 L1106.5 1003.0 L1108.6 1003.1 L1110.7 1003.4 L1112.8 1003.8 L1114.8 1004.1 L1116.9 1004.2 L1119.0 1004.3 L1121.1 1004.6 L1123.2 1005.0 L1125.2 1005.1 L1127.3 1005.2 L1129.4 1005.8 L1131.5 1005.8 L1133.5 1006.0 L1135.6 1006.3 L1137.7 1006.5 L1139.8 1006.6 L1141.8 1006.7 L1143.9 1007.1 L1146.0 1007.1 L1148.1 1007.3 L1150.1 1007.5 L1152.2 1007.7 L1154.3 1008.1 L1156.4 1008.4 L1158.5 1008.6 L1160.5 1008.8 L1162.6 1009.0 L1164.7 1009.2 L1166.8 1009.5 L1168.8 1009.6 L1170.9 1010.0 L1173.0 1010.1 L1175.1 1010.3 L1177.1 1010.4 L1179.2 1010.6 L1181.3 1010.9 L1183.4 1011.2 L1185.5 1011.6 L1187.5 1011.7 L1189.6 1011.9 L1191.7 1012.2 L1193.8 1012.2 L1195.8 1012.3 L1197.9 1012.6 L1200.0 1012.9 L1202.1 1013.2 L1204.1 1013.2 L1206.2 1013.4 L1208.3 1013.8 L1210.4 1013.9 L1212.4 1014.0 L1214.5 1014.3 L1216.6 1014.2 L1218.7 1014.4 L1220.8 1015.0 L1222.8 1015.2 L1224.9 1015.2 L1227.0 1015.3 L1229.1 1015.6 L1231.1 1016.0 L1233.2 1016.3 L1235.3 1016.3 L1237.4 1016.4 L1239.4 1016.7 L1241.5 1016.9 L1243.6 1017.2 L1245.7 1017.4 L1247.8 1017.5 L1249.8 1017.8 L1251.9 1018.1 L1254.0 1018.4 L1256.1 1018.5 L1258.1 1018.6 L1260.2 1019.0 L1262.3 1019.1 L1264.4 1019.4 L1266.4 1019.7 L1268.5 1019.9 L1270.6 1020.0 L1272.7 1020.0 L1274.7 1020.3 L1276.8 1020.3 L1278.9 1020.6 L1281.0 1021.0 L1283.1 1021.1 L1285.1 1021.4 L1287.2 1021.4 L1289.3 1021.7 L1291.4 1022.1 L1293.4 1022.1 L1295.5 1022.2 L1297.6 1022.7 L1299.7 1023.0 L1301.7 1022.9 L1303.8 1023.3 L1305.9 1023.6 L1308.0 1023.6 L1310.0 1023.8 L1312.1 1023.9 L1314.2 1024.2 L1316.3 1024.4 L1318.4 1024.6 L1320.4 1024.6 L1322.5 1024.7 L1324.6 1025.0 L1326.7 1025.2 L1328.7 1025.6 L1330.8 1025.7 L1332.9 1025.7 L1335.0 1025.9 L1337.0 1026.2 L1339.1 1026.3 L1341.2 1026.4 L1343.3 1026.7 L1345.4 1026.7 L1347.4 1026.8 L1349.5 1027.1 L1351.6 1027.5 L1353.7 1027.7 L1355.7 1027.9 L1357.8 1028.0 L1359.9 1028.1 L1362.0 1028.2 L1364.0 1028.6 L1366.1 1028.4 L1368.2 1028.6 L1370.3 1029.0 L1372.3 1029.1 L1374.4 1029.3 L1376.5 1029.5 L1378.6 1029.5 L1380.7 1029.8 L1382.7 1029.9 L1384.8 1030.0 L1386.9 1030.1 L1389.0 1030.1 L1391.0 1030.3 L1393.1 1030.7 L1395.2 1030.7 L1397.3 1031.0 L1399.3 1031.2 L1401.4 1031.1 L1403.5 1031.3" stroke="#ff8000" stroke-width="3"/>
<path d="M157.5 706.9 L159.6 734.8 L161.7 758.4 L163.7 777.8 L165.8 793.6 L167.9 808.5 L170.0 823.1 L172.0 834.7 L174.1 841.8 L176.2 847.4 L178.3 852.2 L180.3 856.0 L182.4 859.5 L184.5 862.7 L186.6 865.2 L188.7 866.8 L190.7 868.0 L192.8 869.2 L194.9 869.8 L197.0 870.5 L199.0 870.5 L201.1 870.3 L203.2 870.5 L205.3 870.5 L207.3 870.1 L209.4 870.0 L211.5 869.6 L213.6 869.4 L215.6 870.0 L217.7 871.0 L219.8 872.5 L221.9 874.0 L224.0 876.1 L226.0 878.5 L228.1 881.3 L230.2 884.5 L232.3 887.5 L234.3 890.5 L236.4 893.2 L238.5 895.9 L240.6 898.6 L242.6 901.5 L244.7 903.7 L246.8 905.7 L248.9 907.2 L250.9 908.3 L253.0 909.5 L255.1 910.3 L257.2 911.1 L259.3 911.6 L261.3 911.6 L263.4 911.9 L265.5 911.8 L267.6 911.8 L269.6 911.6 L271.7 911.4 L273.8 911.3 L275.9 911.5 L277.9 911.4 L280.0 911.4 L282.1 911.3 L284.2 911.2 L286.3 911.0 L288.3 910.6 L290.4 910.3 L292.5 910.0 L294.6 909.9 L296.6 909.8 L298.7 909.6 L300.8 909.4 L302.9 909.3 L304.9 909.2 L307.0 909.1 L309.1 909.0 L311.2 908.8 L313.2 909.0 L315.3 909.0 L317.4 909.1 L319.5 909.6 L321.6 910.2 L323.6 910.6 L325.7 911.1 L327.8 911.4 L329.9 912.0 L331.9 912.5 L334.0 912.7 L336.1 912.8 L338.2 912.8 L340.2 912.7 L342.3 912.8 L344.4 912.9 L346.5 913.0 L348.6 913.0 L350.6 913.1 L352.7 913.1 L354.8 913.0 L356.9 912.9 L358.9 912.9 L361.0 912.8 L363.1 912.5 L365.2 912.4 L367.2 912.3 L369.3 912.1 L371.4 911.8 L373.5 911.6 L375.6 911.5 L377.6 911.3 L379.7 910.9 L381.8 910.6 L383.9 910.3 L385.9 909.9 L388.0 909.6 L390.1 909.4 L392.2 908.9 L394.2 908.3 L396.3 907.8 L398.4 907.5 L400.5 907.1 L402.5 906.4 L404.6 905.8 L406.7 905.2 L408.8 904.5 L410.9 904.0 L412.9 903.7 L415.0 902.9 L417.1 902.6 L419.2 902.2 L421.2 901.5 L423.3 901.1 L425.4 900.7 L427.5 900.1 L429.5 899.7 L431.6 899.4 L433.7 899.3 L435.8 898.8 L437.9 898.5 L439.9 898.4 L442.0 898.0 L444.1 898.0 L446.2 897.6 L448.2 897.5 L450.3 897.5 L452.4 897.6 L454.5 897.9 L456.5 898.1 L458.6 898.2 L460.7 898.3 L462.8 898.6 L464.8 899.0 L466.9 899.3 L469.0 899.6 L471.1 900.0 L473.2 900.4 L475.2 900.8 L477.3 901.2 L479.4 901.6 L481.5 902.0 L483.5 902.5 L485.6 902.9 L487.7 903.5 L489.8 904.1 L491.8 904.6 L493.9 905.2 L496.0 905.8 L498.1 906.3 L500.1 906.8 L502.2 907.7 L504.3 908.1 L506.4 908.6 L508.5 909.2 L510.5 909.8 L512.6 910.4 L514.7 911.1 L516.8 911.8 L518.8 912.5 L520.9 912.9 L523.0 913.5 L525.1 914.1 L527.1 914.9 L529.2 915.4 L531.3 916.1 L533.4 916.5 L535.5 917.2 L537.5 918.0 L539.6 918.7 L541.7 919.2 L543.8 919.8 L545.8 920.5 L547.9 921.0 L550.0 921.6 L552.1 922.3 L554.1 922.5 L556.2 923.0 L558.3 923.3 L560.4 923.8 L562.5 924.4 L564.5 924.9 L566.6 925.1 L568.7 925.4 L570.8 925.9 L572.8 926.4 L574.9 926.7 L577.0 927.0 L579.1 927.5 L581.1 927.8 L583.2 928.2 L585.3 928.6 L587.4 929.1 L589.4 929.3 L591.5 929.7 L593.6 930.3 L595.7 930.5 L597.8 931.0 L599.8 931.5 L601.9 931.7 L604.0 931.9 L606.1 932.3 L608.1 932.7 L610.2 932.7 L612.3 933.2 L614.4 933.7 L616.4 934.0 L618.5 934.2 L620.6 934.5 L622.7 934.8 L624.8 935.1 L626.8 935.5 L628.9 935.9 L631.0 936.2 L633.1 936.5 L635.1 937.1 L637.2 937.4 L639.3 937.4 L641.4 937.8 L643.4 938.3 L645.5 938.3 L647.6 938.8 L649.7 939.3 L651.7 939.5 L653.8 939.6 L655.9 939.8 L658.0 940.3 L660.1 940.7 L662.1 941.0 L664.2 941.2 L666.3 941.6 L668.4 942.1 L670.4 942.3 L672.5 942.4 L674.6 942.8 L676.7 943.2 L678.7 943.4 L680.8 943.7 L682.9 944.1 L685.0 944.4 L687.0 944.7 L689.1 945.0 L691.2 945.1 L693.3 945.7 L695.4 946.1 L697.4 946.3 L699.5 946.6 L701.6 946.9 L703.7 946.9 L705.7 947.0 L707.8 947.5 L709.9 947.6 L712.0 948.3 L714.0 948.8 L716.1 949.0 L718.2 948.8 L720.3 949.2 L722.4 949.5 L724.4 949.8 L726.5 950.2 L728.6 950.5 L730.7 950.8 L732.7 951.1 L734.8 951.5 L736.9 951.8 L739.0 951.9 L741.0 952.1 L743.1 952.6 L745.2 953.0 L747.3 953.4 L749.4 953.8 L751.4 954.1 L753.5 954.2 L755.6 954.8 L757.7 955.2 L759.7 955.4 L761.8 955.7 L763.9 956.2 L766.0 956.6 L768.0 956.8 L770.1 957.1 L772.2 957.5 L774.3 957.9 L776.3 958.3 L778.4 958.6 L780.5 959.0 L782.6 959.3 L784.7 959.7 L786.7 960.1 L788.8 960.6 L790.9 960.9 L793.0 961.3 L795.0 961.6 L797.1 962.0 L799.2 962.4 L801.3 962.7 L803.3 963.0 L805.4 963.4 L807.5 963.7 L809.6 964.2 L811.6 964.6 L813.7 965.1 L815.8 965.2 L817.9 965.5 L820.0 966.2 L822.0 966.4 L824.1 966.7 L826.2 967.1 L828.3 967.5 L830.3 967.7 L832.4 968.1 L834.5 968.3 L836.6 968.6 L838.6 969.1 L840.7 969.5 L842.8 970.0 L844.9 970.2 L847.0 970.5 L849.0 970.9 L851.1 971.2 L853.2 971.6 L855.3 971.9 L857.3 972.1 L859.4 972.5 L861.5 972.9 L863.6 973.2 L865.6 973.5 L867.7 973.8 L869.8 974.2 L871.9 974.5 L874.0 974.9 L876.0 975.3 L878.1 975.7 L880.2 975.8 L882.3 976.1 L884.3 976.6 L886.4 977.0 L888.5 977.4 L890.6 977.7 L892.6 978.0 L894.7 978.3 L896.8 978.8 L898.9 979.0 L900.9 979.4 L903.0 979.8 L905.1 980.1 L907.2 980.5 L909.3 980.7 L911.3 981.1 L913.4 981.5 L915.5 981.6 L917.6 982.0 L919.6 982.5 L921.7 982.8 L923.8 983.1 L925.9 983.4 L927.9 983.6 L930.0 983.8 L932.1 984.3 L934.2 984.5 L936.2 985.0 L938.3 985.2 L940.4 985.5 L942.5 986.0 L944.6 986.3 L946.6 986.4 L948.7 986.8 L950.8 987.2 L952.9 987.6 L954.9 987.7 L957.0 988.0 L959.1 988.4 L961.2 988.7 L963.2 989.0 L965.3 989.1 L967.4 989.3 L969.5 989.7 L971.6 990.2 L973.6 990.2 L975.7 990.6 L977.8 990.9 L979.9 991.1 L981.9 991.5 L984.0 991.7 L986.1 991.9 L988.2 992.0 L990.2 992.2 L992.3 992.4 L994.4 992.9 L996.5 993.2 L998.5 993.6 L1000.6 993.7 L1002.7 993.8 L1004.8 994.3 L1006.9 994.5 L1008.9 994.7 L1011.0 995.0 L1013.1 995.2 L1015.2 995.4 L1017.2 995.5 L1019.3 995.7 L1021.4 995.9 L1023.5 996.2 L1025.5 996.5 L1027.6 996.6 L1029.7 996.7 L1031.8 997.0 L1033.9 997.2 L1035.9 997.7 L1038.0 997.8 L1040.1 998.0 L1042.2 998.2 L1044.2 998.6 L1046.3 998.7 L1048.4 998.6 L1050.5 998.8 L1052.5 999.1 L1054.6 999.4 L1056.7 999.5 L1058.8 999.6 L1060.8 999.9 L1062.9 1000.3 L1065.0 1000.5 L1067.1 1000.6 L1069.2 1000.5 L1071.2 1000.7 L1073.3 1001.2 L1075.4 1001.3 L1077.5 1001.4 L1079.5 1001.7 L1081.6 1002.0 L1083.7 1002.2 L1085.8 1002.4 L1087.8 1002.7 L1089.9 1002.6 L1092.0 1002.8 L1094.1 1003.0 L1096.2 1003.4 L1098.2 1003.6 L1100.3 1003.6 L1102.4 1004.0 L1104.5 1004.2 L1106.5 1004.4 L1108.6 1004.4 L1110.7 1004.7 L1112.8 1005.0 L1114.8 1005.0 L1116.9 1005.2 L1119.0 1005.3 L1121.1 1005.6 L1123.2 1005.8 L1125.2 1006.1 L1127.3 1006.3 L1129.4 1006.5 L1131.5 1006.8 L1133.5 1007.0 L1135.6 1007.2 L1137.7 1007.4 L1139.8 1007.6 L1141.8 1007.8 L1143.9 1007.8 L1146.0 1008.3 L1148.1 1008.4 L1150.1 1008.4 L1152.2 1008.7 L1154.3 1008.8 L1156.4 1009.1 L1158.5 1009.3 L1160.5 1009.7 L1162.6 1009.9 L1164.7 1009.9 L1166.8 1010.1 L1168.8 1010.3 L1170.9 1010.6 L1173.0 1010.9 L1175.1 1011.2 L1177.1 1011.3 L1179.2 1011.3 L1181.3 1011.6 L1183.4 1011.8 L1185.5 1012.1 L1187.5 1012.2 L1189.6 1012.5 L1191.7 1012.8 L1193.8 1013.1 L1195.8 1013.2 L1197.9 1013.2 L1200.0 1013.5 L1202.1 1013.6 L1204.1 1013.8 L1206.2 1014.1 L1208.3 1014.1 L1210.4 1014.6 L1212.4 1014.8 L1214.5 1014.7 L1216.6 1015.0 L1218.7 1015.5 L1220.8 1015.5 L1222.8 1015.7 L1224.9 1015.9 L1227.0 1016.2 L1229.1 1016.5 L1231.1 1016.5 L1233.2 1016.6 L1235.3 1017.0 L1237.4 1017.1 L1239.4 1017.2 L1241.5 1017.7 L1243.6 1018.0 L1245.7 1018.0 L1247.8 1018.1 L1249.8 1018.3 L1251.9 1018.7 L1254.0 1018.8 L1256.1 1018.9 L1258.1 1019.1 L1260.2 1019.4 L1262.3 1019.6 L1264.4 1019.7 L1266.4 1019.9 L1268.5 1020.2 L1270.6 1020.3 L1272.7 1020.4 L1274.7 1020.7 L1276.8 1021.0 L1278.9 1021.2 L1281.0 1021.4 L1283.1 1021.6 L1285.1 1022.0 L1287.2 1022.1 L1289.3 1022.3 L1291.4 1022.5 L1293.4 1022.6 L1295.5 1022.9 L1297.6 1022.9 L1299.7 1023.1 L1301.7 1023.4 L1303.8 1023.6 L1305.9 1023.6 L1308.0 1024.1 L1310.0 1024.4 L1312.1 1024.4 L1314.2 1024.3 L1316.3 1024.5 L1318.4 1024.9 L1320.4 1025.0 L1322.5 1025.1 L1324.6 1025.4 L1326.7 1025.7 L1328.7 1025.7 L1330.8 1025.8 L1332.9 1026.1 L1335.0 1026.2 L1337.0 1026.3 L1339.1 1026.6 L1341.2 1026.8 L1343.3 1027.1 L1345.4 1027.2 L1347.4 1027.3 L1349.5 1027.5 L1351.6 1027.6 L1353.7 1027.8 L1355.7 1028.0 L1357.8 1028.1 L1359.9 1028.1 L1362.0 1028.2 L1364.0 1028.3 L1366.1 1028.6 L1368.2 1028.9 L1370.3 1029.1 L1372.3 1029.2 L1374.4 1029.4 L1376.5 1029.4 L1378.6 1029.6 L1380.7 1029.8 L1382.7 1030.1 L1384.8 1030.2 L1386.9 1030.3 L1389.0 1030.6 L1391.0 1030.9 L1393.1 1030.8 L1395.2 1030.9 L1397.3 1031.1 L1399.3 1031.4 L1401.4 1031.5 L1403.5 1031.5" stroke="#8000ff" stroke-width="3"/>
<path d="M157.5 716.9 L159.6 744.9 L161.7 767.9 L163.7 786.4 L165.8 801.9 L167.9 816.3 L170.0 830.6 L172.0 841.8 L174.1 849.2 L176.2 855.1 L178.3 860.0 L180.3 864.0 L182.4 867.6 L184.5 870.6 L186.6 873.1 L188.7 875.1 L190.7 876.3 L192.8 877.7 L194.9 878.5 L197.0 879.0 L199.0 879.3 L201.1 879.2 L203.2 879.3 L205.3 879.4 L207.3 879.2 L209.4 879.1 L211.5 878.7 L213.6 878.5 L215.6 878.9 L217.7 880.1 L219.8 881.6 L221.9 883.3 L224.0 885.3 L226.0 887.8 L228.1 890.6 L230.2 893.8 L232.3 896.5 L234.3 899.5 L236.4 902.5 L238.5 905.1 L240.6 908.0 L242.6 910.8 L244.7 913.1 L246.8 915.0 L248.9 916.5 L250.9 917.7 L253.0 918.8 L255.1 919.7 L257.2 920.4 L259.3 920.9 L261.3 921.0 L263.4 921.1 L265.5 921.0 L267.6 921.1 L269.6 921.2 L271.7 921.2 L273.8 921.2 L275.9 921.3 L277.9 921.2 L280.0 921.0 L282.1 920.9 L284.2 921.0 L286.3 920.6 L288.3 920.2 L290.4 919.9 L292.5 919.8 L294.6 919.9 L296.6 919.6 L298.7 919.5 L300.8 919.4 L302.9 919.0 L304.9 919.0 L307.0 919.0 L309.1 918.9 L311.2 919.0 L313.2 919.1 L315.3 919.3 L317.4 919.5 L319.5 919.9 L321.6 920.4 L323.6 920.7 L325.7 920.9 L327.8 921.5 L329.9 922.1 L331.9 922.4 L334.0 922.8 L336.1 922.9 L338.2 923.0 L340.2 923.3 L342.3 923.3 L344.4 923.3 L346.5 923.3 L348.6 923.3 L350.6 923.5 L352.7 923.7 L354.8 923.7 L356.9 923.3 L358.9 923.2 L361.0 923.3 L363.1 923.2 L365.2 922.8 L367.2 922.8 L369.3 922.8 L371.4 922.5 L373.5 922.3 L375.6 922.1 L377.6 922.0 L379.7 921.9 L381.8 921.7 L383.9 921.2 L385.9 920.7 L388.0 920.5 L390.1 920.1 L392.2 919.7 L394.2 919.3 L396.3 918.9 L398.4 918.5 L400.5 918.1 L402.5 917.5 L404.6 917.0 L406.7 916.3 L408.8 915.7 L410.9 915.4 L412.9 915.1 L415.0 914.5 L417.1 914.1 L419.2 913.7 L421.2 913.4 L423.3 912.7 L425.4 912.3 L427.5 911.8 L429.5 911.4 L431.6 911.1 L433.7 910.9 L435.8 910.5 L437.9 910.1 L439.9 910.0 L442.0 909.7 L444.1 909.7 L446.2 909.5 L448.2 909.3 L450.3 909.2 L452.4 909.1 L454.5 909.3 L456.5 909.6 L458.6 909.8 L460.7 910.0 L462.8 910.2 L464.8 910.5 L466.9 910.9 L469.0 911.3 L471.1 911.6 L473.2 911.8 L475.2 912.0 L477.3 912.5 L479.4 913.1 L481.5 913.5 L483.5 913.8 L485.6 914.4 L487.7 915.0 L489.8 915.4 L491.8 916.2 L493.9 916.9 L496.0 917.3 L498.1 917.8 L500.1 918.4 L502.2 919.1 L504.3 919.8 L506.4 920.2 L508.5 920.8 L510.5 921.4 L512.6 922.1 L514.7 922.8 L516.8 923.4 L518.8 924.1 L520.9 924.6 L523.0 925.2 L525.1 925.8 L527.1 926.2 L529.2 926.7 L531.3 927.5 L533.4 928.0 L535.5 928.6 L537.5 929.0 L539.6 929.5 L541.7 930.3 L543.8 930.8 L545.8 931.2 L547.9 931.9 L550.0 932.3 L552.1 932.7 L554.1 933.2 L556.2 933.6 L558.3 934.0 L560.4 934.6 L562.5 935.0 L564.5 935.2 L566.6 935.7 L568.7 936.0 L570.8 936.5 L572.8 936.7 L574.9 937.2 L577.0 937.6 L579.1 937.9 L581.1 938.2 L583.2 938.7 L585.3 939.0 L587.4 939.3 L589.4 939.5 L591.5 939.8 L593.6 940.3 L595.7 940.6 L597.8 940.7 L599.8 941.2 L601.9 941.4 L604.0 941.8 L606.1 942.3 L608.1 942.7 L610.2 942.9 L612.3 943.2 L614.4 943.5 L616.4 943.8 L618.5 944.0 L620.6 944.3 L622.7 944.7 L624.8 944.7 L626.8 945.1 L628.9 945.6 L631.0 946.0 L633.1 946.2 L635.1 946.5 L637.2 946.7 L639.3 947.2 L641.4 947.5 L643.4 947.5 L645.5 947.8 L647.6 948.3 L649.7 948.5 L651.7 948.7 L653.8 948.9 L655.9 949.1 L658.0 949.5 L660.1 949.9 L662.1 950.2 L664.2 950.4 L666.3 950.5 L668.4 950.8 L670.4 951.2 L672.5 951.3 L674.6 951.7 L676.7 952.2 L678.7 952.5 L680.8 952.8 L682.9 952.8 L685.0 953.0 L687.0 953.4 L689.1 953.5 L691.2 953.8 L693.3 954.3 L695.4 954.4 L697.4 954.6 L699.5 954.8 L701.6 955.0 L703.7 955.4 L705.7 955.8 L707.8 956.1 L709.9 956.0 L712.0 956.1 L714.0 956.5 L716.1 956.9 L718.2 957.1 L720.3 957.3 L722.4 957.6 L724.4 958.1 L726.5 958.2 L728.6 958.5 L730.7 958.8 L732.7 959.1 L734.8 959.3 L736.9 959.5 L739.0 959.9 L741.0 960.2 L743.1 960.5 L745.2 960.9 L747.3 961.1 L749.4 961.4 L751.4 961.4 L753.5 961.7 L755.6 962.2 L757.7 962.5 L759.7 962.8 L761.8 963.2 L763.9 963.5 L766.0 963.7 L768.0 964.1 L770.1 964.4 L772.2 964.6 L774.3 964.9 L776.3 965.3 L778.4 965.6 L780.5 966.1 L782.6 966.5 L784.7 966.6 L786.7 967.0 L788.8 967.4 L790.9 967.6 L793.0 968.1 L795.0 968.3 L797.1 968.3 L799.2 969.0 L801.3 969.4 L803.3 969.6 L805.4 970.1 L807.5 970.3 L809.6 970.5 L811.6 970.9 L813.7 971.3 L815.8 971.8 L817.9 972.0 L820.0 972.0 L822.0 972.2 L824.1 972.9 L826.2 973.4 L828.3 973.5 L830.3 973.8 L832.4 974.3 L834.5 974.5 L836.6 974.6 L838.6 974.9 L840.7 975.6 L842.8 975.8 L844.9 975.9 L847.0 976.3 L849.0 976.7 L851.1 977.0 L853.2 977.2 L855.3 977.6 L857.3 977.8 L859.4 977.9 L861.5 978.3 L863.6 978.7 L865.6 978.9 L867.7 979.3 L869.8 979.6 L871.9 979.9 L874.0 980.3 L876.0 980.5 L878.1 980.9 L880.2 981.1 L882.3 981.6 L884.3 981.6 L886.4 981.7 L888.5 982.3 L890.6 982.7 L892.6 982.9 L894.7 983.3 L896.8 983.5 L898.9 983.9 L900.9 984.3 L903.0 984.5 L905.1 984.8 L907.2 985.1 L909.3 985.4 L911.3 985.6 L913.4 985.8 L915.5 986.3 L917.6 986.5 L919.6 986.9 L921.7 987.0 L923.8 987.3 L925.9 987.8 L927.9 987.9 L930.0 988.2 L932.1 988.6 L934.2 988.9 L936.2 989.0 L938.3 989.2 L940.4 989.9 L942.5 990.3 L944.6 990.4 L946.6 990.5 L948.7 991.0 L950.8 991.2 L952.9 991.3 L954.9 991.6 L957.0 992.0 L959.1 992.0 L961.2 992.5 L963.2 992.7 L965.3 992.9 L967.4 993.1 L969.5 993.2 L971.6 993.6 L973.6 994.1 L975.7 994.3 L977.8 994.5 L979.9 994.7 L981.9 994.9 L984.0 995.0 L986.1 995.5 L988.2 995.8 L990.2 995.8 L992.3 996.1 L994.4 996.4 L996.5 996.6 L998.5 996.8 L1000.6 997.1 L1002.7 997.3 L1004.8 997.4 L1006.9 997.7 L1008.9 997.9 L1011.0 998.0 L1013.1 998.5 L1015.2 998.6 L1017.2 998.6 L1019.3 998.9 L1021.4 999.2 L1023.5 999.3 L1025.5 999.5 L1027.6 999.7 L1029.7 999.9 L1031.8 999.9 L1033.9 1000.2 L1035.9 1000.3 L1038.0 1000.7 L1040.1 1001.0 L1042.2 1001.1 L1044.2 1001.1 L1046.3 1001.6 L1048.4 1001.7 L1050.5 1001.5 L1052.5 1001.8 L1054.6 1002.2 L1056.7 1002.4 L1058.8 1002.7 L1060.8 1002.8 L1062.9 1003.0 L1065.0 1003.1 L1067.1 1003.2 L1069.2 1003.5 L1071.2 1003.7 L1073.3 1003.9 L1075.4 1004.2 L1077.5 1004.4 L1079.5 1004.5 L1081.6 1004.6 L1083.7 1004.8 L1085.8 1004.9 L1087.8 1005.1 L1089.9 1005.4 L1092.0 1005.6 L1094.1 1005.7 L1096.2 1005.9 L1098.2 1006.2 L1100.3 1006.3 L1102.4 1006.4 L1104.5 1006.6 L1106.5 1006.7 L1108.6 1006.9 L1110.7 1007.4 L1112.8 1007.5 L1114.8 1007.6 L1116.9 1007.8 L1119.0 1008.0 L1121.1 1008.1 L1123.2 1008.3 L1125.2 1008.5 L1127.3 1008.7 L1129.4 1008.9 L1131.5 1009.1 L1133.5 1009.4 L1135.6 1009.5 L1137.7 1009.5 L1139.8 1009.6 L1141.8 1009.8 L1143.9 1010.1 L1146.0 1010.2 L1148.1 1010.4 L1150.1 1010.7 L1152.2 1011.0 L1154.3 1011.1 L1156.4 1011.1 L1158.5 1011.3 L1160.5 1011.6 L1162.6 1011.9 L1164.7 1012.1 L1166.8 1012.1 L1168.8 1012.3 L1170.9 1012.5 L1173.0 1012.8 L1175.1 1012.9 L1177.1 1013.2 L1179.2 1013.3 L1181.3 1013.6 L1183.4 1013.9 L1185.5 1014.0 L1187.5 1014.0 L1189.6 1014.2 L1191.7 1014.4 L1193.8 1014.6 L1195.8 1014.9 L1197.9 1015.1 L1200.0 1015.2 L1202.1 1015.6 L1204.1 1015.7 L1206.2 1016.1 L1208.3 1016.3 L1210.4 1016.4 L1212.4 1016.4 L1214.5 1016.7 L1216.6 1016.9 L1218.7 1017.1 L1220.8 1017.2 L1222.8 1017.2 L1224.9 1017.6 L1227.0 1017.9 L1229.1 1017.9 L1231.1 1018.1 L1233.2 1018.2 L1235.3 1018.5 L1237.4 1018.8 L1239.4 1019.0 L1241.5 1019.4 L1243.6 1019.3 L1245.7 1019.4 L1247.8 1019.5 L1249.8 1019.8 L1251.9 1020.1 L1254.0 1020.5 L1256.1 1020.6 L1258.1 1020.4 L1260.2 1020.7 L1262.3 1021.1 L1264.4 1021.1 L1266.4 1021.1 L1268.5 1021.4 L1270.6 1021.8 L1272.7 1022.1 L1274.7 1022.1 L1276.8 1022.3 L1278.9 1022.4 L1281.0 1022.8 L1283.1 1022.9 L1285.1 1022.9 L1287.2 1023.1 L1289.3 1023.4 L1291.4 1023.4 L1293.4 1023.6 L1295.5 1023.8 L1297.6 1023.9 L1299.7 1024.1 L1301.7 1024.3 L1303.8 1024.6 L1305.9 1024.8 L1308.0 1025.0 L1310.0 1025.2 L1312.1 1025.1 L1314.2 1025.3 L1316.3 1025.4 L1318.4 1025.7 L1320.4 1026.0 L1322.5 1026.1 L1324.6 1026.2 L1326.7 1026.2 L1328.7 1026.5 L1330.8 1026.7 L1332.9 1026.8 L1335.0 1026.9 L1337.0 1027.2 L1339.1 1027.3 L1341.2 1027.4 L1343.3 1027.4 L1345.4 1027.7 L1347.4 1027.7 L1349.5 1027.9 L1351.6 1028.2 L1353.7 1028.2 L1355.7 1028.2 L1357.8 1028.3 L1359.9 1028.4 L1362.0 1028.9 L1364.0 1028.9 L1366.1 1029.0 L1368.2 1029.2 L1370.3 1029.2 L1372.3 1029.6 L1374.4 1029.6 L1376.5 1029.9 L1378.6 1030.1 L1380.7 1030.2 L1382.7 1030.2 L1384.8 1030.3 L1386.9 1030.5 L1389.0 1030.7 L1391.0 1030.8 L1393.1 1030.8 L1395.2 1030.9 L1397.3 1031.1 L1399.3 1031.2 L1401.4 1031.5 L1403.5 1031.5" stroke="#ff0080" stroke-width="3"/>
<path d="M157.5 721.1 L159.6 749.2 L161.7 771.6 L163.7 789.9 L165.8 805.3 L167.9 819.9 L170.0 833.8 L172.0 844.7 L174.1 852.0 L176.2 858.3 L178.3 863.4 L180.3 867.2 L182.4 870.6 L184.5 873.6 L186.6 876.4 L188.7 878.5 L190.7 879.9 L192.8 880.9 L194.9 882.0 L197.0 882.7 L199.0 883.0 L201.1 883.1 L203.2 882.9 L205.3 883.3 L207.3 883.0 L209.4 882.7 L211.5 882.4 L213.6 882.2 L215.6 882.7 L217.7 883.9 L219.8 885.7 L221.9 887.3 L224.0 888.9 L226.0 891.5 L228.1 894.6 L230.2 897.7 L232.3 900.6 L234.3 903.6 L236.4 906.4 L238.5 909.3 L240.6 912.1 L242.6 914.6 L244.7 916.7 L246.8 918.8 L248.9 920.3 L250.9 921.6 L253.0 922.7 L255.1 923.6 L257.2 924.3 L259.3 924.8 L261.3 925.0 L263.4 925.1 L265.5 925.4 L267.6 925.3 L269.6 925.2 L271.7 925.4 L273.8 925.4 L275.9 925.2 L277.9 925.2 L280.0 925.2 L282.1 925.1 L284.2 924.9 L286.3 924.7 L288.3 924.3 L290.4 924.1 L292.5 924.0 L294.6 923.9 L296.6 923.8 L298.7 923.4 L300.8 923.4 L302.9 923.4 L304.9 923.3 L307.0 923.1 L309.1 923.0 L311.2 923.3 L313.2 923.2 L315.3 923.3 L317.4 923.6 L319.5 924.0 L321.6 924.5 L323.6 925.0 L325.7 925.4 L327.8 925.8 L329.9 926.3 L331.9 926.9 L334.0 927.3 L336.1 927.2 L338.2 927.2 L340.2 927.5 L342.3 927.6 L344.4 927.6 L346.5 927.8 L348.6 928.0 L350.6 928.0 L352.7 927.8 L354.8 927.6 L356.9 927.6 L358.9 927.7 L361.0 927.7 L363.1 927.6 L365.2 927.4 L367.2 927.3 L369.3 927.0 L371.4 926.8 L373.5 926.6 L375.6 926.7 L377.6 926.5 L379.7 926.2 L381.8 925.6 L383.9 925.5 L385.9 925.3 L388.0 925.1 L390.1 924.8 L392.2 924.5 L394.2 924.0 L396.3 923.4 L398.4 923.1 L400.5 922.9 L402.5 922.3 L404.6 921.7 L406.7 921.3 L408.8 920.7 L410.9 920.0 L412.9 919.7 L415.0 919.3 L417.1 918.7 L419.2 918.2 L421.2 917.9 L423.3 917.7 L425.4 917.3 L427.5 916.7 L429.5 916.3 L431.6 915.9 L433.7 915.5 L435.8 915.3 L437.9 915.1 L439.9 915.0 L442.0 914.6 L444.1 914.4 L446.2 914.1 L448.2 913.9 L450.3 914.1 L452.4 914.1 L454.5 914.1 L456.5 914.3 L458.6 914.6 L460.7 914.8 L462.8 915.0 L464.8 915.3 L466.9 915.7 L469.0 915.8 L471.1 916.2 L473.2 916.7 L475.2 917.0 L477.3 917.2 L479.4 917.8 L481.5 918.3 L483.5 918.6 L485.6 919.1 L487.7 919.8 L489.8 920.2 L491.8 920.6 L493.9 921.3 L496.0 922.0 L498.1 922.6 L500.1 923.2 L502.2 923.7 L504.3 924.5 L506.4 925.1 L508.5 925.6 L510.5 925.9 L512.6 926.8 L514.7 927.6 L516.8 928.4 L518.8 928.7 L520.9 929.1 L523.0 929.7 L525.1 930.5 L527.1 930.9 L529.2 931.4 L531.3 932.0 L533.4 932.9 L535.5 933.4 L537.5 933.8 L539.6 934.4 L541.7 934.9 L543.8 935.3 L545.8 936.0 L547.9 936.5 L550.0 936.9 L552.1 937.2 L554.1 937.7 L556.2 938.1 L558.3 938.6 L560.4 939.3 L562.5 939.6 L564.5 939.7 L566.6 939.9 L568.7 940.3 L570.8 940.7 L572.8 941.1 L574.9 941.6 L577.0 942.1 L579.1 942.2 L581.1 942.6 L583.2 942.9 L585.3 943.2 L587.4 943.3 L589.4 943.7 L591.5 944.1 L593.6 944.4 L595.7 944.7 L597.8 945.0 L599.8 945.4 L601.9 945.7 L604.0 946.0 L606.1 946.5 L608.1 946.9 L610.2 947.1 L612.3 947.3 L614.4 947.6 L616.4 947.7 L618.5 948.0 L620.6 948.4 L622.7 948.7 L624.8 949.1 L626.8 949.5 L628.9 949.6 L631.0 949.7 L633.1 949.8 L635.1 950.2 L637.2 950.6 L639.3 950.9 L641.4 951.1 L643.4 951.4 L645.5 951.9 L647.6 952.2 L649.7 952.3 L651.7 952.6 L653.8 952.7 L655.9 953.1 L658.0 953.3 L660.1 953.4 L662.1 953.7 L664.2 954.2 L666.3 954.4 L668.4 954.7 L670.4 955.1 L672.5 955.4 L674.6 955.3 L676.7 955.6 L678.7 955.9 L680.8 956.1 L682.9 956.3 L685.0 956.7 L687.0 957.0 L689.1 957.2 L691.2 957.4 L693.3 957.8 L695.4 957.9 L697.4 958.1 L699.5 958.2 L701.6 958.7 L703.7 959.1 L705.7 959.2 L707.8 959.4 L709.9 959.7 L712.0 959.8 L714.0 960.2 L716.1 960.5 L718.2 960.6 L720.3 960.6 L722.4 961.0 L724.4 961.4 L726.5 961.5 L728.6 961.8 L730.7 962.1 L732.7 962.3 L734.8 962.5 L736.9 962.8 L739.0 963.0 L741.0 963.5 L743.1 963.7 L745.2 963.9 L747.3 964.3 L749.4 964.4 L751.4 964.6 L753.5 965.0 L755.6 965.3 L757.7 965.4 L759.7 965.7 L761.8 966.1 L763.9 966.5 L766.0 966.8 L768.0 967.1 L770.1 967.1 L772.2 967.4 L774.3 967.9 L776.3 968.2 L778.4 968.7 L780.5 969.1 L782.6 969.2 L784.7 969.5 L786.7 969.8 L788.8 970.1 L790.9 970.4 L793.0 970.9 L795.0 971.1 L797.1 971.4 L799.2 971.7 L801.3 971.9 L803.3 972.4 L805.4 972.7 L807.5 973.2 L809.6 973.4 L811.6 973.8 L813.7 974.0 L815.8 974.2 L817.9 974.5 L820.0 975.0 L822.0 975.1 L824.1 975.3 L826.2 975.7 L828.3 976.0 L830.3 976.3 L832.4 976.6 L834.5 976.8 L836.6 977.2 L838.6 977.4 L840.7 977.9 L842.8 978.1 L844.9 978.4 L847.0 978.7 L849.0 979.1 L851.1 979.4 L853.2 979.5 L855.3 979.7 L857.3 980.2 L859.4 980.3 L861.5 980.7 L863.6 981.1 L865.6 981.2 L867.7 981.5 L869.8 982.0 L871.9 982.2 L874.0 982.6 L876.0 982.7 L878.1 982.9 L880.2 983.2 L882.3 983.5 L884.3 983.9 L886.4 984.4 L888.5 984.8 L890.6 984.9 L892.6 985.0 L894.7 985.3 L896.8 985.8 L898.9 986.1 L900.9 986.2 L903.0 986.5 L905.1 986.8 L907.2 986.9 L909.3 987.2 L911.3 987.6 L913.4 987.9 L915.5 988.1 L917.6 988.5 L919.6 988.8 L921.7 988.9 L923.8 989.2 L925.9 989.6 L927.9 989.7 L930.0 989.9 L932.1 990.3 L934.2 990.6 L936.2 991.0 L938.3 991.2 L940.4 991.5 L942.5 991.7 L944.6 992.0 L946.6 992.2 L948.7 992.4 L950.8 992.8 L952.9 993.0 L954.9 993.2 L957.0 993.6 L959.1 993.8 L961.2 993.9 L963.2 994.2 L965.3 994.4 L967.4 994.7 L969.5 995.1 L971.6 995.3 L973.6 995.2 L975.7 995.5 L977.8 995.9 L979.9 996.1 L981.9 996.3 L984.0 996.8 L986.1 997.1 L988.2 997.1 L990.2 997.2 L992.3 997.5 L994.4 997.6 L996.5 997.8 L998.5 998.1 L1000.6 998.4 L1002.7 998.7 L1004.8 998.8 L1006.9 999.2 L1008.9 999.4 L1011.0 999.4 L1013.1 999.5 L1015.2 999.8 L1017.2 1000.0 L1019.3 1000.1 L1021.4 1000.4 L1023.5 1000.6 L1025.5 1000.6 L1027.6 1000.9 L1029.7 1001.2 L1031.8 1001.2 L1033.9 1001.5 L1035.9 1001.7 L1038.0 1002.0 L1040.1 1001.9 L1042.2 1002.0 L1044.2 1002.4 L1046.3 1002.7 L1048.4 1002.9 L1050.5 1003.0 L1052.5 1003.2 L1054.6 1003.5 L1056.7 1003.7 L1058.8 1003.9 L1060.8 1003.9 L1062.9 1004.2 L1065.0 1004.3 L1067.1 1004.4 L1069.2 1004.6 L1071.2 1004.8 L1073.3 1005.0 L1075.4 1005.1 L1077.5 1005.4 L1079.5 1005.5 L1081.6 1005.8 L1083.7 1005.9 L1085.8 1006.2 L1087.8 1006.1 L1089.9 1006.3 L1092.0 1006.8 L1094.1 1006.9 L1096.2 1007.0 L1098.2 1007.0 L1100.3 1007.1 L1102.4 1007.2 L1104.5 1007.4 L1106.5 1007.6 L1108.6 1007.9 L1110.7 1008.0 L1112.8 1008.1 L1114.8 1008.7 L1116.9 1008.9 L1119.0 1009.1 L1121.1 1008.9 L1123.2 1009.1 L1125.2 1009.5 L1127.3 1009.8 L1129.4 1010.0 L1131.5 1010.1 L1133.5 1010.1 L1135.6 1010.4 L1137.7 1010.7 L1139.8 1010.9 L1141.8 1011.1 L1143.9 1011.2 L1146.0 1011.2 L1148.1 1011.4 L1150.1 1011.7 L1152.2 1011.9 L1154.3 1012.0 L1156.4 1012.3 L1158.5 1012.5 L1160.5 1012.4 L1162.6 1012.6 L1164.7 1013.1 L1166.8 1013.2 L1168.8 1013.6 L1170.9 1013.8 L1173.0 1013.6 L1175.1 1013.8 L1177.1 1014.2 L1179.2 1014.4 L1181.3 1014.5 L1183.4 1014.6 L1185.5 1014.7 L1187.5 1014.9 L1189.6 1015.3 L1191.7 1015.5 L1193.8 1015.6 L1195.8 1015.8 L1197.9 1015.8 L1200.0 1015.9 L1202.1 1016.1 L1204.1 1016.5 L1206.2 1016.7 L1208.3 1016.7 L1210.4 1017.0 L1212.4 1017.2 L1214.5 1017.3 L1216.6 1017.5 L1218.7 1017.6 L1220.8 1017.8 L1222.8 1018.1 L1224.9 1018.1 L1227.0 1018.3 L1229.1 1018.5 L1231.1 1018.7 L1233.2 1018.9 L1235.3 1019.3 L1237.4 1019.4 L1239.4 1019.6 L1241.5 1019.9 L1243.6 1019.9 L1245.7 1020.0 L1247.8 1020.4 L1249.8 1020.5 L1251.9 1020.8 L1254.0 1021.0 L1256.1 1021.1 L1258.1 1021.1 L1260.2 1021.1 L1262.3 1021.5 L1264.4 1021.8 L1266.4 1021.9 L1268.5 1022.1 L1270.6 1022.2 L1272.7 1022.5 L1274.7 1022.6 L1276.8 1022.7 L1278.9 1022.9 L1281.0 1023.2 L1283.1 1023.2 L1285.1 1023.5 L1287.2 1023.6 L1289.3 1023.9 L1291.4 1024.2 L1293.4 1024.3 L1295.5 1024.3 L1297.6 1024.5 L1299.7 1024.7 L1301.7 1024.8 L1303.8 1025.0 L1305.9 1025.1 L1308.0 1025.4 L1310.0 1025.5 L1312.1 1025.5 L1314.2 1025.8 L1316.3 1026.0 L1318.4 1026.1 L1320.4 1026.3 L1322.5 1026.2 L1324.6 1026.5 L1326.7 1026.7 L1328.7 1026.8 L1330.8 1026.8 L1332.9 1027.0 L1335.0 1027.2 L1337.0 1027.3 L1339.1 1027.4 L1341.2 1027.6 L1343.3 1027.9 L1345.4 1028.2 L1347.4 1028.0 L1349.5 1028.1 L1351.6 1028.1 L1353.7 1028.5 L1355.7 1028.7 L1357.8 1028.9 L1359.9 1028.7 L1362.0 1028.8 L1364.0 1029.1 L1366.1 1029.4 L1368.2 1029.5 L1370.3 1029.5 L1372.3 1029.6 L1374.4 1029.8 L1376.5 1030.0 L1378.6 1029.9 L1380.7 1030.2 L1382.7 1030.4 L1384.8 1030.5 L1386.9 1030.6 L1389.0 1030.7 L1391.0 1030.9 L1393.1 1031.0 L1395.2 1030.8 L1397.3 1031.2 L1399.3 1031.4 L1401.4 1031.4 L1403.5 1031.5" stroke="#c0c0c0" stroke-width="3"/>
<path d="M157.5 725.3 L159.6 753.4 L161.7 775.4 L163.7 793.8 L165.8 809.1 L167.9 823.4 L170.0 837.0 L172.0 847.9 L174.1 855.3 L176.2 861.5 L178.3 866.3 L180.3 870.3 L182.4 874.0 L184.5 877.3 L186.6 879.8 L188.7 881.8 L190.7 883.5 L192.8 884.6 L194.9 885.5 L197.0 886.5 L199.0 886.8 L201.1 886.7 L203.2 887.0 L205.3 886.8 L207.3 886.7 L209.4 886.5 L211.5 886.2 L213.6 886.1 L215.6 886.5 L217.7 887.7 L219.8 889.1 L221.9 890.8 L224.0 893.0 L226.0 895.4 L228.1 898.3 L230.2 901.5 L232.3 904.6 L234.3 907.4 L236.4 910.2 L238.5 913.2 L240.6 915.9 L242.6 918.4 L244.7 920.7 L246.8 922.7 L248.9 924.1 L250.9 925.2 L253.0 926.3 L255.1 927.3 L257.2 928.0 L259.3 928.4 L261.3 928.7 L263.4 929.1 L265.5 929.2 L267.6 929.0 L269.6 929.2 L271.7 929.3 L273.8 929.5 L275.9 929.4 L277.9 929.5 L280.0 929.2 L282.1 929.0 L284.2 928.8 L286.3 928.5 L288.3 928.5 L290.4 928.2 L292.5 927.9 L294.6 928.0 L296.6 927.9 L298.7 927.8 L300.8 927.6 L302.9 927.6 L304.9 927.3 L307.0 927.2 L309.1 927.2 L311.2 927.3 L313.2 927.3 L315.3 927.4 L317.4 927.8 L319.5 928.1 L321.6 928.7 L323.6 929.2 L325.7 929.7 L327.8 930.1 L329.9 930.6 L331.9 931.2 L334.0 931.4 L336.1 931.6 L338.2 931.8 L340.2 931.8 L342.3 931.8 L344.4 931.8 L346.5 932.0 L348.6 932.2 L350.6 932.1 L352.7 932.2 L354.8 932.1 L356.9 932.2 L358.9 932.1 L361.0 932.0 L363.1 931.8 L365.2 931.6 L367.2 931.5 L369.3 931.5 L371.4 931.4 L373.5 931.1 L375.6 930.9 L377.6 930.7 L379.7 930.5 L381.8 930.3 L383.9 930.3 L385.9 930.0 L388.0 929.6 L390.1 929.2 L392.2 928.8 L394.2 928.6 L396.3 928.3 L398.4 927.6 L400.5 927.2 L402.5 926.8 L404.6 926.4 L406.7 925.8 L408.8 925.2 L410.9 924.9 L412.9 924.5 L415.0 923.8 L417.1 923.2 L419.2 923.1 L421.2 922.8 L423.3 922.2 L425.4 921.7 L427.5 921.3 L429.5 920.9 L431.6 920.7 L433.7 920.5 L435.8 920.2 L437.9 920.1 L439.9 919.8 L442.0 919.6 L444.1 919.1 L446.2 918.9 L448.2 918.9 L450.3 918.8 L452.4 918.8 L454.5 918.9 L456.5 919.1 L458.6 919.5 L460.7 919.7 L462.8 919.7 L464.8 919.9 L466.9 920.1 L469.0 920.6 L471.1 921.1 L473.2 921.3 L475.2 921.8 L477.3 922.1 L479.4 922.3 L481.5 922.8 L483.5 923.4 L485.6 923.9 L487.7 924.4 L489.8 925.1 L491.8 925.8 L493.9 926.4 L496.0 927.1 L498.1 927.6 L500.1 928.1 L502.2 928.6 L504.3 929.3 L506.4 929.9 L508.5 930.5 L510.5 930.9 L512.6 931.6 L514.7 932.3 L516.8 932.9 L518.8 933.4 L520.9 933.9 L523.0 934.5 L525.1 935.3 L527.1 935.9 L529.2 936.2 L531.3 936.8 L533.4 937.5 L535.5 938.2 L537.5 938.5 L539.6 938.9 L541.7 939.5 L543.8 940.0 L545.8 940.6 L547.9 941.0 L550.0 941.4 L552.1 941.9 L554.1 942.4 L556.2 942.8 L558.3 943.1 L560.4 943.4 L562.5 943.9 L564.5 944.3 L566.6 944.7 L568.7 944.9 L570.8 945.4 L572.8 945.7 L574.9 946.0 L577.0 946.4 L579.1 946.6 L581.1 946.9 L583.2 947.0 L585.3 947.4 L587.4 947.8 L589.4 948.0 L591.5 948.5 L593.6 948.9 L595.7 949.0 L597.8 949.1 L599.8 949.6 L601.9 949.8 L604.0 950.2 L606.1 950.6 L608.1 950.6 L610.2 951.3 L612.3 951.4 L614.4 951.5 L616.4 951.8 L618.5 952.0 L620.6 952.5 L622.7 952.9 L624.8 953.1 L626.8 953.4 L628.9 953.6 L631.0 953.9 L633.1 954.2 L635.1 954.3 L637.2 954.5 L639.3 954.7 L641.4 955.1 L643.4 955.4 L645.5 955.7 L647.6 955.8 L649.7 956.1 L651.7 956.4 L653.8 956.7 L655.9 957.1 L658.0 957.3 L660.1 957.6 L662.1 957.8 L664.2 958.1 L666.3 958.4 L668.4 958.6 L670.4 958.7 L672.5 958.8 L674.6 959.1 L676.7 959.2 L678.7 959.6 L680.8 960.1 L682.9 960.3 L685.0 960.3 L687.0 960.5 L689.1 960.9 L691.2 961.2 L693.3 961.3 L695.4 961.4 L697.4 961.7 L699.5 961.9 L701.6 962.0 L703.7 962.3 L705.7 962.8 L707.8 963.1 L709.9 963.1 L712.0 963.5 L714.0 963.8 L716.1 963.8 L718.2 963.9 L720.3 964.1 L722.4 964.4 L724.4 964.7 L726.5 964.9 L728.6 965.2 L730.7 965.5 L732.7 965.8 L734.8 965.8 L736.9 966.0 L739.0 966.3 L741.0 966.5 L743.1 966.7 L745.2 967.1 L747.3 967.2 L749.4 967.4 L751.4 967.8 L753.5 968.2 L755.6 968.2 L757.7 968.5 L759.7 968.8 L761.8 969.0 L763.9 969.3 L766.0 969.7 L768.0 970.1 L770.1 970.4 L772.2 970.5 L774.3 970.7 L776.3 971.4 L778.4 971.6 L780.5 971.8 L782.6 972.2 L784.7 972.5 L786.7 972.7 L788.8 972.9 L790.9 973.4 L793.0 973.7 L795.0 973.9 L797.1 974.2 L799.2 974.4 L801.3 974.8 L803.3 975.0 L805.4 975.3 L807.5 975.8 L809.6 976.1 L811.6 976.2 L813.7 976.4 L815.8 976.7 L817.9 977.1 L820.0 977.4 L822.0 977.8 L824.1 978.1 L826.2 978.4 L828.3 978.8 L830.3 979.0 L832.4 979.2 L834.5 979.6 L836.6 980.1 L838.6 980.3 L840.7 980.4 L842.8 980.6 L844.9 980.6 L847.0 981.1 L849.0 981.5 L851.1 981.7 L853.2 981.9 L855.3 982.1 L857.3 982.4 L859.4 982.8 L861.5 982.9 L863.6 983.1 L865.6 983.6 L867.7 983.9 L869.8 984.1 L871.9 984.3 L874.0 984.8 L876.0 985.1 L878.1 985.2 L880.2 985.4 L882.3 985.7 L884.3 986.0 L886.4 986.4 L888.5 986.8 L890.6 986.9 L892.6 987.1 L894.7 987.4 L896.8 987.8 L898.9 988.0 L900.9 988.2 L903.0 988.6 L905.1 989.0 L907.2 989.3 L909.3 989.2 L911.3 989.5 L913.4 989.9 L915.5 990.0 L917.6 990.3 L919.6 990.7 L921.7 990.8 L923.8 991.0 L925.9 991.3 L927.9 991.6 L930.0 991.8 L932.1 992.0 L934.2 992.4 L936.2 992.6 L938.3 992.7 L940.4 992.9 L942.5 993.4 L944.6 993.5 L946.6 993.8 L948.7 994.2 L950.8 994.3 L952.9 994.6 L954.9 995.1 L957.0 995.2 L959.1 995.3 L961.2 995.5 L963.2 995.9 L965.3 996.2 L967.4 996.4 L969.5 996.5 L971.6 996.8 L973.6 997.0 L975.7 997.3 L977.8 997.4 L979.9 997.6 L981.9 997.9 L984.0 998.0 L986.1 998.3 L988.2 998.6 L990.2 998.8 L992.3 999.1 L994.4 999.2 L996.5 999.4 L998.5 999.6 L1000.6 999.6 L1002.7 999.8 L1004.8 1000.0 L1006.9 1000.3 L1008.9 1000.6 L1011.0 1000.9 L1013.1 1000.9 L1015.2 1001.3 L1017.2 1001.5 L1019.3 1001.6 L1021.4 1001.9 L1023.5 1001.9 L1025.5 1001.8 L1027.6 1002.2 L1029.7 1002.4 L1031.8 1002.9 L1033.9 1003.1 L1035.9 1003.1 L1038.0 1003.2 L1040.1 1003.4 L1042.2 1003.5 L1044.2 1003.7 L1046.3 1003.9 L1048.4 1004.2 L1050.5 1004.4 L1052.5 1004.7 L1054.6 1004.9 L1056.7 1004.8 L1058.8 1004.7 L1060.8 1005.1 L1062.9 1005.4 L1065.0 1005.5 L1067.1 1005.5 L1069.2 1005.7 L1071.2 1005.9 L1073.3 1006.2 L1075.4 1006.3 L1077.5 1006.5 L1079.5 1006.7 L1081.6 1006.8 L1083.7 1006.9 L1085.8 1007.2 L1087.8 1007.4 L1089.9 1007.3 L1092.0 1007.6 L1094.1 1007.9 L1096.2 1008.1 L1098.2 1008.2 L1100.3 1008.4 L1102.4 1008.5 L1104.5 1008.6 L1106.5 1008.7 L1108.6 1009.1 L1110.7 1009.2 L1112.8 1009.3 L1114.8 1009.6 L1116.9 1009.8 L1119.0 1010.0 L1121.1 1010.1 L1123.2 1010.5 L1125.2 1010.8 L1127.3 1010.5 L1129.4 1010.7 L1131.5 1011.1 L1133.5 1011.2 L1135.6 1011.3 L1137.7 1011.5 L1139.8 1011.6 L1141.8 1011.8 L1143.9 1012.3 L1146.0 1012.3 L1148.1 1012.2 L1150.1 1012.6 L1152.2 1012.8 L1154.3 1013.0 L1156.4 1013.2 L1158.5 1013.2 L1160.5 1013.3 L1162.6 1013.8 L1164.7 1013.9 L1166.8 1013.9 L1168.8 1014.3 L1170.9 1014.6 L1173.0 1014.7 L1175.1 1014.8 L1177.1 1015.0 L1179.2 1014.9 L1181.3 1015.3 L1183.4 1015.5 L1185.5 1015.6 L1187.5 1015.8 L1189.6 1015.9 L1191.7 1015.9 L1193.8 1016.4 L1195.8 1016.4 L1197.9 1016.6 L1200.0 1016.8 L1202.1 1017.0 L1204.1 1017.2 L1206.2 1017.3 L1208.3 1017.6 L1210.4 1017.7 L1212.4 1017.8 L1214.5 1018.1 L1216.6 1018.3 L1218.7 1018.5 L1220.8 1018.6 L1222.8 1018.7 L1224.9 1018.6 L1227.0 1019.0 L1229.1 1019.4 L1231.1 1019.4 L1233.2 1019.7 L1235.3 1020.0 L1237.4 1020.2 L1239.4 1020.1 L1241.5 1020.2 L1243.6 1020.6 L1245.7 1020.8 L1247.8 1020.7 L1249.8 1021.0 L1251.9 1021.4 L1254.0 1021.5 L1256.1 1021.7 L1258.1 1021.7 L1260.2 1021.9 L1262.3 1022.0 L1264.4 1022.3 L1266.4 1022.7 L1268.5 1022.7 L1270.6 1022.8 L1272.7 1023.0 L1274.7 1023.1 L1276.8 1023.3 L1278.9 1023.4 L1281.0 1023.5 L1283.1 1023.8 L1285.1 1023.9 L1287.2 1024.1 L1289.3 1024.2 L1291.4 1024.5 L1293.4 1024.6 L1295.5 1024.7 L1297.6 1024.9 L1299.7 1024.8 L1301.7 1025.1 L1303.8 1025.4 L1305.9 1025.6 L1308.0 1025.7 L1310.0 1025.8 L1312.1 1025.9 L1314.2 1026.0 L1316.3 1026.3 L1318.4 1026.3 L1320.4 1026.6 L1322.5 1026.6 L1324.6 1026.8 L1326.7 1027.0 L1328.7 1027.0 L1330.8 1027.2 L1332.9 1027.4 L1335.0 1027.5 L1337.0 1027.7 L1339.1 1027.7 L1341.2 1027.8 L1343.3 1028.0 L1345.4 1028.3 L1347.4 1028.4 L1349.5 1028.3 L1351.6 1028.5 L1353.7 1028.8 L1355.7 1028.6 L1357.8 1028.7 L1359.9 1029.2 L1362.0 1029.2 L1364.0 1029.2 L1366.1 1029.5 L1368.2 1029.8 L1370.3 1029.6 L1372.3 1029.5 L1374.4 1029.8 L1376.5 1030.1 L1378.6 1030.0 L1380.7 1030.1 L1382.7 1030.5 L1384.8 1030.5 L1386.9 1030.6 L1389.0 1030.8 L1391.0 1030.9 L1393.1 1031.0 L1395.2 1031.0 L1397.3 1031.1 L1399.3 1031.3 L1401.4 1031.3 L1403.5 1031.5" stroke="#808080" stroke-width="3"/>
<path d="M157.5 730.3 L159.6 758.5 L161.7 779.8 L163.7 797.5 L165.8 812.8 L167.9 826.9 L170.0 840.7 L172.0 851.9 L174.1 859.1 L176.2 865.3 L178.3 870.0 L180.3 874.3 L182.4 877.9 L184.5 881.0 L186.6 883.7 L188.7 885.7 L190.7 887.5 L192.8 888.8 L194.9 889.9 L197.0 890.9 L199.0 891.3 L201.1 891.1 L203.2 891.2 L205.3 891.2 L207.3 891.2 L209.4 890.9 L211.5 890.7 L213.6 890.5 L215.6 890.7 L217.7 891.8 L219.8 893.6 L221.9 895.3 L224.0 897.4 L226.0 899.8 L228.1 902.9 L230.2 906.0 L232.3 908.9 L234.3 911.8 L236.4 914.8 L238.5 917.6 L240.6 920.6 L242.6 923.1 L244.7 925.3 L246.8 927.4 L248.9 929.0 L250.9 930.3 L253.0 931.1 L255.1 932.1 L257.2 932.7 L259.3 933.2 L261.3 933.5 L263.4 933.5 L265.5 933.7 L267.6 934.0 L269.6 934.1 L271.7 934.0 L273.8 933.9 L275.9 934.0 L277.9 934.1 L280.0 934.0 L282.1 934.0 L284.2 933.8 L286.3 933.4 L288.3 933.5 L290.4 933.3 L292.5 933.0 L294.6 933.0 L296.6 932.7 L298.7 932.6 L300.8 932.4 L302.9 932.5 L304.9 932.3 L307.0 932.4 L309.1 932.2 L311.2 932.3 L313.2 932.3 L315.3 932.4 L317.4 932.8 L319.5 933.3 L321.6 933.9 L323.6 934.4 L325.7 934.8 L327.8 935.2 L329.9 935.7 L331.9 936.3 L334.0 936.8 L336.1 936.9 L338.2 936.9 L340.2 937.1 L342.3 937.1 L344.4 937.1 L346.5 937.3 L348.6 937.6 L350.6 937.6 L352.7 937.4 L354.8 937.3 L356.9 937.2 L358.9 937.3 L361.0 937.1 L363.1 937.1 L365.2 936.9 L367.2 936.9 L369.3 937.0 L371.4 936.7 L373.5 936.6 L375.6 936.4 L377.6 936.2 L379.7 936.1 L381.8 936.0 L383.9 935.5 L385.9 935.1 L388.0 934.9 L390.1 934.5 L392.2 934.2 L394.2 933.8 L396.3 933.5 L398.4 933.3 L400.5 932.8 L402.5 932.3 L404.6 932.0 L406.7 931.3 L408.8 931.1 L410.9 930.6 L412.9 929.8 L415.0 929.4 L417.1 929.0 L419.2 928.6 L421.2 928.5 L423.3 928.2 L425.4 927.6 L427.5 927.1 L429.5 926.8 L431.6 926.5 L433.7 926.4 L435.8 925.9 L437.9 925.6 L439.9 925.4 L442.0 925.1 L444.1 924.8 L446.2 924.8 L448.2 924.4 L450.3 924.4 L452.4 924.7 L454.5 924.7 L456.5 924.7 L458.6 925.1 L460.7 925.3 L462.8 925.5 L464.8 925.5 L466.9 926.1 L469.0 926.4 L471.1 926.8 L473.2 927.2 L475.2 927.6 L477.3 927.9 L479.4 928.1 L481.5 928.4 L483.5 928.9 L485.6 929.5 L487.7 930.2 L489.8 930.8 L491.8 931.5 L493.9 932.1 L496.0 932.4 L498.1 933.0 L500.1 933.7 L502.2 934.3 L504.3 935.0 L506.4 935.7 L508.5 936.3 L510.5 937.1 L512.6 937.3 L514.7 937.7 L516.8 938.4 L518.8 939.2 L520.9 939.7 L523.0 940.2 L525.1 940.7 L527.1 941.3 L529.2 942.0 L531.3 942.5 L533.4 943.1 L535.5 943.6 L537.5 944.1 L539.6 944.7 L541.7 945.1 L543.8 945.6 L545.8 946.2 L547.9 946.5 L550.0 946.9 L552.1 947.5 L554.1 947.7 L556.2 948.0 L558.3 948.4 L560.4 948.9 L562.5 949.1 L564.5 949.6 L566.6 950.1 L568.7 950.2 L570.8 950.4 L572.8 950.8 L574.9 951.2 L577.0 951.6 L579.1 951.7 L581.1 951.9 L583.2 952.3 L585.3 952.4 L587.4 952.6 L589.4 953.2 L591.5 953.6 L593.6 953.9 L595.7 954.1 L597.8 954.3 L599.8 954.6 L601.9 955.0 L604.0 955.2 L606.1 955.5 L608.1 955.6 L610.2 955.9 L612.3 956.2 L614.4 956.5 L616.4 956.9 L618.5 956.9 L620.6 957.3 L622.7 957.8 L624.8 958.0 L626.8 958.0 L628.9 958.4 L631.0 958.6 L633.1 958.9 L635.1 959.1 L637.2 959.4 L639.3 959.7 L641.4 959.9 L643.4 960.3 L645.5 960.4 L647.6 960.6 L649.7 960.9 L651.7 961.2 L653.8 961.4 L655.9 961.8 L658.0 961.9 L660.1 962.0 L662.1 962.5 L664.2 962.7 L666.3 962.8 L668.4 962.9 L670.4 963.2 L672.5 963.6 L674.6 963.7 L676.7 963.7 L678.7 964.0 L680.8 964.3 L682.9 964.6 L685.0 964.8 L687.0 965.1 L689.1 965.1 L691.2 965.4 L693.3 965.5 L695.4 965.7 L697.4 966.0 L699.5 966.3 L701.6 966.4 L703.7 966.7 L705.7 966.9 L707.8 967.0 L709.9 967.1 L712.0 967.4 L714.0 967.6 L716.1 968.0 L718.2 968.2 L720.3 968.2 L722.4 968.3 L724.4 968.6 L726.5 968.9 L728.6 969.2 L730.7 969.4 L732.7 969.5 L734.8 969.6 L736.9 969.8 L739.0 970.1 L741.0 970.4 L743.1 970.5 L745.2 970.8 L747.3 971.2 L749.4 971.2 L751.4 971.5 L753.5 971.9 L755.6 972.2 L757.7 972.6 L759.7 972.5 L761.8 972.8 L763.9 973.2 L766.0 973.3 L768.0 973.6 L770.1 973.8 L772.2 974.1 L774.3 974.5 L776.3 974.8 L778.4 975.0 L780.5 975.1 L782.6 975.5 L784.7 975.6 L786.7 975.9 L788.8 976.4 L790.9 976.5 L793.0 976.9 L795.0 977.2 L797.1 977.6 L799.2 977.7 L801.3 978.0 L803.3 978.2 L805.4 978.6 L807.5 978.9 L809.6 978.9 L811.6 979.2 L813.7 979.9 L815.8 980.3 L817.9 980.4 L820.0 980.6 L822.0 981.0 L824.1 981.0 L826.2 981.3 L828.3 981.6 L830.3 981.8 L832.4 982.1 L834.5 982.4 L836.6 982.7 L838.6 983.0 L840.7 983.1 L842.8 983.5 L844.9 983.7 L847.0 984.0 L849.0 984.2 L851.1 984.6 L853.2 984.8 L855.3 984.8 L857.3 985.2 L859.4 985.6 L861.5 985.8 L863.6 986.0 L865.6 986.3 L867.7 986.6 L869.8 986.8 L871.9 987.0 L874.0 987.1 L876.0 987.3 L878.1 988.1 L880.2 988.1 L882.3 988.2 L884.3 988.7 L886.4 988.9 L888.5 989.0 L890.6 989.3 L892.6 989.5 L894.7 989.7 L896.8 990.0 L898.9 990.3 L900.9 990.8 L903.0 990.9 L905.1 991.1 L907.2 991.5 L909.3 991.6 L911.3 991.9 L913.4 992.1 L915.5 992.5 L917.6 992.8 L919.6 993.0 L921.7 993.1 L923.8 993.3 L925.9 993.5 L927.9 993.7 L930.0 993.7 L932.1 994.1 L934.2 994.5 L936.2 994.7 L938.3 995.0 L940.4 995.3 L942.5 995.6 L944.6 995.7 L946.6 995.9 L948.7 995.9 L950.8 996.4 L952.9 996.6 L954.9 996.8 L957.0 997.2 L959.1 997.2 L961.2 997.2 L963.2 997.7 L965.3 998.3 L967.4 998.3 L969.5 998.3 L971.6 998.7 L973.6 998.7 L975.7 998.8 L977.8 999.2 L979.9 999.5 L981.9 999.6 L984.0 999.6 L986.1 999.8 L988.2 1000.1 L990.2 1000.4 L992.3 1000.9 L994.4 1001.2 L996.5 1001.2 L998.5 1001.2 L1000.6 1001.5 L1002.7 1001.7 L1004.8 1001.8 L1006.9 1002.2 L1008.9 1002.4 L1011.0 1002.5 L1013.1 1002.6 L1015.2 1002.7 L1017.2 1002.8 L1019.3 1003.0 L1021.4 1003.2 L1023.5 1003.5 L1025.5 1003.7 L1027.6 1003.8 L1029.7 1003.9 L1031.8 1004.0 L1033.9 1004.4 L1035.9 1004.7 L1038.0 1004.6 L1040.1 1004.7 L1042.2 1005.0 L1044.2 1005.3 L1046.3 1005.6 L1048.4 1005.6 L1050.5 1005.7 L1052.5 1006.0 L1054.6 1006.0 L1056.7 1006.1 L1058.8 1006.2 L1060.8 1006.5 L1062.9 1006.8 L1065.0 1006.8 L1067.1 1006.9 L1069.2 1007.1 L1071.2 1007.2 L1073.3 1007.4 L1075.4 1007.8 L1077.5 1007.9 L1079.5 1008.0 L1081.6 1008.2 L1083.7 1008.3 L1085.8 1008.5 L1087.8 1009.0 L1089.9 1009.1 L1092.0 1009.0 L1094.1 1009.3 L1096.2 1009.5 L1098.2 1009.4 L1100.3 1009.5 L1102.4 1009.8 L1104.5 1010.0 L1106.5 1010.2 L1108.6 1010.2 L1110.7 1010.5 L1112.8 1010.6 L1114.8 1010.7 L1116.9 1010.9 L1119.0 1011.4 L1121.1 1011.4 L1123.2 1011.5 L1125.2 1011.7 L1127.3 1011.8 L1129.4 1011.9 L1131.5 1012.0 L1133.5 1012.3 L1135.6 1012.4 L1137.7 1012.8 L1139.8 1013.0 L1141.8 1012.9 L1143.9 1013.1 L1146.0 1013.2 L1148.1 1013.5 L1150.1 1013.6 L1152.2 1013.8 L1154.3 1014.0 L1156.4 1014.3 L1158.5 1014.5 L1160.5 1014.5 L1162.6 1014.7 L1164.7 1014.7 L1166.8 1014.8 L1168.8 1015.2 L1170.9 1015.4 L1173.0 1015.5 L1175.1 1015.8 L1177.1 1015.8 L1179.2 1015.8 L1181.3 1016.2 L1183.4 1016.5 L1185.5 1016.6 L1187.5 1016.9 L1189.6 1017.0 L1191.7 1017.1 L1193.8 1017.3 L1195.8 1017.5 L1197.9 1017.7 L1200.0 1017.8 L1202.1 1018.0 L1204.1 1018.1 L1206.2 1018.2 L1208.3 1018.5 L1210.4 1018.6 L1212.4 1018.7 L1214.5 1018.9 L1216.6 1019.0 L1218.7 1019.4 L1220.8 1019.6 L1222.8 1019.8 L1224.9 1019.8 L1227.0 1020.0 L1229.1 1020.0 L1231.1 1020.3 L1233.2 1020.6 L1235.3 1020.6 L1237.4 1020.8 L1239.4 1021.0 L1241.5 1021.3 L1243.6 1021.4 L1245.7 1021.5 L1247.8 1021.6 L1249.8 1021.8 L1251.9 1022.0 L1254.0 1022.0 L1256.1 1022.2 L1258.1 1022.3 L1260.2 1022.6 L1262.3 1022.9 L1264.4 1022.9 L1266.4 1023.3 L1268.5 1023.3 L1270.6 1023.3 L1272.7 1023.6 L1274.7 1023.7 L1276.8 1023.6 L1278.9 1023.9 L1281.0 1024.4 L1283.1 1024.6 L1285.1 1024.6 L1287.2 1024.7 L1289.3 1024.9 L1291.4 1024.9 L1293.4 1024.9 L1295.5 1025.1 L1297.6 1025.2 L1299.7 1025.4 L1301.7 1025.6 L1303.8 1025.9 L1305.9 1026.0 L1308.0 1026.4 L1310.0 1026.3 L1312.1 1026.3 L1314.2 1026.4 L1316.3 1026.7 L1318.4 1026.6 L1320.4 1026.9 L1322.5 1027.1 L1324.6 1026.9 L1326.7 1027.4 L1328.7 1027.5 L1330.8 1027.4 L1332.9 1027.6 L1335.0 1027.8 L1337.0 1027.9 L1339.1 1028.0 L1341.2 1028.1 L1343.3 1028.2 L1345.4 1028.4 L1347.4 1028.6 L1349.5 1028.6 L1351.6 1028.7 L1353.7 1028.9 L1355.7 1029.2 L1357.8 1029.2 L1359.9 1029.2 L1362.0 1029.3 L1364.0 1029.4 L1366.1 1029.5 L1368.2 1029.8 L1370.3 1030.0 L1372.3 1029.8 L1374.4 1029.8 L1376.5 1030.0 L1378.6 1029.9 L1380.7 1030.2 L1382.7 1030.4 L1384.8 1030.5 L1386.9 1030.5 L1389.0 1030.7 L1391.0 1030.8 L1393.1 1030.8 L1395.2 1030.9 L1397.3 1031.2 L1399.3 1031.2 L1401.4 1031.4 L1403.5 1031.7" stroke="#ffff80" stroke-width="3"/>
<path d="M157.5 734.6 L159.6 762.9 L161.7 784.0 L163.7 801.7 L165.8 816.6 L167.9 830.6 L170.0 844.0 L172.0 854.9 L174.1 862.1 L176.2 868.3 L178.3 873.8 L180.3 878.0 L182.4 881.5 L184.5 884.6 L186.6 887.3 L188.7 889.5 L190.7 891.1 L192.8 892.4 L194.9 893.7 L197.0 894.7 L199.0 895.0 L201.1 895.2 L203.2 895.2 L205.3 895.1 L207.3 895.2 L209.4 894.8 L211.5 894.6 L213.6 894.5 L215.6 894.9 L217.7 896.2 L219.8 897.8 L221.9 899.4 L224.0 901.3 L226.0 904.0 L228.1 907.1 L230.2 909.9 L232.3 912.8 L234.3 915.8 L236.4 918.9 L238.5 922.1 L240.6 924.7 L242.6 927.3 L244.7 929.4 L246.8 931.3 L248.9 932.8 L250.9 934.1 L253.0 935.1 L255.1 936.2 L257.2 936.8 L259.3 937.2 L261.3 937.6 L263.4 937.7 L265.5 937.9 L267.6 938.3 L269.6 938.3 L271.7 938.3 L273.8 938.4 L275.9 938.5 L277.9 938.4 L280.0 938.4 L282.1 938.5 L284.2 938.1 L286.3 937.8 L288.3 937.5 L290.4 937.4 L292.5 937.3 L294.6 937.2 L296.6 937.2 L298.7 936.8 L300.8 936.6 L302.9 936.7 L304.9 936.7 L307.0 936.7 L309.1 936.8 L311.2 936.7 L313.2 936.7 L315.3 936.9 L317.4 937.3 L319.5 937.7 L321.6 938.1 L323.6 938.7 L325.7 939.3 L327.8 939.7 L329.9 940.2 L331.9 940.8 L334.0 941.2 L336.1 941.3 L338.2 941.4 L340.2 941.4 L342.3 941.6 L344.4 941.7 L346.5 941.9 L348.6 942.0 L350.6 941.9 L352.7 941.9 L354.8 941.9 L356.9 941.9 L358.9 941.9 L361.0 942.0 L363.1 941.7 L365.2 941.5 L367.2 941.3 L369.3 941.5 L371.4 941.3 L373.5 941.1 L375.6 941.1 L377.6 940.9 L379.7 940.6 L381.8 940.3 L383.9 940.0 L385.9 940.0 L388.0 939.7 L390.1 939.4 L392.2 939.2 L394.2 938.7 L396.3 938.5 L398.4 938.1 L400.5 937.7 L402.5 937.2 L404.6 936.8 L406.7 936.2 L408.8 935.8 L410.9 935.5 L412.9 934.9 L415.0 934.4 L417.1 934.2 L419.2 934.0 L421.2 933.4 L423.3 933.1 L425.4 932.7 L427.5 932.4 L429.5 932.0 L431.6 931.7 L433.7 931.2 L435.8 931.0 L437.9 930.9 L439.9 930.7 L442.0 930.2 L444.1 930.1 L446.2 930.0 L448.2 929.8 L450.3 929.8 L452.4 930.0 L454.5 929.7 L456.5 929.9 L458.6 930.1 L460.7 930.3 L462.8 930.5 L464.8 930.8 L466.9 931.1 L469.0 931.4 L471.1 931.5 L473.2 932.0 L475.2 932.5 L477.3 932.9 L479.4 933.2 L481.5 933.7 L483.5 934.0 L485.6 934.5 L487.7 935.1 L489.8 935.6 L491.8 936.5 L493.9 937.3 L496.0 937.6 L498.1 938.0 L500.1 938.8 L502.2 939.6 L504.3 940.1 L506.4 940.6 L508.5 941.1 L510.5 941.6 L512.6 942.5 L514.7 943.1 L516.8 943.6 L518.8 944.2 L520.9 944.6 L523.0 945.5 L525.1 945.9 L527.1 946.5 L529.2 947.0 L531.3 947.3 L533.4 947.8 L535.5 948.4 L537.5 949.0 L539.6 949.5 L541.7 950.0 L543.8 950.5 L545.8 951.0 L547.9 951.5 L550.0 951.8 L552.1 951.9 L554.1 952.4 L556.2 952.9 L558.3 953.2 L560.4 953.4 L562.5 953.7 L564.5 954.2 L566.6 954.4 L568.7 954.7 L570.8 955.0 L572.8 955.4 L574.9 955.7 L577.0 955.9 L579.1 956.1 L581.1 956.6 L583.2 956.8 L585.3 957.1 L587.4 957.5 L589.4 957.7 L591.5 957.8 L593.6 958.3 L595.7 958.5 L597.8 958.9 L599.8 959.0 L601.9 959.4 L604.0 959.4 L606.1 959.4 L608.1 960.0 L610.2 960.2 L612.3 960.5 L614.4 960.9 L616.4 960.9 L618.5 961.3 L620.6 961.5 L622.7 961.8 L624.8 961.7 L626.8 962.1 L628.9 962.6 L631.0 962.8 L633.1 963.0 L635.1 963.2 L637.2 963.5 L639.3 963.9 L641.4 964.1 L643.4 964.2 L645.5 964.5 L647.6 964.7 L649.7 964.8 L651.7 965.0 L653.8 965.2 L655.9 965.5 L658.0 965.8 L660.1 966.1 L662.1 966.2 L664.2 966.5 L666.3 966.6 L668.4 966.9 L670.4 967.1 L672.5 967.2 L674.6 967.6 L676.7 968.0 L678.7 968.2 L680.8 968.5 L682.9 968.2 L685.0 968.3 L687.0 968.8 L689.1 968.9 L691.2 969.1 L693.3 969.4 L695.4 969.7 L697.4 969.9 L699.5 970.0 L701.6 970.3 L703.7 970.2 L705.7 970.4 L707.8 970.6 L709.9 970.9 L712.0 971.1 L714.0 971.3 L716.1 971.5 L718.2 971.7 L720.3 971.8 L722.4 972.0 L724.4 972.1 L726.5 972.1 L728.6 972.3 L730.7 972.7 L732.7 972.9 L734.8 973.3 L736.9 973.2 L739.0 973.4 L741.0 973.7 L743.1 974.0 L745.2 974.1 L747.3 974.3 L749.4 974.7 L751.4 974.8 L753.5 975.2 L755.6 975.3 L757.7 975.4 L759.7 975.7 L761.8 976.1 L763.9 976.5 L766.0 976.6 L768.0 976.7 L770.1 976.9 L772.2 977.0 L774.3 977.5 L776.3 977.7 L778.4 977.8 L780.5 978.2 L782.6 978.6 L784.7 978.8 L786.7 979.0 L788.8 979.5 L790.9 979.7 L793.0 979.9 L795.0 980.2 L797.1 980.6 L799.2 980.7 L801.3 980.9 L803.3 981.1 L805.4 981.4 L807.5 981.8 L809.6 982.0 L811.6 982.4 L813.7 982.5 L815.8 982.8 L817.9 983.2 L820.0 983.4 L822.0 983.5 L824.1 983.7 L826.2 983.9 L828.3 984.2 L830.3 984.5 L832.4 984.8 L834.5 985.1 L836.6 985.4 L838.6 985.6 L840.7 985.8 L842.8 986.1 L844.9 986.2 L847.0 986.6 L849.0 986.7 L851.1 986.8 L853.2 987.2 L855.3 987.1 L857.3 987.3 L859.4 987.8 L861.5 988.3 L863.6 988.5 L865.6 988.6 L867.7 988.8 L869.8 989.0 L871.9 989.4 L874.0 989.6 L876.0 990.0 L878.1 990.2 L880.2 990.4 L882.3 990.8 L884.3 991.0 L886.4 991.0 L888.5 991.2 L890.6 991.3 L892.6 991.5 L894.7 991.9 L896.8 992.1 L898.9 992.2 L900.9 992.6 L903.0 992.9 L905.1 993.2 L907.2 993.3 L909.3 993.5 L911.3 993.7 L913.4 994.1 L915.5 994.4 L917.6 994.4 L919.6 994.4 L921.7 994.9 L923.8 995.4 L925.9 995.6 L927.9 995.8 L930.0 995.7 L932.1 995.8 L934.2 996.3 L936.2 996.5 L938.3 997.0 L940.4 997.1 L942.5 997.4 L944.6 997.8 L946.6 997.8 L948.7 998.0 L950.8 998.3 L952.9 998.3 L954.9 998.6 L957.0 998.8 L959.1 998.9 L961.2 999.0 L963.2 999.2 L965.3 999.3 L967.4 999.6 L969.5 999.8 L971.6 1000.2 L973.6 1000.6 L975.7 1000.7 L977.8 1000.8 L979.9 1000.9 L981.9 1001.2 L984.0 1001.4 L986.1 1001.4 L988.2 1001.7 L990.2 1002.1 L992.3 1002.3 L994.4 1002.5 L996.5 1002.6 L998.5 1002.7 L1000.6 1003.0 L1002.7 1003.2 L1004.8 1003.1 L1006.9 1003.3 L1008.9 1003.5 L1011.0 1003.5 L1013.1 1003.9 L1015.2 1004.1 L1017.2 1004.3 L1019.3 1004.4 L1021.4 1004.7 L1023.5 1005.0 L1025.5 1005.0 L1027.6 1005.1 L1029.7 1005.4 L1031.8 1005.3 L1033.9 1005.5 L1035.9 1005.9 L1038.0 1006.0 L1040.1 1006.1 L1042.2 1006.5 L1044.2 1006.6 L1046.3 1006.6 L1048.4 1006.9 L1050.5 1007.1 L1052.5 1007.1 L1054.6 1007.4 L1056.7 1007.5 L1058.8 1007.7 L1060.8 1007.7 L1062.9 1007.9 L1065.0 1008.2 L1067.1 1008.4 L1069.2 1008.4 L1071.2 1008.5 L1073.3 1008.6 L1075.4 1009.0 L1077.5 1009.1 L1079.5 1009.3 L1081.6 1009.4 L1083.7 1009.3 L1085.8 1009.7 L1087.8 1010.0 L1089.9 1009.9 L1092.0 1010.0 L1094.1 1010.2 L1096.2 1010.4 L1098.2 1010.5 L1100.3 1010.6 L1102.4 1010.7 L1104.5 1011.2 L1106.5 1011.1 L1108.6 1011.5 L1110.7 1011.7 L1112.8 1011.9 L1114.8 1012.0 L1116.9 1012.2 L1119.0 1012.3 L1121.1 1012.3 L1123.2 1012.5 L1125.2 1012.6 L1127.3 1012.7 L1129.4 1013.0 L1131.5 1013.1 L1133.5 1013.4 L1135.6 1013.4 L1137.7 1013.7 L1139.8 1013.9 L1141.8 1013.8 L1143.9 1014.1 L1146.0 1014.3 L1148.1 1014.5 L1150.1 1014.6 L1152.2 1014.8 L1154.3 1014.9 L1156.4 1015.1 L1158.5 1015.3 L1160.5 1015.4 L1162.6 1015.6 L1164.7 1015.8 L1166.8 1015.8 L1168.8 1016.1 L1170.9 1016.2 L1173.0 1016.3 L1175.1 1016.5 L1177.1 1016.7 L1179.2 1017.1 L1181.3 1017.1 L1183.4 1017.4 L1185.5 1017.6 L1187.5 1017.6 L1189.6 1017.8 L1191.7 1018.1 L1193.8 1017.9 L1195.8 1018.2 L1197.9 1018.7 L1200.0 1018.8 L1202.1 1018.8 L1204.1 1018.9 L1206.2 1019.0 L1208.3 1019.2 L1210.4 1019.4 L1212.4 1019.6 L1214.5 1019.8 L1216.6 1020.1 L1218.7 1020.0 L1220.8 1020.1 L1222.8 1020.3 L1224.9 1020.5 L1227.0 1020.7 L1229.1 1020.7 L1231.1 1021.1 L1233.2 1021.2 L1235.3 1021.1 L1237.4 1021.3 L1239.4 1021.5 L1241.5 1021.9 L1243.6 1022.3 L1245.7 1022.3 L1247.8 1022.2 L1249.8 1022.3 L1251.9 1022.6 L1254.0 1022.7 L1256.1 1022.9 L1258.1 1023.0 L1260.2 1023.2 L1262.3 1023.3 L1264.4 1023.6 L1266.4 1023.6 L1268.5 1023.7 L1270.6 1024.1 L1272.7 1024.4 L1274.7 1024.4 L1276.8 1024.5 L1278.9 1024.6 L1281.0 1024.7 L1283.1 1024.9 L1285.1 1025.0 L1287.2 1025.0 L1289.3 1025.1 L1291.4 1025.4 L1293.4 1025.5 L1295.5 1025.5 L1297.6 1025.5 L1299.7 1026.0 L1301.7 1026.2 L1303.8 1026.3 L1305.9 1026.4 L1308.0 1026.3 L1310.0 1026.5 L1312.1 1026.8 L1314.2 1026.8 L1316.3 1026.8 L1318.4 1026.8 L1320.4 1027.3 L1322.5 1027.4 L1324.6 1027.3 L1326.7 1027.5 L1328.7 1027.7 L1330.8 1027.7 L1332.9 1027.7 L1335.0 1028.2 L1337.0 1028.3 L1339.1 1028.3 L1341.2 1028.4 L1343.3 1028.3 L1345.4 1028.4 L1347.4 1028.7 L1349.5 1029.0 L1351.6 1028.9 L1353.7 1029.1 L1355.7 1029.2 L1357.8 1029.1 L1359.9 1029.4 L1362.0 1029.5 L1364.0 1029.6 L1366.1 1029.6 L1368.2 1029.8 L1370.3 1030.0 L1372.3 1029.9 L1374.4 1030.0 L1376.5 1030.2 L1378.6 1030.2 L1380.7 1030.3 L1382.7 1030.5 L1384.8 1030.7 L1386.9 1030.7 L1389.0 1030.7 L1391.0 1030.9 L1393.1 1031.1 L1395.2 1031.2 L1397.3 1031.2 L1399.3 1031.4 L1401.4 1031.4 L1403.5 1031.4" stroke="#80ffff" stroke-width="3"/>
<path d="M157.5 736.1 L159.6 764.4 L161.7 785.5 L163.7 802.9 L165.8 817.9 L167.9 831.8 L170.0 845.2 L172.0 856.1 L174.1 863.7 L176.2 869.7 L178.3 874.8 L180.3 879.2 L182.4 882.6 L184.5 885.6 L186.6 888.3 L188.7 890.6 L190.7 892.3 L192.8 893.7 L194.9 895.0 L197.0 895.9 L199.0 896.5 L201.1 896.5 L203.2 896.4 L205.3 896.5 L207.3 896.6 L209.4 896.3 L211.5 895.8 L213.6 895.8 L215.6 896.5 L217.7 897.6 L219.8 899.1 L221.9 900.7 L224.0 902.7 L226.0 905.3 L228.1 908.3 L230.2 911.5 L232.3 914.3 L234.3 917.3 L236.4 920.2 L238.5 923.1 L240.6 925.9 L242.6 928.3 L244.7 930.5 L246.8 932.5 L248.9 934.3 L250.9 935.6 L253.0 936.5 L255.1 937.4 L257.2 938.2 L259.3 938.5 L261.3 938.9 L263.4 939.1 L265.5 939.4 L267.6 939.5 L269.6 939.7 L271.7 939.5 L273.8 939.8 L275.9 939.9 L277.9 939.7 L280.0 939.7 L282.1 939.6 L284.2 939.4 L286.3 939.0 L288.3 938.9 L290.4 938.8 L292.5 938.6 L294.6 938.7 L296.6 938.6 L298.7 938.4 L300.8 938.3 L302.9 938.2 L304.9 938.1 L307.0 938.2 L309.1 938.0 L311.2 938.0 L313.2 938.1 L315.3 938.2 L317.4 938.7 L319.5 939.2 L321.6 939.7 L323.6 940.3 L325.7 940.6 L327.8 941.1 L329.9 941.7 L331.9 942.1 L334.0 942.6 L336.1 942.9 L338.2 943.0 L340.2 943.0 L342.3 943.0 L344.4 943.1 L346.5 943.5 L348.6 943.5 L350.6 943.4 L352.7 943.3 L354.8 943.3 L356.9 943.4 L358.9 943.6 L361.0 943.5 L363.1 943.4 L365.2 943.3 L367.2 943.0 L369.3 942.8 L371.4 943.0 L373.5 942.8 L375.6 942.6 L377.6 942.5 L379.7 942.4 L381.8 942.2 L383.9 941.9 L385.9 941.7 L388.0 941.5 L390.1 941.3 L392.2 940.9 L394.2 940.5 L396.3 940.2 L398.4 939.9 L400.5 939.4 L402.5 938.9 L404.6 938.5 L406.7 938.1 L408.8 937.5 L410.9 937.1 L412.9 936.6 L415.0 936.4 L417.1 936.1 L419.2 935.5 L421.2 935.1 L423.3 934.8 L425.4 934.4 L427.5 934.1 L429.5 933.9 L431.6 933.3 L433.7 933.1 L435.8 932.8 L437.9 932.3 L439.9 932.2 L442.0 932.1 L444.1 931.6 L446.2 931.5 L448.2 931.5 L450.3 931.6 L452.4 931.5 L454.5 931.4 L456.5 931.4 L458.6 931.8 L460.7 932.0 L462.8 932.2 L464.8 932.5 L466.9 932.5 L469.0 933.0 L471.1 933.5 L473.2 933.6 L475.2 934.1 L477.3 934.4 L479.4 934.8 L481.5 935.1 L483.5 935.5 L485.6 936.2 L487.7 936.8 L489.8 937.4 L491.8 937.9 L493.9 938.7 L496.0 939.3 L498.1 940.0 L500.1 940.8 L502.2 941.1 L504.3 941.6 L506.4 942.2 L508.5 942.9 L510.5 943.6 L512.6 944.2 L514.7 944.8 L516.8 945.5 L518.8 945.9 L520.9 946.4 L523.0 947.1 L525.1 947.5 L527.1 948.0 L529.2 948.4 L531.3 949.1 L533.4 949.6 L535.5 950.1 L537.5 950.7 L539.6 951.2 L541.7 951.5 L543.8 951.8 L545.8 952.4 L547.9 952.8 L550.0 953.1 L552.1 953.6 L554.1 954.1 L556.2 954.3 L558.3 954.5 L560.4 955.0 L562.5 955.6 L564.5 955.7 L566.6 955.9 L568.7 956.5 L570.8 956.7 L572.8 956.7 L574.9 957.1 L577.0 957.6 L579.1 958.0 L581.1 957.8 L583.2 958.0 L585.3 958.5 L587.4 958.9 L589.4 959.0 L591.5 959.2 L593.6 959.8 L595.7 960.1 L597.8 960.4 L599.8 960.5 L601.9 960.6 L604.0 960.7 L606.1 961.0 L608.1 961.5 L610.2 961.9 L612.3 961.8 L614.4 961.9 L616.4 962.4 L618.5 962.7 L620.6 963.0 L622.7 963.1 L624.8 963.3 L626.8 963.7 L628.9 964.0 L631.0 964.1 L633.1 964.5 L635.1 964.8 L637.2 964.8 L639.3 965.0 L641.4 965.2 L643.4 965.5 L645.5 965.9 L647.6 966.0 L649.7 966.1 L651.7 966.5 L653.8 967.0 L655.9 967.2 L658.0 967.2 L660.1 967.2 L662.1 967.4 L664.2 967.7 L666.3 967.9 L668.4 968.1 L670.4 968.5 L672.5 968.9 L674.6 968.8 L676.7 969.1 L678.7 969.3 L680.8 969.3 L682.9 969.4 L685.0 969.6 L687.0 969.9 L689.1 970.1 L691.2 970.3 L693.3 970.4 L695.4 970.8 L697.4 971.2 L699.5 971.3 L701.6 971.3 L703.7 971.6 L705.7 971.7 L707.8 972.0 L709.9 972.3 L712.0 972.5 L714.0 972.5 L716.1 972.6 L718.2 972.9 L720.3 973.0 L722.4 973.2 L724.4 973.5 L726.5 973.7 L728.6 973.6 L730.7 974.0 L732.7 974.2 L734.8 974.4 L736.9 974.4 L739.0 974.5 L741.0 975.0 L743.1 975.0 L745.2 975.5 L747.3 975.4 L749.4 975.6 L751.4 975.9 L753.5 976.0 L755.6 976.1 L757.7 976.5 L759.7 976.9 L761.8 977.1 L763.9 977.4 L766.0 977.6 L768.0 977.9 L770.1 978.0 L772.2 978.5 L774.3 978.8 L776.3 978.8 L778.4 978.9 L780.5 979.3 L782.6 979.5 L784.7 979.8 L786.7 980.1 L788.8 980.2 L790.9 980.6 L793.0 980.8 L795.0 980.9 L797.1 981.3 L799.2 981.7 L801.3 982.0 L803.3 982.0 L805.4 982.4 L807.5 982.6 L809.6 982.8 L811.6 983.3 L813.7 983.4 L815.8 983.5 L817.9 983.9 L820.0 984.2 L822.0 984.3 L824.1 984.7 L826.2 984.9 L828.3 985.2 L830.3 985.4 L832.4 985.7 L834.5 986.0 L836.6 985.9 L838.6 986.1 L840.7 986.6 L842.8 986.9 L844.9 987.1 L847.0 987.4 L849.0 987.4 L851.1 987.6 L853.2 987.8 L855.3 988.2 L857.3 988.5 L859.4 988.6 L861.5 988.9 L863.6 989.1 L865.6 989.4 L867.7 989.7 L869.8 989.8 L871.9 990.2 L874.0 990.3 L876.0 990.6 L878.1 990.8 L880.2 991.1 L882.3 991.5 L884.3 991.8 L886.4 991.8 L888.5 992.1 L890.6 992.2 L892.6 992.5 L894.7 992.7 L896.8 993.0 L898.9 993.2 L900.9 993.4 L903.0 993.6 L905.1 993.7 L907.2 993.9 L909.3 994.4 L911.3 994.5 L913.4 994.7 L915.5 994.9 L917.6 995.2 L919.6 995.4 L921.7 995.8 L923.8 996.0 L925.9 996.0 L927.9 996.4 L930.0 996.8 L932.1 996.8 L934.2 996.9 L936.2 997.0 L938.3 997.1 L940.4 997.6 L942.5 998.0 L944.6 998.1 L946.6 998.1 L948.7 998.4 L950.8 998.7 L952.9 998.9 L954.9 999.1 L957.0 999.3 L959.1 999.4 L961.2 999.7 L963.2 1000.1 L965.3 1000.1 L967.4 1000.4 L969.5 1000.6 L971.6 1000.8 L973.6 1000.9 L975.7 1001.0 L977.8 1001.3 L979.9 1001.5 L981.9 1001.6 L984.0 1001.6 L986.1 1001.9 L988.2 1002.3 L990.2 1002.5 L992.3 1002.6 L994.4 1003.0 L996.5 1003.2 L998.5 1003.4 L1000.6 1003.4 L1002.7 1003.5 L1004.8 1003.6 L1006.9 1003.8 L1008.9 1004.0 L1011.0 1004.2 L1013.1 1004.5 L1015.2 1004.6 L1017.2 1004.8 L1019.3 1005.0 L1021.4 1005.3 L1023.5 1005.4 L1025.5 1005.5 L1027.6 1005.6 L1029.7 1005.8 L1031.8 1006.0 L1033.9 1006.1 L1035.9 1006.1 L1038.0 1006.5 L1040.1 1006.7 L1042.2 1006.7 L1044.2 1006.8 L1046.3 1006.8 L1048.4 1007.1 L1050.5 1007.4 L1052.5 1007.4 L1054.6 1007.5 L1056.7 1007.8 L1058.8 1008.0 L1060.8 1008.3 L1062.9 1008.4 L1065.0 1008.6 L1067.1 1008.6 L1069.2 1008.5 L1071.2 1008.6 L1073.3 1008.9 L1075.4 1009.4 L1077.5 1009.5 L1079.5 1009.6 L1081.6 1009.7 L1083.7 1010.0 L1085.8 1010.1 L1087.8 1010.1 L1089.9 1010.1 L1092.0 1010.3 L1094.1 1010.4 L1096.2 1010.8 L1098.2 1010.9 L1100.3 1011.1 L1102.4 1011.3 L1104.5 1011.4 L1106.5 1011.7 L1108.6 1011.7 L1110.7 1011.9 L1112.8 1012.0 L1114.8 1012.3 L1116.9 1012.3 L1119.0 1012.5 L1121.1 1012.9 L1123.2 1012.8 L1125.2 1013.0 L1127.3 1013.2 L1129.4 1013.3 L1131.5 1013.6 L1133.5 1013.6 L1135.6 1013.7 L1137.7 1013.9 L1139.8 1014.0 L1141.8 1014.1 L1143.9 1014.3 L1146.0 1014.5 L1148.1 1014.8 L1150.1 1014.9 L1152.2 1015.0 L1154.3 1015.5 L1156.4 1015.5 L1158.5 1015.6 L1160.5 1015.8 L1162.6 1016.0 L1164.7 1016.2 L1166.8 1016.2 L1168.8 1016.3 L1170.9 1016.6 L1173.0 1016.6 L1175.1 1016.7 L1177.1 1017.1 L1179.2 1017.2 L1181.3 1017.3 L1183.4 1017.6 L1185.5 1018.0 L1187.5 1018.1 L1189.6 1018.2 L1191.7 1018.2 L1193.8 1018.4 L1195.8 1018.5 L1197.9 1018.7 L1200.0 1018.8 L1202.1 1018.9 L1204.1 1019.1 L1206.2 1019.3 L1208.3 1019.5 L1210.4 1019.6 L1212.4 1019.9 L1214.5 1019.9 L1216.6 1020.2 L1218.7 1020.4 L1220.8 1020.4 L1222.8 1020.5 L1224.9 1020.7 L1227.0 1020.8 L1229.1 1021.0 L1231.1 1021.1 L1233.2 1021.3 L1235.3 1021.7 L1237.4 1021.8 L1239.4 1021.9 L1241.5 1021.9 L1243.6 1021.9 L1245.7 1022.0 L1247.8 1022.3 L1249.8 1022.6 L1251.9 1022.8 L1254.0 1023.0 L1256.1 1023.2 L1258.1 1023.1 L1260.2 1023.2 L1262.3 1023.5 L1264.4 1023.7 L1266.4 1023.9 L1268.5 1024.0 L1270.6 1024.1 L1272.7 1024.3 L1274.7 1024.5 L1276.8 1024.6 L1278.9 1024.7 L1281.0 1024.9 L1283.1 1025.1 L1285.1 1025.2 L1287.2 1025.6 L1289.3 1025.6 L1291.4 1025.7 L1293.4 1025.6 L1295.5 1025.7 L1297.6 1025.9 L1299.7 1026.2 L1301.7 1026.2 L1303.8 1026.5 L1305.9 1026.6 L1308.0 1026.8 L1310.0 1026.9 L1312.1 1027.1 L1314.2 1027.1 L1316.3 1027.2 L1318.4 1027.1 L1320.4 1027.3 L1322.5 1027.5 L1324.6 1027.6 L1326.7 1027.5 L1328.7 1027.9 L1330.8 1028.0 L1332.9 1028.0 L1335.0 1028.2 L1337.0 1028.4 L1339.1 1028.5 L1341.2 1028.6 L1343.3 1028.7 L1345.4 1029.0 L1347.4 1029.1 L1349.5 1029.0 L1351.6 1029.2 L1353.7 1029.2 L1355.7 1029.3 L1357.8 1029.4 L1359.9 1029.5 L1362.0 1029.7 L1364.0 1029.8 L1366.1 1029.9 L1368.2 1029.9 L1370.3 1029.9 L1372.3 1029.9 L1374.4 1030.4 L1376.5 1030.3 L1378.6 1030.5 L1380.7 1030.6 L1382.7 1030.5 L1384.8 1030.9 L1386.9 1031.0 L1389.0 1031.0 L1391.0 1031.1 L1393.1 1031.1 L1395.2 1031.0 L1397.3 1031.3 L1399.3 1031.4 L1401.4 1031.4 L1403.5 1031.5" stroke="#ff80ff" stroke-width="3"/>
<path d="M157.5 739.4 L159.6 767.8 L161.7 788.3 L163.7 805.6 L165.8 820.6 L167.9 834.5 L170.0 847.6 L172.0 858.3 L174.1 865.9 L176.2 872.2 L178.3 877.4 L180.3 881.5 L182.4 885.2 L184.5 888.3 L186.6 891.2 L188.7 893.3 L190.7 894.9 L192.8 896.5 L194.9 897.9 L197.0 898.9 L199.0 899.2 L201.1 899.3 L203.2 899.5 L205.3 899.6 L207.3 899.5 L209.4 899.2 L211.5 899.0 L213.6 898.7 L215.6 899.3 L217.7 900.5 L219.8 901.9 L221.9 903.9 L224.0 906.0 L226.0 908.6 L228.1 911.5 L230.2 914.6 L232.3 917.2 L234.3 920.2 L236.4 923.4 L238.5 926.5 L240.6 929.3 L242.6 931.4 L244.7 933.5 L246.8 935.5 L248.9 937.1 L250.9 938.7 L253.0 939.8 L255.1 940.4 L257.2 941.3 L259.3 941.8 L261.3 942.0 L263.4 942.4 L265.5 942.5 L267.6 942.7 L269.6 942.9 L271.7 943.0 L273.8 943.0 L275.9 943.1 L277.9 943.0 L280.0 942.8 L282.1 942.7 L284.2 942.7 L286.3 942.4 L288.3 942.3 L290.4 942.2 L292.5 942.1 L294.6 941.9 L296.6 941.8 L298.7 941.9 L300.8 941.5 L302.9 941.3 L304.9 941.6 L307.0 941.6 L309.1 941.3 L311.2 941.3 L313.2 941.4 L315.3 941.7 L317.4 942.3 L319.5 942.7 L321.6 943.2 L323.6 943.6 L325.7 944.0 L327.8 944.3 L329.9 944.9 L331.9 945.6 L334.0 946.1 L336.1 946.2 L338.2 946.6 L340.2 946.7 L342.3 946.8 L344.4 946.7 L346.5 947.0 L348.6 946.9 L350.6 947.0 L352.7 946.7 L354.8 946.7 L356.9 947.0 L358.9 946.9 L361.0 947.0 L363.1 946.9 L365.2 946.7 L367.2 946.7 L369.3 946.7 L371.4 946.5 L373.5 946.3 L375.6 946.2 L377.6 946.0 L379.7 945.8 L381.8 945.7 L383.9 945.3 L385.9 945.0 L388.0 944.8 L390.1 944.5 L392.2 944.2 L394.2 944.0 L396.3 943.7 L398.4 943.5 L400.5 943.1 L402.5 942.7 L404.6 942.2 L406.7 941.9 L408.8 941.3 L410.9 940.9 L412.9 940.3 L415.0 940.1 L417.1 939.7 L419.2 939.4 L421.2 939.2 L423.3 938.8 L425.4 938.3 L427.5 937.8 L429.5 937.3 L431.6 937.1 L433.7 936.7 L435.8 936.6 L437.9 936.4 L439.9 936.2 L442.0 936.1 L444.1 935.7 L446.2 935.4 L448.2 935.4 L450.3 935.4 L452.4 935.3 L454.5 935.4 L456.5 935.2 L458.6 935.5 L460.7 935.8 L462.8 936.1 L464.8 936.5 L466.9 936.5 L469.0 936.7 L471.1 937.3 L473.2 937.5 L475.2 937.9 L477.3 938.3 L479.4 938.5 L481.5 938.9 L483.5 939.4 L485.6 940.1 L487.7 940.8 L489.8 941.5 L491.8 941.9 L493.9 942.4 L496.0 943.0 L498.1 943.6 L500.1 943.9 L502.2 944.7 L504.3 945.3 L506.4 945.8 L508.5 946.6 L510.5 947.3 L512.6 947.9 L514.7 948.6 L516.8 949.2 L518.8 949.9 L520.9 950.4 L523.0 950.9 L525.1 951.5 L527.1 952.2 L529.2 952.4 L531.3 952.9 L533.4 953.4 L535.5 954.0 L537.5 954.5 L539.6 954.9 L541.7 955.3 L543.8 955.5 L545.8 956.1 L547.9 956.5 L550.0 956.7 L552.1 957.2 L554.1 957.5 L556.2 958.0 L558.3 958.5 L560.4 958.7 L562.5 958.8 L564.5 959.1 L566.6 959.5 L568.7 959.9 L570.8 960.1 L572.8 960.2 L574.9 960.6 L577.0 960.9 L579.1 961.0 L581.1 961.4 L583.2 961.9 L585.3 962.1 L587.4 962.2 L589.4 962.5 L591.5 962.7 L593.6 963.0 L595.7 963.3 L597.8 963.5 L599.8 963.7 L601.9 963.9 L604.0 964.3 L606.1 964.6 L608.1 964.8 L610.2 965.0 L612.3 965.2 L614.4 965.5 L616.4 965.7 L618.5 965.9 L620.6 966.1 L622.7 966.2 L624.8 966.5 L626.8 966.9 L628.9 967.1 L631.0 967.5 L633.1 967.6 L635.1 967.9 L637.2 968.1 L639.3 968.2 L641.4 968.6 L643.4 968.8 L645.5 968.9 L647.6 969.1 L649.7 969.4 L651.7 969.6 L653.8 969.8 L655.9 969.9 L658.0 970.2 L660.1 970.6 L662.1 970.7 L664.2 970.9 L666.3 971.1 L668.4 971.1 L670.4 971.4 L672.5 971.7 L674.6 971.9 L676.7 972.1 L678.7 972.1 L680.8 972.3 L682.9 972.5 L685.0 972.6 L687.0 973.0 L689.1 973.4 L691.2 973.4 L693.3 973.6 L695.4 973.6 L697.4 973.8 L699.5 974.1 L701.6 974.2 L703.7 974.5 L705.7 974.9 L707.8 975.0 L709.9 974.9 L712.0 974.9 L714.0 975.1 L716.1 975.3 L718.2 975.4 L720.3 975.7 L722.4 975.9 L724.4 975.8 L726.5 976.0 L728.6 976.4 L730.7 976.5 L732.7 976.7 L734.8 976.9 L736.9 977.1 L739.0 977.1 L741.0 977.2 L743.1 977.6 L745.2 977.8 L747.3 978.0 L749.4 978.2 L751.4 978.5 L753.5 978.7 L755.6 978.8 L757.7 979.2 L759.7 979.3 L761.8 979.6 L763.9 979.7 L766.0 979.9 L768.0 980.3 L770.1 980.6 L772.2 980.8 L774.3 980.9 L776.3 981.1 L778.4 981.4 L780.5 981.5 L782.6 981.9 L784.7 982.3 L786.7 982.4 L788.8 982.8 L790.9 983.1 L793.0 983.2 L795.0 983.4 L797.1 983.6 L799.2 983.7 L801.3 984.0 L803.3 984.3 L805.4 984.6 L807.5 984.6 L809.6 985.1 L811.6 985.5 L813.7 985.6 L815.8 985.9 L817.9 986.0 L820.0 986.1 L822.0 986.3 L824.1 986.7 L826.2 987.1 L828.3 987.2 L830.3 987.4 L832.4 987.7 L834.5 988.1 L836.6 988.2 L838.6 988.4 L840.7 988.8 L842.8 988.8 L844.9 989.1 L847.0 989.3 L849.0 989.5 L851.1 989.6 L853.2 989.8 L855.3 990.2 L857.3 990.3 L859.4 990.5 L861.5 990.9 L863.6 990.9 L865.6 991.2 L867.7 991.5 L869.8 991.7 L871.9 991.7 L874.0 992.1 L876.0 992.3 L878.1 992.4 L880.2 992.6 L882.3 993.1 L884.3 993.4 L886.4 993.4 L888.5 993.7 L890.6 994.0 L892.6 994.1 L894.7 994.3 L896.8 994.5 L898.9 994.7 L900.9 994.9 L903.0 995.0 L905.1 995.2 L907.2 995.4 L909.3 995.8 L911.3 996.0 L913.4 996.2 L915.5 996.4 L917.6 996.7 L919.6 996.9 L921.7 996.9 L923.8 997.1 L925.9 997.3 L927.9 997.8 L930.0 998.2 L932.1 998.4 L934.2 998.4 L936.2 998.7 L938.3 998.7 L940.4 999.0 L942.5 999.2 L944.6 999.4 L946.6 999.7 L948.7 999.8 L950.8 999.7 L952.9 1000.0 L954.9 1000.3 L957.0 1000.5 L959.1 1000.7 L961.2 1001.1 L963.2 1001.3 L965.3 1001.3 L967.4 1001.8 L969.5 1001.5 L971.6 1001.7 L973.6 1002.3 L975.7 1002.4 L977.8 1002.4 L979.9 1002.7 L981.9 1002.8 L984.0 1003.2 L986.1 1003.5 L988.2 1003.4 L990.2 1003.4 L992.3 1003.9 L994.4 1004.0 L996.5 1004.2 L998.5 1004.5 L1000.6 1004.7 L1002.7 1004.7 L1004.8 1004.8 L1006.9 1004.9 L1008.9 1005.1 L1011.0 1005.2 L1013.1 1005.6 L1015.2 1005.7 L1017.2 1005.9 L1019.3 1006.0 L1021.4 1006.3 L1023.5 1006.4 L1025.5 1006.4 L1027.6 1006.6 L1029.7 1006.9 L1031.8 1007.0 L1033.9 1007.1 L1035.9 1007.1 L1038.0 1007.2 L1040.1 1007.4 L1042.2 1007.6 L1044.2 1008.0 L1046.3 1007.9 L1048.4 1008.1 L1050.5 1008.2 L1052.5 1008.7 L1054.6 1008.9 L1056.7 1008.9 L1058.8 1009.0 L1060.8 1008.9 L1062.9 1009.1 L1065.0 1009.6 L1067.1 1009.8 L1069.2 1009.8 L1071.2 1009.9 L1073.3 1010.1 L1075.4 1010.2 L1077.5 1010.5 L1079.5 1010.4 L1081.6 1010.5 L1083.7 1010.8 L1085.8 1011.0 L1087.8 1011.2 L1089.9 1011.2 L1092.0 1011.4 L1094.1 1011.9 L1096.2 1011.8 L1098.2 1011.8 L1100.3 1012.0 L1102.4 1012.1 L1104.5 1012.4 L1106.5 1012.5 L1108.6 1012.7 L1110.7 1012.7 L1112.8 1012.8 L1114.8 1013.0 L1116.9 1013.2 L1119.0 1013.5 L1121.1 1013.5 L1123.2 1013.6 L1125.2 1013.8 L1127.3 1014.1 L1129.4 1014.3 L1131.5 1014.4 L1133.5 1014.6 L1135.6 1014.6 L1137.7 1014.8 L1139.8 1015.1 L1141.8 1015.1 L1143.9 1015.3 L1146.0 1015.3 L1148.1 1015.4 L1150.1 1015.8 L1152.2 1015.9 L1154.3 1015.9 L1156.4 1016.1 L1158.5 1016.3 L1160.5 1016.4 L1162.6 1016.7 L1164.7 1016.9 L1166.8 1017.0 L1168.8 1017.1 L1170.9 1017.3 L1173.0 1017.6 L1175.1 1017.6 L1177.1 1017.8 L1179.2 1018.0 L1181.3 1018.1 L1183.4 1018.3 L1185.5 1018.4 L1187.5 1018.7 L1189.6 1018.8 L1191.7 1018.9 L1193.8 1019.0 L1195.8 1019.3 L1197.9 1019.4 L1200.0 1019.6 L1202.1 1019.7 L1204.1 1019.7 L1206.2 1020.1 L1208.3 1019.9 L1210.4 1020.2 L1212.4 1020.4 L1214.5 1020.6 L1216.6 1020.7 L1218.7 1020.9 L1220.8 1021.2 L1222.8 1021.2 L1224.9 1021.3 L1227.0 1021.5 L1229.1 1021.5 L1231.1 1021.5 L1233.2 1021.7 L1235.3 1022.0 L1237.4 1022.4 L1239.4 1022.4 L1241.5 1022.4 L1243.6 1022.7 L1245.7 1022.8 L1247.8 1023.2 L1249.8 1023.2 L1251.9 1023.3 L1254.0 1023.6 L1256.1 1023.5 L1258.1 1023.6 L1260.2 1023.8 L1262.3 1023.9 L1264.4 1024.1 L1266.4 1024.5 L1268.5 1024.5 L1270.6 1024.6 L1272.7 1024.5 L1274.7 1024.8 L1276.8 1025.0 L1278.9 1025.1 L1281.0 1025.2 L1283.1 1025.2 L1285.1 1025.7 L1287.2 1025.7 L1289.3 1025.8 L1291.4 1026.0 L1293.4 1026.1 L1295.5 1026.3 L1297.6 1026.4 L1299.7 1026.4 L1301.7 1026.4 L1303.8 1026.7 L1305.9 1026.7 L1308.0 1026.8 L1310.0 1027.0 L1312.1 1027.2 L1314.2 1027.3 L1316.3 1027.4 L1318.4 1027.5 L1320.4 1027.7 L1322.5 1027.6 L1324.6 1027.8 L1326.7 1027.9 L1328.7 1028.1 L1330.8 1028.2 L1332.9 1028.4 L1335.0 1028.5 L1337.0 1028.5 L1339.1 1028.8 L1341.2 1029.0 L1343.3 1028.9 L1345.4 1028.9 L1347.4 1029.0 L1349.5 1029.0 L1351.6 1029.3 L1353.7 1029.5 L1355.7 1029.3 L1357.8 1029.5 L1359.9 1029.8 L1362.0 1029.9 L1364.0 1029.9 L1366.1 1029.9 L1368.2 1030.0 L1370.3 1030.2 L1372.3 1030.2 L1374.4 1030.4 L1376.5 1030.4 L1378.6 1030.6 L1380.7 1030.7 L1382.7 1030.7 L1384.8 1030.7 L1386.9 1030.6 L1389.0 1030.9 L1391.0 1031.1 L1393.1 1031.2 L1395.2 1031.3 L1397.3 1031.2 L1399.3 1031.1 L1401.4 1031.3 L1403.5 1031.5" stroke="#404040" stroke-width="3"/>
<path d="M157.5 748.6 L159.6 777.1 L161.7 796.7 L163.7 813.5 L165.8 828.0 L167.9 841.6 L170.0 854.5 L172.0 865.2 L174.1 872.8 L176.2 879.2 L178.3 884.5 L180.3 888.7 L182.4 892.4 L184.5 895.6 L186.6 898.4 L188.7 900.6 L190.7 902.6 L192.8 904.2 L194.9 905.6 L197.0 906.9 L199.0 907.5 L201.1 907.5 L203.2 907.7 L205.3 908.0 L207.3 907.8 L209.4 907.5 L211.5 907.2 L213.6 907.0 L215.6 907.4 L217.7 908.6 L219.8 910.3 L221.9 911.9 L224.0 914.1 L226.0 916.8 L228.1 919.7 L230.2 922.8 L232.3 925.8 L234.3 928.8 L236.4 932.0 L238.5 935.0 L240.6 937.9 L242.6 940.2 L244.7 942.2 L246.8 944.1 L248.9 945.6 L250.9 947.1 L253.0 948.4 L255.1 949.2 L257.2 949.6 L259.3 950.3 L261.3 950.8 L263.4 951.0 L265.5 951.3 L267.6 951.6 L269.6 951.7 L271.7 951.8 L273.8 951.9 L275.9 952.0 L277.9 951.9 L280.0 951.9 L282.1 952.1 L284.2 951.8 L286.3 951.6 L288.3 951.2 L290.4 950.9 L292.5 950.6 L294.6 950.8 L296.6 950.7 L298.7 950.6 L300.8 950.8 L302.9 950.7 L304.9 950.6 L307.0 950.4 L309.1 950.4 L311.2 950.4 L313.2 950.6 L315.3 950.9 L317.4 951.5 L319.5 952.0 L321.6 952.6 L323.6 953.1 L325.7 953.7 L327.8 954.0 L329.9 954.4 L331.9 954.9 L334.0 955.3 L336.1 955.6 L338.2 955.9 L340.2 956.0 L342.3 956.2 L344.4 956.3 L346.5 956.5 L348.6 956.5 L350.6 956.5 L352.7 956.5 L354.8 956.6 L356.9 956.6 L358.9 956.5 L361.0 956.5 L363.1 956.4 L365.2 956.3 L367.2 956.3 L369.3 956.2 L371.4 956.1 L373.5 956.1 L375.6 956.0 L377.6 956.0 L379.7 955.7 L381.8 955.5 L383.9 955.5 L385.9 955.4 L388.0 955.0 L390.1 954.6 L392.2 954.3 L394.2 954.1 L396.3 954.0 L398.4 953.7 L400.5 953.2 L402.5 952.8 L404.6 952.5 L406.7 952.1 L408.8 951.5 L410.9 951.3 L412.9 950.9 L415.0 950.4 L417.1 950.1 L419.2 949.8 L421.2 949.3 L423.3 949.1 L425.4 948.8 L427.5 948.5 L429.5 948.0 L431.6 947.6 L433.7 947.6 L435.8 947.3 L437.9 947.1 L439.9 946.8 L442.0 946.4 L444.1 946.3 L446.2 946.1 L448.2 945.9 L450.3 945.8 L452.4 945.7 L454.5 945.9 L456.5 946.1 L458.6 946.2 L460.7 946.4 L462.8 946.6 L464.8 947.0 L466.9 947.1 L469.0 947.4 L471.1 947.8 L473.2 948.1 L475.2 948.2 L477.3 948.5 L479.4 948.9 L481.5 949.6 L483.5 950.1 L485.6 950.6 L487.7 951.2 L489.8 951.7 L491.8 952.6 L493.9 953.2 L496.0 953.7 L498.1 954.5 L500.1 955.0 L502.2 955.5 L504.3 956.1 L506.4 956.7 L508.5 957.4 L510.5 958.1 L512.6 958.7 L514.7 959.1 L516.8 959.6 L518.8 960.3 L520.9 960.9 L523.0 961.4 L525.1 962.0 L527.1 962.6 L529.2 963.0 L531.3 963.4 L533.4 963.8 L535.5 964.3 L537.5 964.5 L539.6 965.0 L541.7 965.5 L543.8 965.7 L545.8 966.1 L547.9 966.5 L550.0 967.0 L552.1 967.4 L554.1 967.6 L556.2 967.8 L558.3 968.0 L560.4 968.2 L562.5 968.7 L564.5 969.1 L566.6 969.3 L568.7 969.6 L570.8 969.8 L572.8 969.9 L574.9 970.4 L577.0 970.6 L579.1 970.6 L581.1 970.6 L583.2 971.1 L585.3 971.4 L587.4 971.7 L589.4 971.9 L591.5 972.1 L593.6 972.3 L595.7 972.8 L597.8 973.0 L599.8 973.0 L601.9 973.1 L604.0 973.4 L606.1 973.6 L608.1 973.9 L610.2 974.1 L612.3 974.4 L614.4 974.5 L616.4 974.6 L618.5 975.0 L620.6 975.2 L622.7 975.3 L624.8 975.3 L626.8 975.7 L628.9 976.0 L631.0 976.2 L633.1 976.3 L635.1 976.4 L637.2 976.7 L639.3 977.1 L641.4 977.3 L643.4 977.5 L645.5 977.6 L647.6 977.8 L649.7 978.0 L651.7 978.2 L653.8 978.4 L655.9 978.4 L658.0 978.5 L660.1 978.7 L662.1 978.9 L664.2 979.2 L666.3 979.3 L668.4 979.6 L670.4 979.7 L672.5 979.6 L674.6 979.7 L676.7 980.2 L678.7 980.4 L680.8 980.3 L682.9 980.4 L685.0 980.7 L687.0 981.0 L689.1 981.1 L691.2 981.1 L693.3 981.2 L695.4 981.4 L697.4 981.6 L699.5 981.7 L701.6 981.7 L703.7 981.7 L705.7 982.1 L707.8 982.4 L709.9 982.3 L712.0 982.6 L714.0 982.7 L716.1 982.8 L718.2 982.9 L720.3 983.0 L722.4 983.2 L724.4 983.3 L726.5 983.5 L728.6 983.7 L730.7 983.6 L732.7 983.9 L734.8 984.2 L736.9 984.3 L739.0 984.3 L741.0 984.4 L743.1 984.6 L745.2 984.9 L747.3 985.0 L749.4 985.2 L751.4 985.3 L753.5 985.6 L755.6 985.8 L757.7 985.9 L759.7 986.2 L761.8 986.4 L763.9 986.5 L766.0 986.5 L768.0 986.5 L770.1 986.9 L772.2 987.2 L774.3 987.4 L776.3 987.6 L778.4 987.8 L780.5 987.9 L782.6 988.1 L784.7 988.4 L786.7 988.5 L788.8 988.6 L790.9 989.1 L793.0 989.3 L795.0 989.4 L797.1 989.7 L799.2 990.0 L801.3 990.2 L803.3 990.5 L805.4 990.6 L807.5 990.7 L809.6 990.9 L811.6 991.0 L813.7 991.4 L815.8 991.8 L817.9 991.6 L820.0 991.8 L822.0 992.2 L824.1 992.3 L826.2 992.3 L828.3 992.6 L830.3 993.0 L832.4 993.2 L834.5 993.5 L836.6 993.4 L838.6 993.6 L840.7 993.9 L842.8 994.1 L844.9 994.5 L847.0 994.6 L849.0 994.7 L851.1 994.7 L853.2 994.8 L855.3 995.2 L857.3 995.5 L859.4 995.7 L861.5 995.8 L863.6 996.0 L865.6 996.2 L867.7 996.4 L869.8 996.8 L871.9 996.8 L874.0 996.9 L876.0 997.1 L878.1 997.3 L880.2 997.5 L882.3 997.7 L884.3 997.8 L886.4 998.0 L888.5 998.3 L890.6 998.6 L892.6 998.6 L894.7 999.0 L896.8 999.1 L898.9 999.2 L900.9 999.4 L903.0 999.7 L905.1 999.6 L907.2 999.7 L909.3 1000.0 L911.3 1000.1 L913.4 1000.4 L915.5 1000.7 L917.6 1000.8 L919.6 1000.8 L921.7 1000.9 L923.8 1001.2 L925.9 1001.7 L927.9 1001.8 L930.0 1001.9 L932.1 1002.1 L934.2 1002.4 L936.2 1002.6 L938.3 1002.6 L940.4 1002.8 L942.5 1002.9 L944.6 1003.1 L946.6 1003.1 L948.7 1003.5 L950.8 1003.8 L952.9 1003.9 L954.9 1004.0 L957.0 1004.3 L959.1 1004.4 L961.2 1004.4 L963.2 1004.5 L965.3 1004.9 L967.4 1005.1 L969.5 1005.2 L971.6 1005.3 L973.6 1005.5 L975.7 1005.6 L977.8 1005.7 L979.9 1005.9 L981.9 1006.0 L984.0 1006.2 L986.1 1006.5 L988.2 1006.8 L990.2 1006.9 L992.3 1007.0 L994.4 1007.2 L996.5 1007.1 L998.5 1007.3 L1000.6 1007.6 L1002.7 1007.7 L1004.8 1007.7 L1006.9 1008.0 L1008.9 1008.2 L1011.0 1008.3 L1013.1 1008.4 L1015.2 1008.5 L1017.2 1008.7 L1019.3 1008.8 L1021.4 1008.9 L1023.5 1009.1 L1025.5 1009.3 L1027.6 1009.5 L1029.7 1009.7 L1031.8 1009.7 L1033.9 1010.1 L1035.9 1010.1 L1038.0 1010.1 L1040.1 1010.1 L1042.2 1010.6 L1044.2 1010.9 L1046.3 1010.8 L1048.4 1010.9 L1050.5 1011.1 L1052.5 1011.2 L1054.6 1011.4 L1056.7 1011.5 L1058.8 1011.5 L1060.8 1011.8 L1062.9 1012.1 L1065.0 1012.1 L1067.1 1012.2 L1069.2 1012.4 L1071.2 1012.3 L1073.3 1012.6 L1075.4 1012.8 L1077.5 1012.6 L1079.5 1013.0 L1081.6 1013.3 L1083.7 1013.3 L1085.8 1013.3 L1087.8 1013.5 L1089.9 1013.7 L1092.0 1013.9 L1094.1 1014.0 L1096.2 1013.9 L1098.2 1014.2 L1100.3 1014.4 L1102.4 1014.4 L1104.5 1014.5 L1106.5 1014.8 L1108.6 1014.8 L1110.7 1014.9 L1112.8 1014.9 L1114.8 1015.3 L1116.9 1015.4 L1119.0 1015.5 L1121.1 1015.7 L1123.2 1015.8 L1125.2 1016.1 L1127.3 1016.2 L1129.4 1016.4 L1131.5 1016.4 L1133.5 1016.5 L1135.6 1016.6 L1137.7 1016.7 L1139.8 1016.9 L1141.8 1017.0 L1143.9 1017.2 L1146.0 1017.4 L1148.1 1017.6 L1150.1 1017.7 L1152.2 1017.8 L1154.3 1017.9 L1156.4 1017.8 L1158.5 1018.2 L1160.5 1018.5 L1162.6 1018.7 L1164.7 1018.8 L1166.8 1018.8 L1168.8 1019.1 L1170.9 1019.2 L1173.0 1019.5 L1175.1 1019.9 L1177.1 1020.0 L1179.2 1019.7 L1181.3 1019.8 L1183.4 1020.0 L1185.5 1020.3 L1187.5 1020.2 L1189.6 1020.6 L1191.7 1020.9 L1193.8 1020.7 L1195.8 1021.0 L1197.9 1021.2 L1200.0 1021.2 L1202.1 1021.6 L1204.1 1021.6 L1206.2 1021.6 L1208.3 1021.6 L1210.4 1021.9 L1212.4 1022.1 L1214.5 1022.2 L1216.6 1022.3 L1218.7 1022.3 L1220.8 1022.6 L1222.8 1022.8 L1224.9 1022.7 L1227.0 1023.0 L1229.1 1023.2 L1231.1 1023.2 L1233.2 1023.2 L1235.3 1023.4 L1237.4 1023.5 L1239.4 1023.6 L1241.5 1023.8 L1243.6 1024.1 L1245.7 1024.3 L1247.8 1024.4 L1249.8 1024.5 L1251.9 1024.6 L1254.0 1024.8 L1256.1 1024.9 L1258.1 1025.0 L1260.2 1025.1 L1262.3 1025.2 L1264.4 1025.3 L1266.4 1025.2 L1268.5 1025.6 L1270.6 1025.7 L1272.7 1025.7 L1274.7 1026.0 L1276.8 1026.1 L1278.9 1026.4 L1281.0 1026.3 L1283.1 1026.3 L1285.1 1026.5 L1287.2 1026.6 L1289.3 1026.8 L1291.4 1026.8 L1293.4 1026.9 L1295.5 1027.1 L1297.6 1027.5 L1299.7 1027.3 L1301.7 1027.5 L1303.8 1027.7 L1305.9 1027.7 L1308.0 1027.7 L1310.0 1027.8 L1312.1 1027.9 L1314.2 1028.1 L1316.3 1027.9 L1318.4 1028.3 L1320.4 1028.4 L1322.5 1028.4 L1324.6 1028.6 L1326.7 1028.8 L1328.7 1028.9 L1330.8 1028.8 L1332.9 1028.8 L1335.0 1029.0 L1337.0 1029.0 L1339.1 1029.0 L1341.2 1029.3 L1343.3 1029.4 L1345.4 1029.4 L1347.4 1029.6 L1349.5 1029.7 L1351.6 1029.9 L1353.7 1030.1 L1355.7 1030.0 L1357.8 1029.7 L1359.9 1029.8 L1362.0 1030.1 L1364.0 1030.3 L1366.1 1030.5 L1368.2 1030.4 L1370.3 1030.5 L1372.3 1030.5 L1374.4 1030.4 L1376.5 1030.7 L1378.6 1030.8 L1380.7 1030.7 L1382.7 1030.8 L1384.8 1031.0 L1386.9 1030.9 L1389.0 1030.9 L1391.0 1031.1 L1393.1 1031.3 L1395.2 1031.1 L1397.3 1031.2 L1399.3 1031.3 L1401.4 1031.3 L1403.5 1031.5" stroke="#ff0000" stroke-width="4"/>
</g>
<g shape-rendering="crispEdges" fill="#000"><rect x="951" y="310" width="3" height="266"/><path d="M946 575 L959 575 L952.5 596 Z"/></g>
<defs><filter id="thr" filterUnits="userSpaceOnUse" x="0" y="0" width="1465" height="1203" color-interpolation-filters="sRGB"><feComponentTransfer><feFuncA type="discrete" tableValues="0 1"/></feComponentTransfer></filter></defs>
<g font-family="'Liberation Sans', sans-serif" fill="#000" filter="url(#thr)">
<text transform="translate(136.1 1059.5) scale(1.0000 1.0270)" font-size="56" font-weight="normal" text-anchor="end">0</text>
<text transform="translate(136.1 808.4) scale(1.0000 1.0270)" font-size="56" font-weight="normal" text-anchor="end">1</text>
<text transform="translate(136.1 557.3) scale(1.0000 1.0270)" font-size="56" font-weight="normal" text-anchor="end">2</text>
<text transform="translate(136.1 306.2) scale(1.0000 1.0270)" font-size="56" font-weight="normal" text-anchor="end">3</text>
<text transform="translate(136.1 55.1) scale(1.0000 1.0270)" font-size="56" font-weight="normal" text-anchor="end">4</text>
<text transform="translate(157.5 1108.7) scale(1.0000 1.0270)" font-size="56" font-weight="normal" text-anchor="middle">200</text>
<text transform="translate(365.2 1108.7) scale(1.0000 1.0270)" font-size="56" font-weight="normal" text-anchor="middle">300</text>
<text transform="translate(572.8 1108.7) scale(1.0000 1.0270)" font-size="56" font-weight="normal" text-anchor="middle">400</text>
<text transform="translate(780.5 1108.7) scale(1.0000 1.0270)" font-size="56" font-weight="normal" text-anchor="middle">500</text>
<text transform="translate(988.2 1108.7) scale(1.0000 1.0270)" font-size="56" font-weight="normal" text-anchor="middle">600</text>
<text transform="translate(1195.8 1108.7) scale(1.0000 1.0270)" font-size="56" font-weight="normal" text-anchor="middle">700</text>
<text transform="translate(1403.5 1108.7) scale(1.0000 1.0270)" font-size="56" font-weight="normal" text-anchor="middle">800</text>
<text transform="translate(543.1 1175.6) scale(1.0098 1.0350)" font-size="55" font-weight="bold" text-anchor="start">Wavelengths (nm)</text>
<text transform="translate(55.0 626.0) rotate(-90) scale(1.0163 1.0400)" font-size="56" font-weight="bold" text-anchor="start">Absorbance</text>
<text transform="translate(982.6 315.0) scale(1.0070 1.0270)" font-size="56" font-weight="normal" text-anchor="start">0 min.</text>
<text transform="translate(982.6 620.2) scale(1.0070 1.0270)" font-size="56" font-weight="normal" text-anchor="start">90 min.</text>
<text transform="translate(153.4 92.0) scale(0.9639 1.0198)" font-size="49" font-weight="bold" text-anchor="start" fill="#0000ff">0.2 mg/mL TiO2/SWCNH 5%+0.1 ml IPA + 98.5 μM AMOX</text>
</g>
</svg>
</body></html>
